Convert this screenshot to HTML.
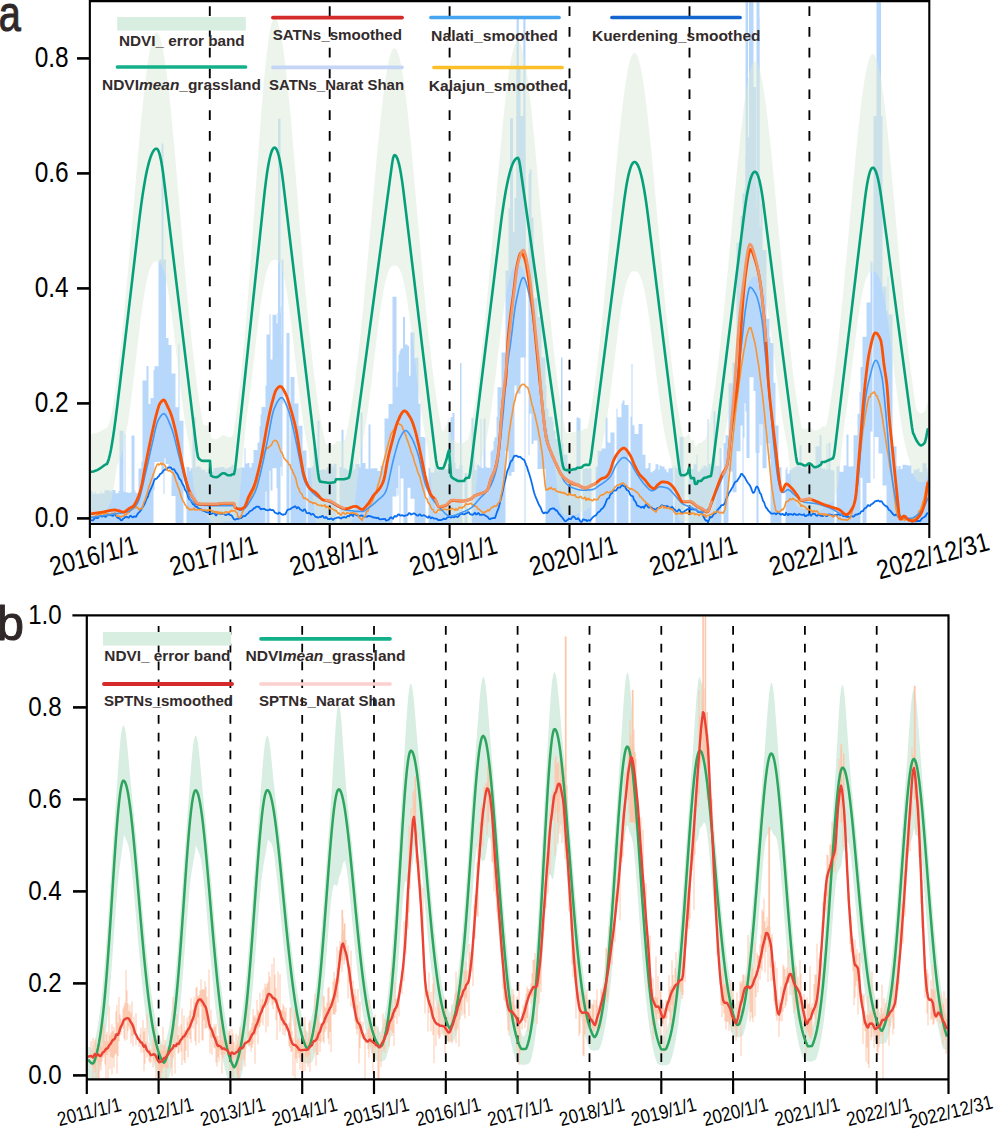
<!DOCTYPE html>
<html><head><meta charset="utf-8"><style>
html,body{margin:0;padding:0;background:#fff;}
body{width:1000px;height:1131px;overflow:hidden;font-family:"Liberation Sans", sans-serif;}
svg{display:block;}
</style></head><body>
<svg width="1000" height="1131" viewBox="0 0 1000 1131">
<defs><clipPath id="ca"><rect x="90.9" y="2.2" width="837.4" height="520.8"/></clipPath><clipPath id="cb"><rect x="87.9" y="616.5" width="859.9" height="461.9"/></clipPath></defs>
<g clip-path="url(#ca)"><path d="M90.5 490.9h2V524.1h-2zM92.5 493.7h2V524.1h-2zM94.5 491.8h1V524.1h-1zM95.5 493.8h2V524.1h-2zM97.5 493.8h3V524.1h-3zM100.5 491.2h1V524.1h-1zM101.5 493.2h3V524.1h-3zM104.5 490.3h4V524.1h-4zM108.5 490.6h2V524.1h-2zM110.5 491.8h1V524.1h-1zM111.5 490h4V524.1h-4zM115.5 493.2h3V524.1h-3zM118.5 491.1h1V524.1h-1zM119.5 430.7h4V524.1h-4zM123.5 491.8h1V524.1h-1zM124.5 433.9h1V524.1h-1zM125.5 492.3h2V524.1h-2zM127.5 492.8h3V524.1h-3zM130.5 492.3h1V524.1h-1zM131.5 435.5h3V524.1h-3zM134.5 490.5h1V524.1h-1zM135.5 493.1h3V524.1h-3zM138.5 468.6h3V524.1h-3zM141.5 461.6h1V524.1h-1zM142.5 380.6h4V524.1h-4zM146.5 366.1h2V524.1h-2zM148.5 404h2V524.1h-2zM150.5 398h3V524.1h-3zM153.5 369.9h1V490.3h-1zM154.5 366.3h4V462h-4zM158.5 261.2h3V461.7h-3zM161.5 324.7h2V473.2h-2zM163.5 335.2h1V494h-1zM164.5 354.2h1V458.2h-1zM165.5 338h3V463.9h-3zM168.5 344.9h3V469h-3zM171.5 373.4h4V496h-4zM175.5 407.3h3V524.1h-3zM178.5 343.8h1V524.1h-1zM179.5 420.8h4V524.1h-4zM186.5 466.9h3V524.1h-3zM189.5 471.3h1V524.1h-1zM190.5 468.2h2V524.1h-2zM192.5 417.3h3V524.1h-3zM195.5 467.6h1V524.1h-1zM196.5 466.3h3V524.1h-3zM199.5 467.4h2V524.1h-2zM201.5 469.7h4V524.1h-4zM205.5 472.3h2V524.1h-2zM207.5 469h2V524.1h-2zM209.5 471.6h4V524.1h-4zM213.5 467.9h3V524.1h-3zM216.5 467.5h4V524.1h-4zM220.5 466.9h4V524.1h-4zM224.5 468.4h4V524.1h-4zM228.5 467h3V524.1h-3zM231.5 464.7h2V524.1h-2zM233.5 469.7h3V524.1h-3zM236.5 468.5h2V524.1h-2zM238.5 468.1h2V524.1h-2zM240.5 467.5h4V524.1h-4zM244.5 448.3h1V524.1h-1zM245.5 463.4h2V524.1h-2zM247.5 462.9h2V524.1h-2zM249.5 467.6h2V524.1h-2zM251.5 463.1h2V524.1h-2zM253.5 450.1h4V524.1h-4zM257.5 442.4h2V524.1h-2zM259.5 426.1h1V524.1h-1zM260.5 414.2h1V524.1h-1zM261.5 407h4V524.1h-4zM265.5 385.6h1V491.5h-1zM266.5 334.6h3V524.1h-3zM269.5 314.2h1V470.7h-1zM270.5 359.5h2V490.4h-2zM272.5 314.7h4V468.3h-4zM276.5 323.6h1V488.3h-1zM277.5 313h3V524.1h-3zM280.5 306.7h1V466.8h-1zM281.5 343.3h1V475.9h-1zM286.5 333.1h3V524.1h-3zM290.5 377.1h4V524.1h-4zM294.5 403.4h4V524.1h-4zM298.5 425.7h4V524.1h-4zM302.5 450.6h4V524.1h-4zM307.5 467.8h4V524.1h-4zM311.5 467.8h1V524.1h-1zM312.5 465.9h1V524.1h-1zM313.5 447.6h3V524.1h-3zM316.5 467.3h1V524.1h-1zM317.5 420.7h2V524.1h-2zM319.5 470h3V524.1h-3zM322.5 469.6h3V524.1h-3zM325.5 470.3h1V524.1h-1zM326.5 467.4h3V524.1h-3zM329.5 464.2h3V524.1h-3zM332.5 467.2h1V524.1h-1zM333.5 463.7h3V524.1h-3zM339.5 467.1h2V524.1h-2zM341.5 429.7h2V524.1h-2zM343.5 468.2h3V524.1h-3zM346.5 470h3V524.1h-3zM349.5 463.7h4V524.1h-4zM353.5 469.3h2V524.1h-2zM355.5 464h4V524.1h-4zM359.5 467.5h1V524.1h-1zM360.5 412.5h2V524.1h-2zM362.5 463.1h3V524.1h-3zM365.5 468.7h3V524.1h-3zM368.5 424.4h2V524.1h-2zM370.5 468.5h3V524.1h-3zM373.5 468.2h4V524.1h-4zM377.5 471h3V524.1h-3zM380.5 465.4h4V524.1h-4zM384.5 418.4h4V524.1h-4zM388.5 403.9h4V524.1h-4zM392.5 296.8h4V496.4h-4zM396.5 386.9h1V487.9h-1zM397.5 372.3h1V495.6h-1zM398.5 354.6h1V465.7h-1zM399.5 351h1V524.1h-1zM400.5 348.6h3V478.5h-3zM403.5 344.6h4V524.1h-4zM407.5 375.7h3V487.7h-3zM410.5 332.6h4V498.8h-4zM414.5 357.8h4V524.1h-4zM418.5 403.7h2V524.1h-2zM420.5 437h4V524.1h-4zM424.5 437.9h1V524.1h-1zM428.5 468h2V524.1h-2zM430.5 472.4h4V524.1h-4zM434.5 466.6h1V524.1h-1zM435.5 468.1h1V524.1h-1zM436.5 469.2h1V524.1h-1zM437.5 471.2h1V524.1h-1zM438.5 467.2h3V524.1h-3zM441.5 467.7h3V524.1h-3zM444.5 469h4V524.1h-4zM448.5 429.4h2V524.1h-2zM450.5 417.3h2V524.1h-2zM452.5 412.9h2V524.1h-2zM454.5 462.7h1V524.1h-1zM455.5 468.7h4V524.1h-4zM459.5 464.9h3V524.1h-3zM464.5 473.1h3V524.1h-3zM471.5 418.1h2V524.1h-2zM473.5 431.3h1V524.1h-1zM474.5 470.2h2V524.1h-2zM476.5 464.7h3V524.1h-3zM479.5 466.8h1V524.1h-1zM480.5 418.9h1V524.1h-1zM481.5 468.1h2V524.1h-2zM483.5 418.6h2V524.1h-2zM485.5 466.7h1V524.1h-1zM486.5 467.7h4V524.1h-4zM490.5 451.9h1V524.1h-1zM491.5 450.2h2V524.1h-2zM493.5 441.3h1V524.1h-1zM494.5 437.3h2V524.1h-2zM496.5 416.7h1V524.1h-1zM497.5 387.3h4V524.1h-4zM501.5 352.4h4V524.1h-4zM505.5 270.6h3V451.1h-3zM508.5 208.4h3V475.7h-3zM511.5 232.3h3V472.1h-3zM514.5 198h2V385.4h-2zM516.5 67.1h4V393.7h-4zM524.5 176.8h1V524.1h-1zM528.5 173.7h1V455.2h-1zM529.5 169.5h2V413.8h-2zM531.5 217.8h2V443.9h-2zM533.5 298.3h4V440.6h-4zM537.5 317h4V468.9h-4zM541.5 357.6h4V468.7h-4zM545.5 385h1V524.1h-1zM546.5 408.8h2V524.1h-2zM548.5 416.7h4V524.1h-4zM552.5 421.2h1V524.1h-1zM553.5 430.5h2V524.1h-2zM555.5 438.9h3V524.1h-3zM558.5 435.1h1V524.1h-1zM559.5 443.4h4V524.1h-4zM563.5 454.7h4V524.1h-4zM567.5 466.7h3V524.1h-3zM570.5 469.7h1V524.1h-1zM571.5 466.5h1V524.1h-1zM572.5 467.6h1V524.1h-1zM573.5 466.9h3V524.1h-3zM576.5 417.6h2V524.1h-2zM578.5 418.3h2V524.1h-2zM582.5 469.1h3V524.1h-3zM585.5 468.1h2V524.1h-2zM587.5 469h1V524.1h-1zM588.5 468.3h3V524.1h-3zM595.5 466.4h2V524.1h-2zM597.5 450.8h4V524.1h-4zM601.5 448.4h4V524.1h-4zM605.5 417.4h2V524.1h-2zM607.5 441.8h1V524.1h-1zM608.5 442.7h2V524.1h-2zM610.5 432.6h4V524.1h-4zM616.5 408.8h1V524.1h-1zM617.5 417.3h4V524.1h-4zM621.5 403.6h1V524.1h-1zM622.5 400.5h2V524.1h-2zM624.5 405.1h4V524.1h-4zM630.5 416.8h1V524.1h-1zM631.5 364.3h1V524.1h-1zM632.5 425.2h2V524.1h-2zM634.5 433.9h4V524.1h-4zM638.5 423.9h4V524.1h-4zM642.5 454.8h3V524.1h-3zM645.5 468.4h2V524.1h-2zM647.5 468.1h1V524.1h-1zM648.5 463.1h2V524.1h-2zM650.5 472.3h2V524.1h-2zM652.5 471h2V524.1h-2zM654.5 469.2h1V524.1h-1zM655.5 464.2h3V524.1h-3zM658.5 469.8h1V524.1h-1zM659.5 465.6h2V524.1h-2zM661.5 466.6h3V524.1h-3zM664.5 469.2h2V524.1h-2zM666.5 472.3h2V524.1h-2zM668.5 468.2h4V524.1h-4zM672.5 467.1h1V524.1h-1zM674.5 465.7h1V524.1h-1zM675.5 468.1h4V524.1h-4zM679.5 437h4V524.1h-4zM683.5 469.9h1V524.1h-1zM688.5 470.3h1V524.1h-1zM689.5 469h4V524.1h-4zM693.5 464.3h3V524.1h-3zM696.5 454.6h1V524.1h-1zM697.5 471.4h3V524.1h-3zM700.5 469.1h1V524.1h-1zM701.5 466.4h1V524.1h-1zM702.5 468.5h1V524.1h-1zM703.5 465.7h3V524.1h-3zM706.5 467.5h1V524.1h-1zM707.5 418.9h1V524.1h-1zM708.5 463.9h2V524.1h-2zM710.5 466.8h3V524.1h-3zM713.5 411.3h2V524.1h-2zM715.5 465.9h4V524.1h-4zM719.5 447.9h2V524.1h-2zM723.5 443h2V524.1h-2zM725.5 435.3h3V524.1h-3zM728.5 383.2h4V471.5h-4zM732.5 362.7h4V492.3h-4zM736.5 242.7h4V451.2h-4zM740.5 216.1h2V425.4h-2zM742.5 192.8h1V524.1h-1zM743.5 194h1V437.7h-1zM744.5 188.3h1V403h-1zM745.5 156.9h1V411.5h-1zM746.5 136.9h3V458.1h-3zM749.5 -53.5h4V377.3h-4zM753.5 121h2V391.1h-2zM755.5 188.1h1V452.8h-1zM756.5 207.8h2V524.1h-2zM758.5 17.3h1V453h-1zM759.5 226.6h1V423.7h-1zM760.5 185.5h1V445.4h-1zM761.5 204.4h1V424.3h-1zM762.5 250h4V468.3h-4zM766.5 318.8h3V443.6h-3zM769.5 337.2h1V458.9h-1zM770.5 343.1h3V524.1h-3zM773.5 382.8h2V524.1h-2zM775.5 425.6h3V524.1h-3zM778.5 467.2h3V524.1h-3zM785.5 469.6h1V524.1h-1zM786.5 467h1V524.1h-1zM787.5 473.8h2V524.1h-2zM789.5 470h2V524.1h-2zM791.5 468.6h2V524.1h-2zM793.5 467.1h3V524.1h-3zM796.5 463.7h3V524.1h-3zM799.5 445.2h2V524.1h-2zM801.5 468.1h2V524.1h-2zM803.5 466.9h3V524.1h-3zM806.5 470.2h1V524.1h-1zM807.5 466.6h2V524.1h-2zM809.5 467.2h2V524.1h-2zM811.5 467.8h4V524.1h-4zM815.5 446.3h4V524.1h-4zM819.5 434.9h2V524.1h-2zM821.5 468.5h4V524.1h-4zM825.5 470.2h1V524.1h-1zM826.5 444h1V524.1h-1zM827.5 468.7h1V524.1h-1zM828.5 442.7h2V524.1h-2zM830.5 470h3V524.1h-3zM833.5 470.9h1V524.1h-1zM836.5 466.2h3V524.1h-3zM839.5 471.7h4V524.1h-4zM843.5 465.5h3V524.1h-3zM846.5 434.6h2V524.1h-2zM848.5 466.5h2V524.1h-2zM850.5 466.5h2V524.1h-2zM852.5 465.9h1V524.1h-1zM853.5 435.3h4V524.1h-4zM857.5 413.8h2V524.1h-2zM859.5 392.2h1V524.1h-1zM860.5 367h2V477.8h-2zM862.5 336.8h4V524.1h-4zM866.5 302.6h4V483.1h-4zM870.5 261.7h2V431.4h-2zM873.5 263.4h1V478.7h-1zM874.5 121.5h4V437h-4zM878.5 290h4V453.4h-4zM882.5 286.4h4V485.6h-4zM886.5 310.5h1V524.1h-1zM887.5 276.7h1V524.1h-1zM888.5 314.6h4V524.1h-4zM892.5 446.2h4V524.1h-4zM896.5 465.9h1V524.1h-1zM897.5 469.6h1V524.1h-1zM898.5 466h2V524.1h-2zM900.5 468.9h2V524.1h-2zM902.5 464.7h3V524.1h-3zM905.5 465h2V524.1h-2zM907.5 465.4h4V524.1h-4zM911.5 473.3h2V524.1h-2zM913.5 469.8h4V524.1h-4zM917.5 468.3h2V524.1h-2zM919.5 472.1h3V524.1h-3zM922.5 463.3h4V524.1h-4zM926.5 468h1V524.1h-1zM927.5 471.6h1V524.1h-1z" fill="#b8d8fb"/><path d="M161.5 143.5H163.5V403.4H161.5zM159.5 259.6H166.0V403.4H159.5zM278.0 118.8H280.5V374.6H278.0zM281.5 259.6H283.5V403.4H281.5zM510.0 118.2H513.0V345.9H510.0zM516.4 115.9H525.7V357.4H516.4zM516.6 18.1H518.8V230.9H516.6zM523.3 18.1H525.5V230.9H523.3zM745.5 230.9H760.0V374.6H745.5zM745.5 -10.6H748.0V288.4H745.5zM749.0 -10.6H751.5V288.4H749.0zM752.0 87.1H756.0V288.4H752.0zM756.5 -10.6H759.5V288.4H756.5zM873.5 115.9H882.5V357.4H873.5zM876.5 -10.6H881.0V230.9H876.5zM403.0 317.1H405.0V432.1H403.0zM407.0 345.9H409.0V449.4H407.0zM460.0 363.1H461.5V472.4H460.0zM561.0 357.4H562.5V472.4H561.0z" fill="#b8d8fb"/><polygon points="91,434 92,434 93,433.8 94,433.6 95,433.3 96,433 97,432.7 98,432.3 99,431.9 100,431.4 101,430.8 102,430.3 103,429.8 104,429.2 105,428.6 106,428.3 107,428.1 108,426.1 109,423.6 110,420.4 111,416.6 112,412.3 113,406.2 114,399.7 115,392.7 116,385.4 117,377.8 118,369.7 119,361.3 120,352.6 121,343.5 122,334 123,324.2 124,314.1 125,303.7 126,293 127,282.1 128,270.9 129,259.6 130,248 131,236.4 132,224.7 133,212.9 134,201.1 135,189.4 136,177.7 137,166.2 138,154.8 139,143.7 140,132.8 141,122.3 142,112.1 143,102.4 144,93.1 145,84.4 146,76.2 147,68.6 148,61.6 149,55.4 150,49.8 151,44.9 152,40.9 153,37.6 154,35.1 155,33.5 156,32.6 157,32.6 158,33.5 159,35.1 160,37.6 161,40.9 162,44.9 163,49.8 164,55.4 165,61.6 166,68.6 167,76.2 168,84.4 169,93.1 170,102.4 171,112.1 172,122.3 173,132.8 174,143.7 175,154.8 176,166.2 177,177.7 178,189.4 179,201.1 180,212.9 181,224.7 182,236.4 183,248 184,259.6 185,270.9 186,282.1 187,293 188,303.7 189,314.1 190,324.2 191,334 192,343.5 193,352.6 194,361.3 195,369.7 196,377.8 197,385.4 198,392.7 199,399.7 200,406.2 201,412.4 202,418.2 203,423.7 204,425.6 205,425.6 206,425.6 207,425.6 208,425.6 209,425.6 210,425.6 211,437.6 212,438.3 213,438.7 214,439 215,439.1 216,439.2 217,439.2 218,438.8 219,438.1 220,437.2 221,436.3 222,435.6 223,435.3 224,435.3 225,435.7 226,436.2 227,436.8 228,437.3 229,437.3 230,437.3 231,437.3 232,436.6 233,434.9 234,429.2 235,423.1 236,416.4 237,409.3 238,401.6 239,393.5 240,384.7 241,375.5 242,365.7 243,355.4 244,344.6 245,333.3 246,321.5 247,309.2 248,296.5 249,283.5 250,270 251,256.3 252,242.3 253,228.2 254,213.9 255,199.6 256,185.2 257,171 258,156.9 259,143.1 260,129.6 261,116.6 262,104 263,92 264,80.7 265,70.1 266,60.3 267,51.4 268,43.5 269,36.5 270,30.6 271,25.8 272,22.2 273,19.7 274,18.4 275,18.2 276,19 277,20.6 278,23.1 279,26.4 280,30.5 281,35.4 282,41.1 283,47.5 284,54.6 285,62.4 286,70.8 287,79.8 288,89.3 289,99.3 290,109.8 291,120.6 292,131.8 293,143.3 294,155 295,166.9 296,178.9 297,191 298,203.2 299,215.4 300,227.5 301,239.5 302,251.4 303,263.2 304,274.7 305,286 306,297.1 307,307.9 308,318.3 309,328.5 310,338.3 311,347.7 312,356.8 313,365.5 314,373.9 315,381.8 316,389.4 317,396.6 318,403.4 319,409.8 320,415.9 321,421.6 322,426.9 323,432 324,436.6 325,441 326,444.5 327,444.6 328,444.7 329,444.8 330,444.8 331,444.8 332,444.6 333,444.5 334,444.2 335,444 336,441.3 337,441.3 338,441.3 339,441.3 340,441.3 341,441.3 342,441.3 343,441.3 344,441.3 345,439.4 346,435.1 347,430.4 348,425.5 349,420.2 350,414.5 351,408.6 352,402.2 353,395.6 354,388.5 355,381.1 356,373.4 357,365.3 358,356.8 359,348 360,338.9 361,329.4 362,319.7 363,309.6 364,299.3 365,288.8 366,278 367,267.1 368,256 369,244.7 370,233.4 371,222.1 372,210.7 373,199.4 374,188.1 375,177 376,166 377,155.3 378,144.8 379,134.7 380,124.9 381,115.5 382,106.5 383,98.1 384,90.2 385,82.8 386,76.1 387,70.1 388,64.7 389,60 390,56.1 391,52.9 392,50.6 393,49 394,48.2 395,48.2 396,49 397,50.6 398,52.9 399,56.1 400,60 401,64.7 402,70.1 403,76.1 404,82.8 405,90.2 406,98.1 407,106.5 408,115.5 409,124.9 410,134.7 411,144.8 412,155.3 413,166 414,177 415,188.1 416,199.4 417,210.7 418,222.1 419,233.4 420,244.7 421,256 422,267.1 423,278 424,288.8 425,299.3 426,309.6 427,319.7 428,329.4 429,338.9 430,348 431,356.8 432,365.3 433,373.4 434,381.1 435,388.5 436,395.6 437,402.2 438,408.6 439,414.5 440,420.2 441,425.5 442,430.4 443,431.3 444,430 445,427.9 446,425.6 447,422.8 448,419.6 449,417.4 450,426.7 451,438.1 452,439.5 453,440.3 454,440.8 455,441.3 456,442 457,442.6 458,443.1 459,443.1 460,443.1 461,443.1 462,443.1 463,443.1 464,443.1 465,441.3 466,440.2 467,440 468,439.9 469,435.8 470,431.2 471,426.2 472,421 473,415.3 474,409.4 475,403.1 476,396.4 477,389.3 478,381.9 479,374.2 480,366 481,357.5 482,348.7 483,339.5 484,330 485,320.2 486,310.1 487,299.7 488,289 489,278.2 490,267.1 491,255.8 492,244.5 493,233 494,221.5 495,209.9 496,198.4 497,186.9 498,175.6 499,164.4 500,153.4 501,142.7 502,132.2 503,122.2 504,112.5 505,103.2 506,94.5 507,86.3 508,78.7 509,71.7 510,65.3 511,59.6 512,54.7 513,50.5 514,47 515,44.3 516,42.5 517,41.4 518,41.2 519,41.7 520,43.1 521,45.3 522,48.3 523,52.1 524,56.6 525,61.8 526,67.8 527,74.4 528,81.7 529,89.5 530,97.9 531,106.9 532,116.3 533,126.1 534,136.4 535,146.9 536,157.7 537,168.8 538,180.1 539,191.5 540,203 541,214.5 542,226.1 543,237.6 544,249 545,260.4 546,271.5 547,282.5 548,293.3 549,303.9 550,314.2 551,324.2 552,333.9 553,343.2 554,352.3 555,361 556,369.3 557,377.3 558,384.9 559,392.2 560,399.1 561,405.6 562,411.8 563,417.6 564,423.1 565,428.3 566,432.6 567,432.7 568,432.7 569,432.7 570,432.7 571,432.5 572,432.4 573,432.2 574,432.1 575,432 576,431.8 577,430.9 578,430.9 579,430.9 580,430.9 581,430.8 582,430.4 583,429.7 584,429 585,428.7 586,428.7 587,428.7 588,426 589,420.7 590,415.2 591,409.2 592,403 593,396.4 594,389.4 595,382.1 596,374.4 597,366.4 598,358.1 599,349.4 600,340.3 601,331 602,321.3 603,311.4 604,301.2 605,290.8 606,280.1 607,269.3 608,258.3 609,247.2 610,236 611,224.8 612,213.5 613,202.3 614,191.2 615,180.2 616,169.4 617,158.7 618,148.4 619,138.3 620,128.6 621,119.3 622,110.5 623,102.1 624,94.3 625,87.1 626,80.4 627,74.4 628,69.1 629,64.5 630,60.6 631,57.5 632,55.1 633,53.5 634,52.7 635,52.7 636,53.5 637,55.1 638,57.5 639,60.6 640,64.5 641,69.1 642,74.4 643,80.4 644,87.1 645,94.3 646,102.1 647,110.5 648,119.3 649,128.6 650,138.3 651,148.4 652,158.7 653,169.4 654,180.2 655,191.2 656,202.3 657,213.5 658,224.8 659,236 660,247.2 661,258.3 662,269.3 663,280.1 664,290.8 665,301.2 666,311.4 667,321.3 668,331 669,340.3 670,349.4 671,358.1 672,366.4 673,374.4 674,382.1 675,389.4 676,396.4 677,403 678,409.2 679,415.2 680,420.7 681,426 682,430.9 683,435.5 684,437.3 685,437.1 686,436.6 687,435.7 688,434.4 689,431.2 690,437 691,440.2 692,440.2 693,440.2 694,440.2 695,445.9 696,445.9 697,445.9 698,443.1 699,443.1 700,443.1 701,443.1 702,442.1 703,440.9 704,440.2 705,439.9 706,438.4 707,434 708,429.4 709,424.4 710,419.1 711,413.5 712,407.5 713,401.2 714,394.6 715,387.6 716,380.3 717,372.6 718,364.5 719,356.2 720,347.5 721,338.5 722,329.2 723,319.6 724,309.7 725,299.6 726,289.3 727,278.8 728,268.1 729,257.3 730,246.4 731,235.4 732,224.4 733,213.4 734,202.4 735,191.6 736,180.9 737,170.3 738,160.1 739,150.1 740,140.4 741,131.1 742,122.2 743,113.8 744,105.8 745,98.5 746,91.7 747,85.5 748,79.9 749,75.1 750,70.9 751,67.5 752,64.8 753,62.8 754,61.7 755,61.3 756,61.7 757,62.8 758,64.8 759,67.5 760,70.9 761,75.1 762,79.9 763,85.5 764,91.7 765,98.5 766,105.8 767,113.8 768,122.2 769,131.1 770,140.4 771,150.1 772,160.1 773,170.3 774,180.9 775,191.6 776,202.4 777,213.4 778,224.4 779,235.4 780,246.4 781,257.3 782,268.1 783,278.8 784,289.3 785,299.6 786,309.7 787,319.6 788,329.2 789,338.5 790,347.5 791,356.2 792,364.5 793,372.6 794,380.3 795,387.6 796,394.6 797,401.2 798,407.5 799,413.5 800,419.1 801,424.4 802,428.3 803,428.8 804,429.2 805,429.2 806,429.2 807,428.7 808,427.9 809,427.5 810,427.6 811,428.2 812,428.9 813,429.7 814,430.2 815,430.5 816,430.4 817,430.2 818,429.8 819,429.4 820,428.9 821,428.4 822,426.5 823,426.5 824,426.5 825,426.4 826,426 827,422.5 828,417 829,411.2 830,405.1 831,398.6 832,391.8 833,384.6 834,377 835,369.1 836,360.9 837,352.3 838,343.4 839,334.2 840,324.7 841,314.8 842,304.8 843,294.4 844,283.9 845,273.1 846,262.2 847,251.2 848,240 849,228.8 850,217.6 851,206.4 852,195.3 853,184.3 854,173.4 855,162.7 856,152.3 857,142.2 858,132.4 859,123 860,114.1 861,105.6 862,97.6 863,90.2 864,83.4 865,77.2 866,71.7 867,66.9 868,62.8 869,59.5 870,56.9 871,55.1 872,54.1 873,53.8 874,54.4 875,55.7 876,57.8 877,60.7 878,64.4 879,68.8 880,73.9 881,79.6 882,86.1 883,93.1 884,100.8 885,108.9 886,117.6 887,126.7 888,136.3 889,146.2 890,156.5 891,167 892,177.7 893,188.7 894,199.7 895,210.9 896,222.1 897,233.3 898,244.5 899,255.6 900,266.6 901,277.4 902,288.1 903,298.6 904,308.8 905,318.8 906,328.5 907,337.9 908,347 909,355.8 910,364.2 911,372.3 912,380.1 913,387.5 914,394.5 915,401.2 916,407.6 917,410.4 918,411.5 919,412.5 920,413.3 921,413.5 922,413.3 923,412.8 924,412.1 925,411.1 926,408.1 927,403.8 928,400 928,475.2 927,477.4 926,479.6 925,481.1 924,481.5 923,481.8 922,482 921,482.1 920,482 919,481.7 918,481.2 917,480.8 916,480 915,478.3 914,476.2 913,474.3 912,470.9 911,466.5 910,462.2 909,458.9 908,455.9 907,452.4 906,448.5 905,444.2 904,439.4 903,434.2 902,428.5 901,422.4 900,415.9 899,409 898,401.7 897,394.1 896,386.2 895,378.2 894,370 893,361.8 892,353.5 891,345.4 890,337.4 889,329.7 888,322.3 887,315.2 886,308.6 885,302.4 884,296.8 883,291.7 882,287.2 881,283.3 880,280 879,277.3 878,275.1 877,273.5 876,272.3 875,271.6 874,271.3 873,271.2 872,271.2 871,271.4 870,272 869,273 868,274.4 867,276.4 866,278.9 865,282 864,285.6 863,289.9 862,294.7 861,300.1 860,306.1 859,312.5 858,319.4 857,326.7 856,334.3 855,342.2 854,350.3 853,358.5 852,366.7 851,374.9 850,383 849,391 848,398.7 847,406.1 846,413.2 845,419.9 844,426.2 843,435.7 842,445.7 841,455.8 840,466 839,476.1 838,485.6 837,490.8 836,493.7 835,496.7 834,499.5 833,501 832,501.5 831,502.1 830,502.8 829,503.4 828,503.7 827,503.9 826,504.1 825,506.6 824,507.4 823,508 822,508.6 821,509.9 820,510.5 819,510.8 818,511 817,511.2 816,511.3 815,511.3 814,511.2 813,510.9 812,510.6 811,510.2 810,509.7 809,508.8 808,508.4 807,508.8 806,509 805,509 804,509 803,508.8 802,508.6 801,508.4 800,508.4 799,507.9 798,507.3 797,506.3 796,504.2 795,501.8 794,499.4 793,495.5 792,487.8 791,478.5 790,468.9 789,459.2 788,449.7 787,444.2 786,439.5 785,434.3 784,428.7 783,422.7 782,416.2 781,409.4 780,402.3 779,394.9 778,387.2 777,379.3 776,371.4 775,363.4 774,355.4 773,347.5 772,339.8 771,332.3 770,325.2 769,318.4 768,312 767,306.2 766,300.8 765,296 764,291.7 763,288.1 762,285 761,282.4 760,280.4 759,278.9 758,277.9 757,277.3 756,277 755,276.9 754,277 753,277.3 752,277.9 751,278.9 750,280.4 749,282.4 748,285 747,288.1 746,291.7 745,296 744,300.8 743,306.2 742,312 741,318.4 740,325.2 739,332.3 738,339.8 737,347.5 736,355.4 735,363.4 734,371.4 733,379.3 732,387.2 731,394.9 730,402.3 729,409.4 728,416.2 727,422.7 726,428.7 725,434.3 724,439.5 723,444.2 722,448.5 721,455 720,464.8 719,474.7 718,484.8 717,494.9 716,504.8 715,513 714,515.9 713,519 712,522 711,523.2 710,523.5 709,523.8 708,524.1 707,524.9 706,526 705,527 704,527 703,527 702,527 701,529.8 700,529.9 699,529.9 698,529.9 697,529.9 696,529.9 695,529.9 694,529.9 693,529.9 692,529.9 691,529.9 690,524.1 689,522.6 688,524.1 687,524.1 686,521.3 685,521.3 684,521.3 683,521.3 682,521.3 681,521.3 680,521.3 679,519 678,516.3 677,513.6 676,508.7 675,499.6 674,489.5 673,479.3 672,469.2 671,459.7 670,456.8 669,453.5 668,449.7 667,445.6 666,440.9 665,435.8 664,430.3 663,424.3 662,417.9 661,411.1 660,403.9 659,396.4 658,388.6 657,380.6 656,372.5 655,364.2 654,356 653,347.8 652,339.8 651,332 650,324.5 649,317.3 648,310.5 647,304.2 646,298.4 645,293.2 644,288.5 643,284.5 642,281 641,278.1 640,275.7 639,273.9 638,272.6 637,271.8 636,271.3 635,271.2 634,271.2 633,271.3 632,271.8 631,272.6 630,273.9 629,275.7 628,278.1 627,281 626,284.5 625,288.5 624,293.2 623,298.4 622,304.2 621,310.5 620,317.3 619,324.5 618,332 617,339.8 616,347.8 615,356 614,364.2 613,372.5 612,380.6 611,388.6 610,396.4 609,403.9 608,411.1 607,417.9 606,424.3 605,430.3 604,435.8 603,440.9 602,445.6 601,449.7 600,453.5 599,456.8 598,460 597,469.6 596,479.2 595,488.7 594,496.9 593,500.7 592,503.2 591,505.6 590,507.7 589,508.3 588,508.6 587,509.4 586,510.3 585,510.9 584,511.2 583,511.5 582,511.8 581,512 580,513.2 579,513.5 578,513.6 577,513.8 576,514.4 575,514.7 574,515 573,515 572,515.1 571,515.2 570,515.2 569,515.2 568,515.2 567,515.2 566,515.2 565,515.1 564,514.8 563,513.8 562,512 561,509.5 560,506.4 559,501.5 558,494.3 557,485.8 556,476.9 555,468.1 554,459.3 553,455.3 552,451.8 551,447.8 550,443.3 549,438.4 548,433.1 547,427.2 546,420.9 545,414.2 544,407.1 543,399.6 542,391.8 541,383.7 540,375.4 539,367 538,358.6 537,350.1 536,341.7 535,333.5 534,325.6 533,318 532,310.7 531,303.9 530,297.6 529,291.8 528,286.6 527,282 526,277.9 525,274.5 524,271.7 523,269.5 522,267.8 521,266.6 520,265.9 519,265.5 518,265.4 517,265.4 516,265.7 515,266.3 514,267.3 513,268.8 512,270.8 511,273.3 510,276.5 509,280.3 508,284.7 507,289.6 506,295.2 505,301.3 504,307.9 503,315 502,322.5 501,330.3 500,338.4 499,346.8 498,355.2 497,363.7 496,372.1 495,380.4 494,388.6 493,396.5 492,404.1 491,411.4 490,418.3 489,424.8 488,430.8 487,436.3 486,441.4 485,446.1 484,450.2 483,453.9 482,457.2 481,460.1 480,462.7 479,464.8 478,468.4 477,478.6 476,488.8 475,499.1 474,508.9 473,515.8 472,518.7 471,521.6 470,524.1 469,525.3 468,527 467,527 466,527 465,527 464,527 463,527 462,527 461,527 460,527 459,527 458,527 457,527 456,527 455,527 454,527 453,526.5 452,525.9 451,525.3 450,521.1 449,516.5 448,516.6 447,516.6 446,510.2 445,511.2 444,512.2 443,512.8 442,512.9 441,512.9 440,512.9 439,512.8 438,512.7 437,511.9 436,509.9 435,507.2 434,504.1 433,499.4 432,491.5 431,481.6 430,471.3 429,461.1 428,451 427,444.7 426,440 425,434.7 424,429 423,422.9 422,416.3 421,409.3 420,401.9 419,394.2 418,386.2 417,377.9 416,369.6 415,361.1 414,352.6 413,344.2 412,336 411,328 410,320.2 409,312.8 408,305.9 407,299.4 406,293.5 405,288.1 404,283.3 403,279.1 402,275.5 401,272.5 400,270.1 399,268.3 398,266.9 397,266.1 396,265.6 395,265.4 394,265.4 393,265.6 392,266.1 391,266.9 390,268.3 389,270.1 388,272.5 387,275.5 386,279.1 385,283.3 384,288.1 383,293.5 382,299.4 381,305.9 380,312.8 379,320.2 378,328 377,336 376,344.2 375,352.6 374,361.1 373,369.6 372,377.9 371,386.2 370,394.2 369,401.9 368,409.3 367,416.3 366,422.9 365,429 364,434.7 363,440 362,444.7 361,449 360,455.6 359,464.8 358,474 357,483.3 356,492.7 355,502 354,510.4 353,516.7 352,519.8 351,522.6 350,524.7 349,525 348,525.3 347,525.3 346,525.3 345,525.3 344,525.3 343,525.3 342,525.3 341,525.3 340,525.3 339,527.9 338,528.2 337,528.4 336,528.6 335,528.7 334,528.7 333,528.7 332,528.7 331,528.7 330,528.7 329,528.7 328,528.7 327,528.7 326,528.7 325,528.7 324,528.7 323,528.6 322,528.4 321,528.3 320,528.2 319,528 318,527.9 317,524.8 316,521.9 315,516.3 314,507.4 313,497 312,486.4 311,475.9 310,465.6 309,455.3 308,447.9 307,443.4 306,438.5 305,433.1 304,427.2 303,420.8 302,414 301,406.7 300,399.1 299,391.1 298,382.9 297,374.4 296,365.8 295,357.1 294,348.4 293,339.8 292,331.3 291,323.1 290,315.2 289,307.6 288,300.6 287,294 286,287.9 285,282.4 284,277.6 283,273.3 282,269.7 281,266.7 280,264.3 279,262.4 278,261.1 277,260.3 276,259.8 275,259.7 274,259.7 273,259.9 272,260.4 271,261.3 270,262.8 269,264.7 268,267.2 267,270.4 266,274.1 265,278.5 264,283.5 263,289.1 262,295.2 261,301.9 260,309.1 259,316.7 258,324.7 257,333 256,341.5 255,350.2 254,358.9 253,367.5 252,376.1 251,384.6 250,392.8 249,400.7 248,408.2 247,415.4 246,423.4 245,434.5 244,445.8 243,457.2 242,468.7 241,480.4 240,492.1 239,502.8 238,510 237,513.1 236,516.6 235,520.3 234,521.3 233,521.3 232,521.3 231,521.3 230,521.3 229,521.3 228,521.3 227,521.3 226,521.3 225,521.3 224,521.3 223,522 222,522.7 221,523.1 220,523.2 219,523.2 218,523.2 217,523.2 216,523.2 215,523.2 214,523.2 213,523.2 212,523.2 211,523.1 210,518.8 209,518.5 208,518.1 207,517.4 206,502.7 205,502.7 204,502.7 203,502.7 202,502.7 201,502.5 200,502.3 199,502 198,501.3 197,498.9 196,495.9 195,492.6 194,488.5 193,480.7 192,471.3 191,461.3 190,451.3 189,444.1 188,439.3 187,433.9 186,428.1 185,421.9 184,415.1 183,408 182,400.5 181,392.6 180,384.5 179,376.1 178,367.5 177,358.9 176,350.3 175,341.7 174,333.3 173,325.1 172,317.2 171,309.7 170,302.6 169,296 168,290 167,284.5 166,279.6 165,275.3 164,271.7 163,268.6 162,266.2 161,264.3 160,262.9 159,262.1 158,261.6 157,261.4 156,261.4 155,261.6 154,262.1 153,262.9 152,264.3 151,266.2 150,268.6 149,271.7 148,275.3 147,279.6 146,284.5 145,290 144,296 143,302.6 142,309.7 141,317.2 140,325.1 139,333.3 138,341.7 137,350.3 136,358.9 135,367.5 134,376.1 133,384.5 132,392.6 131,400.5 130,408 129,415.1 128,421.9 127,428.1 126,433.9 125,439.3 124,444.1 123,448.5 122,452.4 121,455.9 120,459 119,461.7 118,464 117,466 116,472.1 115,479.6 114,486.5 113,492.5 112,497.7 111,502.1 110,503.9 109,505.7 108,507.6 107,509.3 106,510 105,510.9 104,511.8 103,512.8 102,513.6 101,514.4 100,515 99,515.7 98,516.3 97,516.7 96,517.1 95,517.3 94,517.4 93,517.5 92,517.6 91,517.6" fill="#dae9da" fill-opacity="0.52"/><line x1="209.8" y1="6.2" x2="209.8" y2="524" stroke="#000" stroke-width="1.9" stroke-dasharray="9.7 11.1"/><line x1="329.7" y1="6.2" x2="329.7" y2="524" stroke="#000" stroke-width="1.9" stroke-dasharray="9.7 11.1"/><line x1="449.6" y1="6.2" x2="449.6" y2="524" stroke="#000" stroke-width="1.9" stroke-dasharray="9.7 11.1"/><line x1="569.5" y1="6.2" x2="569.5" y2="524" stroke="#000" stroke-width="1.9" stroke-dasharray="9.7 11.1"/><line x1="689.5" y1="6.2" x2="689.5" y2="524" stroke="#000" stroke-width="1.9" stroke-dasharray="9.7 11.1"/><line x1="809.4" y1="6.2" x2="809.4" y2="524" stroke="#000" stroke-width="1.9" stroke-dasharray="9.7 11.1"/><polyline points="91,471.8 92,471.8 93,471.6 94,471.3 95,470.9 96,470.5 97,470.1 98,469.6 99,469 100,468.4 101,467.7 102,467 103,466.3 104,465.5 105,464.8 106,464.3 107,464.1 108,461.6 109,458.3 110,454.2 111,449.4 112,443.8 113,437.5 114,430.7 115,423.4 116,415.8 117,408 118,399.9 119,391.7 120,383.4 121,375.1 122,366.7 123,358.2 124,349.8 125,341.3 126,332.8 127,324.3 128,315.8 129,307.3 130,298.8 131,290.3 132,281.8 133,273.2 134,264.7 135,256.2 136,247.7 137,239.2 138,230.7 139,222.2 140,214 141,206.3 142,199.1 143,192.4 144,186.2 145,180.4 146,175.1 147,170.3 148,166 149,162.2 150,158.8 151,155.9 152,153.5 153,151.6 154,150.2 155,149.2 156,148.7 157,148.8 158,149.9 159,152.2 160,155.6 161,160.1 162,165.7 163,172.4 164,180.3 165,188.5 166,196.8 167,205 168,213.3 169,221.5 170,229.8 171,238.1 172,246.3 173,254.6 174,262.8 175,271.1 176,279.3 177,287.6 178,295.8 179,304.1 180,312.4 181,320.6 182,328.9 183,337.1 184,345.4 185,353.6 186,361.9 187,370.1 188,378.4 189,386.7 190,394.9 191,403.2 192,411.4 193,419.7 194,427.9 195,436.1 196,444.1 197,451.5 198,456.9 199,458.8 200,459.6 201,460.3 202,460.8 203,460.9 204,460.9 205,460.9 206,460.9 207,460.9 208,460.9 209,460.9 210,460.9 211,475.6 212,476.2 213,476.7 214,476.9 215,477.1 216,477.2 217,477.1 218,476.7 219,476 220,475.1 221,474.3 222,473.6 223,473.2 224,473.3 225,473.6 226,474.2 227,474.8 228,475.3 229,475.3 230,475.3 231,475.3 232,474.5 233,474.1 234,474.1 235,469.7 236,461.6 237,452.4 238,443 239,433.6 240,424.2 241,414.7 242,405.3 243,395.8 244,386.4 245,377 246,367.5 247,358.1 248,348.7 249,339.2 250,329.8 251,320.4 252,310.9 253,301.5 254,292.1 255,282.6 256,273.2 257,263.8 258,254.3 259,244.9 260,235.5 261,226 262,216.6 263,207.2 264,197.7 265,188.7 266,180.6 267,173.3 268,167 269,161.5 270,157 271,153.3 272,150.5 273,148.7 274,147.7 275,147.6 276,148.5 277,150.3 278,153 279,156.7 280,161.4 281,167 282,173.6 283,181.1 284,189.4 285,197.7 286,206.1 287,214.4 288,222.7 289,231.1 290,239.4 291,247.8 292,256.1 293,264.4 294,272.8 295,281.1 296,289.5 297,297.8 298,306.2 299,314.5 300,322.8 301,331.2 302,339.5 303,347.9 304,356.2 305,364.5 306,372.9 307,381.2 308,389.6 309,397.9 310,406.3 311,414.6 312,422.9 313,431.3 314,439.6 315,448 316,456.3 317,464.6 318,472.5 319,478.8 320,481.6 321,481.7 322,481.9 323,482 324,482.2 325,482.3 326,482.4 327,482.6 328,482.7 329,482.7 330,482.7 331,482.7 332,482.6 333,482.4 334,482.2 335,481.9 336,479.3 337,479.3 338,479.3 339,479.3 340,479.3 341,479.3 342,479.3 343,479.3 344,479.3 345,479 346,478.7 347,478.4 348,478.1 349,477.5 350,473.7 351,467.5 352,460.4 353,453 354,445.7 355,438.3 356,430.9 357,423.5 358,416.1 359,408.7 360,401.2 361,393.8 362,386.4 363,379 364,371.6 365,364.2 366,356.8 367,349.4 368,342 369,334.6 370,327.2 371,319.8 372,312.4 373,305 374,297.6 375,290.2 376,282.8 377,275.4 378,268 379,260.6 380,253.2 381,245.8 382,238.4 383,231 384,223.6 385,216.2 386,208.8 387,201.4 388,194 389,186.6 390,179.2 391,171.8 392,164.4 393,158.4 394,155.4 395,155.1 396,156 397,157.8 398,160.5 399,164.1 400,168.6 401,174.1 402,180.4 403,187.6 404,195.7 405,204 406,212.2 407,220.5 408,228.8 409,237.1 410,245.4 411,253.7 412,262 413,270.2 414,278.5 415,286.8 416,295.1 417,303.4 418,311.7 419,320 420,328.2 421,336.5 422,344.8 423,353.1 424,361.4 425,369.7 426,378 427,386.2 428,394.5 429,402.8 430,411.1 431,419.4 432,427.7 433,436 434,444.2 435,452.4 436,460 437,465.5 438,467.8 439,468.3 440,468.4 441,468.4 442,468.4 443,468.3 444,466.6 445,463.8 446,460.9 447,457.3 448,453.1 449,450.3 450,462.3 451,476.1 452,477.4 453,478.2 454,478.8 455,479.3 456,479.9 457,480.5 458,481 459,481 460,481 461,481 462,481 463,481 464,481 465,479.3 466,478.1 467,478 468,477.8 469,477.7 470,473.3 471,466 472,458 473,449.9 474,441.8 475,433.6 476,425.5 477,417.4 478,409.3 479,401.2 480,393 481,384.9 482,376.8 483,368.7 484,360.6 485,352.4 486,344.3 487,336.2 488,328.1 489,319.9 490,311.8 491,303.7 492,295.6 493,287.5 494,279.3 495,271.2 496,263.1 497,255 498,246.8 499,238.7 500,230.6 501,222.7 502,215.2 503,208.2 504,201.6 505,195.5 506,189.8 507,184.7 508,179.9 509,175.7 510,171.8 511,168.5 512,165.6 513,163.2 514,161.2 515,159.7 516,158.6 517,158 518,157.9 519,160 520,165.2 521,172.2 522,179.3 523,186.3 524,193.4 525,200.5 526,207.5 527,214.6 528,221.7 529,228.7 530,235.8 531,242.9 532,249.9 533,257 534,264.1 535,271.1 536,278.2 537,285.2 538,292.3 539,299.4 540,306.4 541,313.5 542,320.6 543,327.6 544,334.7 545,341.8 546,348.8 547,355.9 548,363 549,370 550,377.1 551,384.2 552,391.2 553,398.3 554,405.3 555,412.4 556,419.5 557,426.5 558,433.6 559,440.7 560,447.7 561,454.6 562,461.2 563,466.3 564,469 565,469.8 566,470 567,470.1 568,470.1 569,470.1 570,470.1 571,469.9 572,469.7 573,469.5 574,469.3 575,469.2 576,468.9 577,467.8 578,467.8 579,467.8 580,467.8 581,467.6 582,467.1 583,466.1 584,465.3 585,464.9 586,464.9 587,464.9 588,465 589,465 590,463.4 591,457.4 592,450.1 593,442.4 594,434.7 595,426.9 596,419.1 597,411.4 598,403.6 599,395.9 600,388.1 601,380.4 602,372.6 603,364.8 604,357.1 605,349.3 606,341.6 607,333.8 608,326 609,318.3 610,310.5 611,302.8 612,295 613,287.3 614,279.5 615,271.7 616,264 617,256.2 618,248.5 619,240.7 620,233 621,225.2 622,217.4 623,209.7 624,201.9 625,194.7 626,188.1 627,182.3 628,177.2 629,172.9 630,169.3 631,166.3 632,164.2 633,162.7 634,162 635,162 636,162.6 637,163.8 638,165.5 639,167.9 640,170.9 641,174.5 642,178.6 643,183.4 644,188.7 645,194.7 646,201.2 647,208.4 648,216.1 649,224.2 650,232.3 651,240.4 652,248.4 653,256.5 654,264.6 655,272.7 656,280.8 657,288.8 658,296.9 659,305 660,313.1 661,321.2 662,329.2 663,337.3 664,345.4 665,353.5 666,361.6 667,369.6 668,377.7 669,385.8 670,393.9 671,402 672,410 673,418.1 674,426.2 675,434.3 676,442.4 677,450.4 678,458.5 679,466.2 680,472.9 681,475.2 682,475.3 683,475.3 684,475.3 685,475.1 686,474.5 687,473.6 688,472.4 689,468.1 690,474.9 691,478.1 692,478.1 693,478.1 694,478.1 695,483.9 696,483.9 697,483.8 698,481 699,481 700,481 701,481 702,480 703,478.9 704,478.1 705,477.8 706,477.5 707,477.2 708,476.8 709,476.5 710,476.2 711,475.9 712,470.2 713,462.6 714,454.7 715,446.7 716,438.7 717,430.8 718,422.8 719,414.8 720,406.8 721,398.9 722,390.9 723,382.9 724,374.9 725,366.9 726,359 727,351 728,343 729,335 730,327.1 731,319.1 732,311.1 733,303.1 734,295.2 735,287.2 736,279.2 737,271.2 738,263.3 739,255.3 740,247.3 741,239.3 742,231.4 743,223.4 744,215.4 745,207.8 746,200.9 747,194.8 748,189.4 749,184.7 750,180.7 751,177.5 752,174.9 753,173.1 754,172 755,171.7 756,172.1 757,173.5 758,175.7 759,178.8 760,182.9 761,187.8 762,193.6 763,200.3 764,207.9 765,215.7 766,223.5 767,231.3 768,239.1 769,246.9 770,254.7 771,262.5 772,270.3 773,278.1 774,285.9 775,293.7 776,301.5 777,309.3 778,317.1 779,324.9 780,332.7 781,340.5 782,348.3 783,356.1 784,363.9 785,371.7 786,379.5 787,387.3 788,395.1 789,402.9 790,410.7 791,418.5 792,426.3 793,434.1 794,441.9 795,449.6 796,456.8 797,462.2 798,463.8 799,463.8 800,463.8 801,464 802,464.4 803,465 804,465.5 805,465.5 806,465.5 807,464.9 808,463.9 809,463.3 810,463.5 811,464.2 812,465.2 813,466.2 814,466.9 815,467.2 816,467.1 817,466.8 818,466.4 819,465.8 820,465.2 821,464.5 822,462 823,462 824,462 825,461.9 826,461.4 827,460.9 828,460.5 829,460 830,459.6 831,459.2 832,458.7 833,458.3 834,455.4 835,448.1 836,439.9 837,431.6 838,423.3 839,415 840,406.7 841,398.3 842,390 843,381.7 844,373.4 845,365.1 846,356.7 847,348.4 848,340.1 849,331.8 850,323.5 851,315.1 852,306.8 853,298.5 854,290.2 855,281.8 856,273.5 857,265.2 858,256.9 859,248.6 860,240.2 861,231.9 862,223.6 863,215.3 864,206.9 865,198.7 866,191.2 867,184.8 868,179.4 869,175 870,171.6 871,169.3 872,168 873,167.7 874,168.2 875,169.7 876,171.9 877,175 878,178.9 879,183.6 880,189.2 881,195.6 882,202.8 883,210.3 884,217.8 885,225.3 886,232.8 887,240.2 888,247.7 889,255.2 890,262.7 891,270.2 892,277.7 893,285.1 894,292.6 895,300.1 896,307.6 897,315.1 898,322.5 899,330 900,337.5 901,345 902,352.5 903,359.9 904,367.4 905,374.9 906,382.4 907,389.9 908,397.3 909,404.8 910,412.3 911,419.8 912,427.2 913,432.9 914,434.8 915,437.2 916,439.5 917,441.3 918,442.8 919,444.1 920,445.1 921,445.4 922,445.1 923,444.5 924,443.6 925,442.2 926,438.4 927,433.1 928,428.3" fill="none" stroke="#05a07a" stroke-width="2.6" stroke-linejoin="round" /><polyline points="91,520 92,520.4 93,520.4 94,519.2 95,518 96,517.5 97,518.2 98,518.1 99,516.5 100,515.8 101,516.1 102,516.7 103,516.2 104,515.9 105,516.7 106,516.8 107,515.3 108,514.8 109,514.9 110,515.2 111,515.3 112,515.4 113,515.9 114,514.3 115,513.8 116,515.8 117,517.2 118,517.9 119,518.2 120,519 121,520.4 122,520.1 123,518.8 124,518.3 125,517.2 126,516.8 127,516.9 128,517.6 129,517.6 130,515.9 131,516 132,516.9 133,517.3 134,516.5 135,516.6 136,516.8 137,515 138,513.3 139,512.4 140,511.3 141,509.9 142,508.3 143,506.5 144,505.2 145,503.2 146,500.1 147,498.4 148,496.5 149,493.1 150,490.9 151,488.6 152,486.4 153,484.2 154,480.8 155,478.9 156,478.9 157,478.2 158,476.9 159,476 160,474.1 161,473.7 162,472.8 163,471.2 164,470.1 165,469.3 166,469.7 167,469 168,467.7 169,467.4 170,467.3 171,467.6 172,469.4 173,469.5 174,469.2 175,470.9 176,472.7 177,473.7 178,475.4 179,477.9 180,479.4 181,480.3 182,482.8 183,484.8 184,486.4 185,489.8 186,491.2 187,493.1 188,496.7 189,499 190,499.7 191,500.5 192,502.6 193,504.3 194,504.6 195,505.9 196,506.8 197,507 198,508 199,508.7 200,508.9 201,509.1 202,510 203,510.8 204,510.7 205,511.1 206,512 207,512.1 208,512.7 209,512.3 210,513.1 211,513.9 212,513.7 213,513.2 214,512.2 215,514.2 216,515.6 217,514.2 218,513.3 219,513.3 220,513.7 221,513.9 222,513.5 223,513.8 224,513.7 225,514.8 226,515 227,514.4 228,514.3 229,513.9 230,515 231,515.1 232,516 233,517.7 234,519.2 235,519.7 236,519.2 237,518.7 238,518.9 239,518.6 240,518.1 241,518.2 242,517.4 243,516.2 244,516.1 245,516 246,515.1 247,514 248,513.5 249,512.2 250,511.2 251,510.7 252,510.2 253,509.4 254,508.1 255,508 256,506.9 257,506.5 258,506.8 259,506.7 260,508.3 261,509.3 262,508.9 263,508.8 264,509 265,509.2 266,510.1 267,510.1 268,510.3 269,510 270,509.2 271,510 272,510.1 273,510 274,511.2 275,512.7 276,513 277,513.6 278,513.9 279,512.5 280,513 281,513.9 282,514.4 283,514.8 284,514.4 285,514.4 286,513 287,510.7 288,509.6 289,509.3 290,509.3 291,508.6 292,507.8 293,507.3 294,506.9 295,506.2 296,507.1 297,508.3 298,507.1 299,507.7 300,509.2 301,509.8 302,510.7 303,511 304,509.5 305,509.5 306,511.7 307,513.2 308,513.3 309,512.8 310,513.4 311,514.7 312,514.2 313,513.8 314,514.8 315,516.1 316,517 317,517.1 318,517.7 319,517.2 320,516.7 321,517.1 322,516 323,515.9 324,517.7 325,518 326,517 327,517.9 328,519.1 329,518.8 330,519.2 331,518.3 332,518.7 333,520 334,518.8 335,518.3 336,518 337,517.6 338,517.7 339,517.2 340,518.1 341,518.5 342,517.7 343,517.5 344,516.9 345,517.3 346,517.6 347,516.5 348,515.8 349,516.3 350,515.2 351,513.5 352,515.2 353,516.1 354,513.9 355,513.6 356,514.8 357,515.3 358,515.7 359,515.8 360,515.9 361,515.5 362,515.5 363,516.3 364,516.8 365,516.7 366,516.7 367,516.9 368,516 369,515.8 370,516.3 371,516.4 372,516.9 373,517.3 374,517.7 375,517.5 376,518.1 377,518 378,517.6 379,518.9 380,519.3 381,519.4 382,519.2 383,519.2 384,518.8 385,518.8 386,520.5 387,520.3 388,520 389,519.5 390,517.7 391,517.2 392,518.2 393,518.7 394,516.8 395,516 396,516.7 397,516.1 398,514.6 399,514.3 400,515.3 401,515.6 402,515.2 403,515.5 404,516.1 405,515.6 406,515.3 407,515.2 408,514.5 409,513.1 410,513.4 411,514.6 412,514.2 413,513.8 414,513.2 415,513.7 416,514.8 417,515.5 418,515.7 419,514.7 420,514.4 421,515.4 422,515.8 423,515.5 424,515.2 425,515.8 426,516.3 427,517.2 428,517.8 429,516.3 430,517.1 431,518.4 432,517.4 433,517.8 434,518.6 435,518.7 436,518.6 437,518.8 438,520 439,520.2 440,519.9 441,520.2 442,519.7 443,519.1 444,518.7 445,519.1 446,518.8 447,517.7 448,517.2 449,516.8 450,517.1 451,517.6 452,516.9 453,517.2 454,517.3 455,516.5 456,516.5 457,516.9 458,516.8 459,515.6 460,514.4 461,513.6 462,513.9 463,514.2 464,514.4 465,513.9 466,513.4 467,513.2 468,512.1 469,512.4 470,514.1 471,514.5 472,514.6 473,514.8 474,513.4 475,512.8 476,514.4 477,514.3 478,512.9 479,513.6 480,514.8 481,514.9 482,514.6 483,514.5 484,514.7 485,515.2 486,516 487,516.6 488,517.3 489,518.8 490,519.3 491,518.3 492,518.4 493,518.1 494,518 495,518 496,515.1 497,511.9 498,509.7 499,506.7 500,502.4 501,497.9 502,494.5 503,490.1 504,484.9 505,481.1 506,476.9 507,472.1 508,469.1 509,467.3 510,463.5 511,461.1 512,460.7 513,458.5 514,456.2 515,455.9 516,455.7 517,455.8 518,456.9 519,457 520,456.6 521,457.6 522,458.5 523,459.3 524,459.6 525,461.8 526,464.8 527,466.8 528,470.4 529,473.3 530,476.5 531,480 532,483.9 533,488.3 534,492.3 535,495.3 536,497.9 537,500.2 538,502.6 539,505 540,506.4 541,508.5 542,511.2 543,512.7 544,513.4 545,512.5 546,512.7 547,513.1 548,512.2 549,510.9 550,509.3 551,508.9 552,508.6 553,508.3 554,508.5 555,509.5 556,510.5 557,510.4 558,512.3 559,514 560,514.8 561,516.3 562,517.1 563,518.7 564,519.9 565,521.3 566,521.1 567,520.1 568,519.6 569,518.4 570,519.2 571,519.1 572,517.5 573,516.5 574,516.7 575,517.8 576,519.2 577,519.2 578,518.1 579,519.3 580,520.8 581,522 582,521.6 583,519.4 584,519.4 585,520.1 586,520 587,521 588,520.4 589,520.2 590,520.8 591,519.5 592,518.2 593,517.2 594,516.3 595,515.7 596,515.3 597,513.7 598,512.3 599,511.9 600,511.1 601,509.6 602,508.7 603,508 604,506.6 605,504.5 606,501.9 607,499.3 608,498.5 609,498.2 610,495.3 611,493.7 612,493.2 613,491.1 614,490.1 615,490.7 616,490.4 617,488.9 618,487.4 619,487.7 620,487.7 621,486.2 622,485.1 623,485.7 624,486.1 625,486.3 626,488.6 627,490.2 628,490.3 629,491.6 630,494.3 631,495.7 632,495.9 633,496.6 634,499.9 635,501 636,502.5 637,505.5 638,505.9 639,506.3 640,506.8 641,507.6 642,507.1 643,506.6 644,508 645,506.1 646,504.6 647,505.6 648,507 649,507.7 650,506.9 651,507.1 652,507.9 653,509.2 654,509 655,509.3 656,509.8 657,508.4 658,507.9 659,507.8 660,507.2 661,506 662,505.1 663,506 664,505.9 665,506.2 666,506.9 667,506 668,506.5 669,507.3 670,507.6 671,507.9 672,506.8 673,507.9 674,509.2 675,509.8 676,511 677,511.6 678,510.7 679,509.4 680,510.4 681,512.4 682,512.5 683,512.2 684,511.8 685,510.8 686,510.3 687,509.3 688,509 689,508.9 690,509.3 691,509.4 692,509.4 693,509.4 694,509.5 695,509.7 696,509.4 697,510.7 698,511.9 699,512.2 700,512 701,511.4 702,512.9 703,515.8 704,517.4 705,519.7 706,520.7 707,520.5 708,522.4 709,520 710,516.8 711,517.5 712,517 713,515.2 714,514 715,513.4 716,512.8 717,510.9 718,509.5 719,508.2 720,507.4 721,505.8 722,505.1 723,505 724,504.2 725,503.2 726,499.5 727,497.2 728,495.3 729,492.7 730,491.5 731,489.8 732,487.9 733,486.4 734,484.2 735,482.2 736,481.6 737,481.2 738,479.6 739,478.1 740,476.6 741,474.2 742,473.8 743,475.1 744,476.3 745,477.8 746,479.7 747,481.5 748,483 749,484.3 750,485.6 751,487.9 752,490.6 753,492.8 754,492.6 755,490.3 756,487.4 757,486.4 758,487.6 759,490.2 760,493.1 761,494.2 762,497.5 763,500.8 764,502 765,505 766,507.6 767,508.5 768,510.2 769,511.4 770,512.2 771,513.3 772,513.6 773,513.6 774,513.4 775,513.3 776,514.3 777,513.6 778,512.4 779,513.2 780,514.1 781,514.6 782,514.2 783,514 784,515.2 785,515.1 786,512.7 787,514 788,515.1 789,513.9 790,514.5 791,513.9 792,514.5 793,515.1 794,513.7 795,513.9 796,514.9 797,514.8 798,514.8 799,514 800,514.3 801,514.6 802,514.8 803,514.9 804,514.3 805,516 806,516 807,515.2 808,515.4 809,514 810,514.4 811,515.8 812,514.4 813,513.8 814,513.9 815,514 816,515.5 817,515.9 818,515 819,514.6 820,515.4 821,515.9 822,515.9 823,516.2 824,515 825,514.6 826,516 827,516.2 828,515 829,514.3 830,514.6 831,515.2 832,515 833,515.5 834,516.2 835,514.9 836,514.6 837,515 838,514.3 839,514.3 840,515.2 841,514.6 842,514.5 843,516 844,516.1 845,515.8 846,516.7 847,516.9 848,516.5 849,517.5 850,517.3 851,516.2 852,516.2 853,516.6 854,516.3 855,515.1 856,514.5 857,514.7 858,514.1 859,513.7 860,513.7 861,511.7 862,511.1 863,511.2 864,509.2 865,508.1 866,507.9 867,506.6 868,505.1 869,505.7 870,506 871,504.6 872,504 873,503.2 874,502.5 875,501.3 876,501 877,501 878,500.4 879,501.1 880,501.7 881,501.1 882,501.7 883,503.7 884,504.7 885,505.6 886,506.3 887,506.5 888,508.3 889,510.1 890,510.3 891,511.6 892,513 893,514 894,515.1 895,515.4 896,514.4 897,514.8 898,516.7 899,517.2 900,517.4 901,517.1 902,517.3 903,516.9 904,517.2 905,517.8 906,518 907,518.7 908,519.9 909,520.6 910,520.1 911,520.4 912,521.7 913,521.3 914,520.5 915,521.3 916,521.3 917,521.2 918,520.8 919,521 920,521.2 921,519.7 922,518.4 923,517.8 924,517.3 925,516.6 926,515.4 927,513.4 928,513.1" fill="none" stroke="#0a6ef2" stroke-width="1.8" stroke-linejoin="round" /><polyline points="91,517.6 92,516.9 93,516.8 94,516.8 95,516.1 96,516.1 97,515 98,513.9 99,514.9 100,514.7 101,513.8 102,513.7 103,513.7 104,514.3 105,513.6 106,513 107,514.3 108,513.6 109,514.6 110,514.2 111,514.5 112,513.4 113,514.1 114,513 115,513.1 116,513.8 117,516.3 118,515.9 119,516.2 120,516.2 121,517.2 122,516.2 123,516.3 124,515.8 125,514.2 126,515 127,513.8 128,512.4 129,512.5 130,511.2 131,510 132,509.1 133,509.1 134,507.6 135,506.2 136,508 137,506.6 138,508.2 139,509.9 140,508.6 141,508.8 142,508.5 143,505.2 144,502.2 145,500.1 146,496.8 147,494.1 148,490.2 149,486.2 150,484.2 151,480.6 152,478.2 153,474.7 154,472.7 155,469.5 156,467 157,464.7 158,463.8 159,465 160,464.2 161,462.9 162,464.6 163,463.7 164,464.5 165,465.4 166,467.6 167,469.9 168,470.7 169,471 170,470.1 171,471.8 172,472.3 173,472.7 174,474.9 175,477.6 176,481.3 177,483.6 178,486.8 179,488.9 180,492.5 181,496.2 182,498.4 183,501.2 184,502.2 185,504.7 186,505.7 187,508 188,507.5 189,509.3 190,509.9 191,509.1 192,509.7 193,509.2 194,507.9 195,510.1 196,510 197,509.5 198,509.4 199,509.9 200,510 201,509.4 202,509.5 203,510.7 204,510 205,510 206,510.8 207,509.9 208,510.8 209,509.6 210,510.2 211,510.4 212,511.1 213,510.9 214,512.5 215,512.2 216,511.4 217,513.4 218,511.6 219,513.6 220,512.1 221,513.4 222,512.4 223,512.9 224,514 225,512 226,511.7 227,512.4 228,512.3 229,511.9 230,512.1 231,510.3 232,511.2 233,510.6 234,511 235,510.8 236,512.1 237,512.9 238,516.7 239,517.6 240,517.7 241,516.2 242,513.4 243,511.1 244,508.9 245,507.4 246,505.7 247,504.7 248,502.6 249,499.1 250,498.7 251,497 252,493.9 253,491 254,490.5 255,487 256,484.3 257,481.2 258,474.5 259,469.8 260,464.8 261,461.4 262,457.4 263,455.2 264,452.4 265,451.1 266,449.9 267,447.4 268,448.1 269,447 270,446.4 271,445.4 272,443.8 273,441.4 274,440.9 275,440.3 276,440.7 277,441.4 278,443.8 279,446.3 280,449.2 281,451.9 282,452.8 283,455.2 284,458.2 285,459.3 286,460.4 287,461.4 288,462.4 289,464.6 290,464.8 291,468.7 292,469.4 293,472.1 294,474.3 295,476.1 296,479.2 297,484.1 298,487.6 299,488.8 300,492.3 301,493.3 302,494.1 303,497.1 304,498.5 305,497.8 306,498.7 307,499.6 308,500 309,501.2 310,502.2 311,501.7 312,502.7 313,503.6 314,502.5 315,503.3 316,503.3 317,504.7 318,504.8 319,505.3 320,505.6 321,505.1 322,506.1 323,505.5 324,505.8 325,504.9 326,507.6 327,506.3 328,507.3 329,507.6 330,508.9 331,508.7 332,508.3 333,509.4 334,509.9 335,510.7 336,510.2 337,511.6 338,513.6 339,512.9 340,514.2 341,515.3 342,513.6 343,512.4 344,513.2 345,514.1 346,513.9 347,512.5 348,513.2 349,513.2 350,513.3 351,513.3 352,512.7 353,512.9 354,513.1 355,514 356,513 357,514.5 358,514.5 359,517.5 360,518.1 361,519.1 362,520.5 363,518 364,516.9 365,516.4 366,513.3 367,511.2 368,511 369,507.1 370,505.4 371,503.3 372,502.1 373,499.5 374,497.2 375,493.8 376,491.8 377,489.1 378,484.6 379,482.2 380,478 381,474.7 382,468.2 383,464.5 384,460.7 385,456.8 386,453 387,448.8 388,445 389,441.2 390,437.7 391,433.9 392,432.5 393,431 394,429.5 395,427.8 396,424.8 397,424.3 398,423.8 399,423.8 400,424.6 401,425 402,426.1 403,429.1 404,431.4 405,433.8 406,435.9 407,439.7 408,441.7 409,445.3 410,447.3 411,451.7 412,453.9 413,456.2 414,460.5 415,463.6 416,466.1 417,469.2 418,472.9 419,474.9 420,477 421,481.8 422,485.3 423,489.3 424,491.7 425,495.8 426,498.3 427,498.8 428,502.6 429,503.4 430,505.1 431,507.9 432,509.3 433,509.6 434,511.9 435,512.5 436,512.9 437,511.5 438,509.9 439,509.7 440,510.5 441,510.1 442,509.8 443,509.3 444,509.6 445,509.3 446,509.3 447,509.7 448,509.5 449,509.3 450,509.5 451,509.1 452,508.2 453,509 454,509.3 455,510.3 456,508.7 457,510.1 458,509.4 459,507.6 460,507.3 461,507.6 462,508.3 463,507.1 464,506.8 465,505.3 466,503.6 467,504.3 468,504.4 469,504.2 470,503.2 471,503.3 472,504.5 473,504.5 474,506.3 475,505.7 476,506.4 477,507.1 478,509 479,509.1 480,510.2 481,511.1 482,511.6 483,512.7 484,513 485,511.5 486,511.9 487,511.1 488,509.8 489,510.9 490,509.5 491,508.1 492,507.4 493,507.4 494,505.9 495,506 496,506.4 497,505.5 498,503.3 499,502.3 500,501.5 501,495.6 502,491.6 503,485.8 504,479.3 505,470 506,461.1 507,450 508,443.2 509,433.6 510,427.4 511,420.1 512,415.1 513,408.6 514,402.9 515,400.3 516,395 517,392.4 518,391 519,388.8 520,387 521,385.3 522,384.6 523,384.4 524,384.3 525,385.4 526,386.7 527,387.2 528,388.1 529,392.1 530,395 531,400.1 532,404.8 533,407.5 534,412.2 535,414.6 536,420.1 537,423.7 538,429 539,434.5 540,439.2 541,445.9 542,452 543,461 544,473.6 545,484.1 546,490 547,489.3 548,489.7 549,488.2 550,488.9 551,487.3 552,488.8 553,489.7 554,489 555,488.7 556,491.1 557,491.3 558,491.6 559,492.3 560,491.6 561,492.7 562,492.9 563,492.3 564,493.5 565,493 566,494.2 567,494.7 568,495.3 569,493.1 570,494.8 571,494.7 572,495.1 573,495.2 574,495.6 575,494.5 576,496.8 577,497.4 578,497.2 579,497.7 580,496.5 581,496.6 582,498.1 583,498.6 584,498.1 585,497.2 586,500.3 587,498.3 588,499.7 589,498.4 590,500.1 591,499.8 592,500.8 593,500.6 594,499 595,499.4 596,500 597,499.6 598,499.3 599,497.2 600,496 601,495.2 602,494.7 603,495 604,493.9 605,493.6 606,492.4 607,491.7 608,492.7 609,492.8 610,491.9 611,491.8 612,491.2 613,489.8 614,489.3 615,487 616,486.3 617,485.2 618,484.9 619,484.7 620,484.4 621,483.5 622,483.5 623,483 624,483.6 625,485.2 626,485.2 627,487.1 628,487.4 629,487.9 630,489.6 631,488.6 632,488.9 633,489.6 634,490.2 635,490.7 636,491.8 637,492.1 638,493.5 639,494.4 640,496.8 641,497.1 642,498.3 643,499.5 644,500.7 645,501 646,503.5 647,503 648,504.1 649,505.1 650,506.2 651,508.2 652,509.3 653,509.8 654,510.7 655,511.1 656,512.1 657,510 658,508.7 659,507.8 660,507.4 661,507.9 662,505.7 663,506.4 664,508.2 665,506.4 666,508 667,508.3 668,508.3 669,507.4 670,509 671,509.1 672,508.9 673,509.9 674,511.9 675,512.9 676,514.2 677,514.2 678,513.4 679,513.5 680,513.6 681,513 682,514.1 683,513.6 684,513 685,513 686,512.7 687,513.1 688,513.5 689,513 690,514 691,514.4 692,512.9 693,513.4 694,513.3 695,514.7 696,513.9 697,514.2 698,514.5 699,515.6 700,514.4 701,513.7 702,514.2 703,515.1 704,514.9 705,514.6 706,517.3 707,515.7 708,515.5 709,515.5 710,514.6 711,514.4 712,514.1 713,513.3 714,512.1 715,512.5 716,512.1 717,511.6 718,511 719,512.7 720,512.8 721,512.9 722,512.3 723,513.3 724,511.4 725,509.4 726,503.2 727,496.8 728,488.6 729,478.3 730,468.7 731,457.5 732,446.6 733,437.2 734,428 735,416.9 736,408.4 737,399.9 738,392.3 739,383.5 740,376.8 741,368.5 742,362.8 743,356.3 744,350.1 745,345.6 746,339.5 747,335 748,331.8 749,328.5 750,327.7 751,327.9 752,331.7 753,335.5 754,339.2 755,343.6 756,348.8 757,355.6 758,361.7 759,367.7 760,376.1 761,384.1 762,391.2 763,399.3 764,409 765,418.8 766,428.8 767,437.7 768,449.1 769,459.1 770,469.9 771,479.8 772,488.7 773,494.5 774,501.6 775,506.6 776,510.9 777,511.2 778,512 779,512.2 780,511.4 781,510.6 782,509.2 783,509.9 784,507.9 785,505.6 786,501.7 787,501.4 788,501.4 789,500.1 790,498.6 791,499.7 792,499.5 793,498.4 794,499.2 795,499.6 796,501.2 797,500.3 798,501.4 799,503 800,503.7 801,506.2 802,505 803,506.2 804,506.4 805,506.8 806,508.1 807,509.6 808,508.7 809,509.9 810,510 811,510.6 812,510.8 813,512.5 814,510.5 815,511.5 816,511.2 817,510.9 818,512.5 819,514.1 820,513.7 821,514.2 822,513.9 823,513.7 824,515.4 825,513.9 826,515.4 827,514.3 828,514.8 829,515.1 830,515.1 831,515.7 832,515.9 833,516.9 834,516.1 835,515.2 836,515.6 837,516.5 838,517.5 839,519 840,518 841,519.4 842,519.6 843,519.8 844,519.5 845,519.9 846,519.6 847,520.3 848,519.8 849,518 850,518.6 851,516.2 852,512.3 853,508.6 854,505.7 855,500 856,493.1 857,486.6 858,477.5 859,465.7 860,456.6 861,447 862,438.9 863,429.3 864,424 865,416.5 866,410.8 867,405 868,400.6 869,396.8 870,397 871,393.9 872,393.5 873,392.9 874,391.8 875,393.3 876,395.4 877,396 878,399 879,401.1 880,404.7 881,410.2 882,415.2 883,422.1 884,429 885,434.9 886,441.5 887,448.2 888,453.4 889,460.4 890,467.6 891,472.1 892,479 893,485.2 894,493.2 895,501.1 896,508.9 897,513.3 898,515.9 899,516.9 900,517.7 901,519.6 902,519.2 903,519.6 904,519.4 905,520.5 906,518.4 907,519.5 908,520.4 909,520.7 910,519.7 911,519.6 912,519.8 913,518.9 914,518.8 915,517.3 916,517.3 917,516 918,514 919,511.1 920,511.3 921,508.2 922,505.6 923,501.3 924,499.1 925,493.9 926,488.3 927,484 928,480.4" fill="none" stroke="#f89434" stroke-width="1.6" stroke-linejoin="round" /><polyline points="91,517.5 92,517.4 93,517.2 94,517.1 95,516.9 96,516.8 97,516.6 98,516.5 99,516.3 100,516.2 101,516 102,515.9 103,515.7 104,515.6 105,515.4 106,515.3 107,515.1 108,514.9 109,514.8 110,514.6 111,514.5 112,514.3 113,514.1 114,514 115,513.8 116,513.6 117,513.5 118,513.4 119,513.2 120,513.1 121,512.9 122,512.8 123,512.6 124,512.5 125,512.3 126,512 127,511.8 128,511.5 129,511.1 130,510.7 131,510.1 132,509.3 133,508.5 134,507.6 135,506.5 136,505.3 137,504 138,502.2 139,499.7 140,496.4 141,492.7 142,488.6 143,484.2 144,479.8 145,475.4 146,471.1 147,467 148,462.6 149,458.1 150,453.6 151,449 152,444.6 153,440.3 154,435.7 155,431.1 156,426.8 157,423.2 158,420.6 159,418.8 160,417.2 161,415.7 162,414.6 163,413.9 164,413.8 165,414.3 166,415.6 167,417.3 168,419.5 169,421.9 170,424.4 171,426.9 172,429.6 173,432.7 174,436.2 175,440.1 176,444.1 177,448.2 178,452.2 179,456.1 180,460 181,464 182,468.1 183,472.2 184,476.2 185,480.2 186,484.1 187,488.1 188,492.5 189,496.4 190,498.8 191,500.2 192,501.4 193,502.4 194,503.3 195,503.9 196,504.4 197,504.6 198,504.7 199,504.9 200,505 201,505.1 202,505.2 203,505.3 204,505.3 205,505.4 206,505.5 207,505.5 208,505.6 209,505.6 210,505.7 211,505.7 212,505.7 213,505.7 214,505.7 215,505.8 216,505.8 217,505.8 218,505.8 219,505.8 220,505.8 221,505.8 222,505.8 223,505.8 224,505.8 225,505.8 226,505.8 227,505.8 228,505.8 229,505.8 230,505.8 231,505.8 232,505.8 233,505.8 234,505.8 235,506.1 236,506.9 237,508 238,509.2 239,510 240,510.3 241,510.2 242,509.9 243,509.4 244,508.7 245,508 246,507.1 247,505.9 248,504.4 249,502.8 250,501.1 251,499.5 252,497.9 253,496.1 254,494.2 255,492.1 256,489.6 257,486.8 258,483.3 259,479.4 260,475.3 261,471 262,466.6 263,462.2 264,457.5 265,452.7 266,447.7 267,442.8 268,437.9 269,432.8 270,427.2 271,421.7 272,416.5 273,412.2 274,409.1 275,406.9 276,404.7 277,402.7 278,400.9 279,399.5 280,398.4 281,397.8 282,397.7 283,398.4 284,399.8 285,401.8 286,404.1 287,406.6 288,409.1 289,412 290,415.4 291,419.3 292,423.5 293,427.8 294,432.1 295,436.6 296,441.3 297,446.2 298,451.2 299,456.1 300,460.9 301,465.9 302,471.1 303,475.8 304,479.3 305,481.7 306,483.8 307,485.5 308,487.1 309,488.4 310,489.6 311,490.8 312,491.9 313,492.9 314,493.9 315,494.8 316,495.6 317,496.4 318,497.1 319,497.7 320,498.3 321,498.8 322,499.3 323,499.7 324,500.1 325,500.4 326,500.8 327,501.1 328,501.5 329,501.9 330,502.3 331,502.8 332,503.3 333,503.8 334,504.4 335,505 336,505.6 337,506.2 338,506.8 339,507.4 340,507.9 341,508.4 342,508.9 343,509.3 344,509.6 345,509.8 346,509.9 347,510.1 348,510.3 349,510.4 350,510.6 351,510.7 352,510.8 353,510.9 354,511.1 355,511.2 356,511.2 357,511.3 358,511.4 359,511.4 360,511.5 361,511.5 362,511.5 363,511.4 364,511 365,510.5 366,509.9 367,509.2 368,508.4 369,507.6 370,506.9 371,506.2 372,505.4 373,504.6 374,503.7 375,502.8 376,501.9 377,500.9 378,500 379,499.1 380,498.3 381,497.5 382,496.6 383,495.6 384,494.4 385,493 386,490.9 387,487.9 388,484.2 389,479.8 390,475.1 391,470.3 392,465.6 393,461.2 394,457.2 395,453.6 396,449.9 397,446.3 398,443 399,440.1 400,437.9 401,436 402,434.2 403,432.5 404,431.3 405,430.6 406,430.5 407,431.1 408,432.1 409,433.5 410,435.1 411,436.8 412,438.5 413,440.6 414,442.9 415,445.5 416,448.2 417,451.1 418,454.2 419,457.9 420,462 421,466.3 422,470.7 423,475 424,479.1 425,482.7 426,485.8 427,488.4 428,490.7 429,492.9 430,494.9 431,496.6 432,498.3 433,499.8 434,501.2 435,502.5 436,503.7 437,504.9 438,506 439,507.1 440,508 441,509.1 442,510.1 443,511.2 444,512.3 445,513.3 446,514.2 447,515 448,515.6 449,516 450,516.1 451,516.1 452,515.9 453,515.8 454,515.5 455,515.2 456,514.9 457,514.5 458,514.1 459,513.7 460,513.2 461,512.8 462,512.4 463,512 464,511.6 465,511.2 466,510.7 467,510.2 468,509.7 469,509.2 470,508.5 471,507.9 472,507.1 473,506.1 474,505.1 475,504 476,502.9 477,501.7 478,500.6 479,499.4 480,498.3 481,497.2 482,496.2 483,495.2 484,494.3 485,493.3 486,492.2 487,491 488,489.8 489,488.4 490,486.8 491,485 492,482.8 493,480.4 494,477.6 495,474.4 496,470.8 497,466.6 498,461.2 499,453.8 500,445 501,435.2 502,425 503,414.9 504,403.8 505,391.3 506,379.2 507,368.9 508,360.9 509,354 510,347.3 511,340 512,331.9 513,323.5 514,315.3 515,308 516,302 517,297.3 518,292.6 519,288.1 520,284.2 521,280.9 522,278.6 523,277.5 524,277.8 525,279.4 526,282.1 527,285.7 528,289.9 529,294.4 530,299.2 531,304.1 532,310.4 533,317.7 534,325.8 535,334.4 536,343 537,352.3 538,362.7 539,373.5 540,384.3 541,394.5 542,403.4 543,411.5 544,419.2 545,426.4 546,432.7 547,437.9 548,442.2 549,446 550,449.4 551,452.5 552,455.3 553,457.9 554,460.3 555,462.5 556,464.6 557,466.6 558,468.5 559,470.4 560,472.4 561,474.5 562,476.7 563,478.9 564,480.8 565,482.3 566,483.3 567,484.3 568,485.1 569,485.8 570,486.4 571,487 572,487.5 573,487.9 574,488.3 575,488.6 576,489 577,489.3 578,489.6 579,489.8 580,490 581,490.1 582,490.2 583,490.2 584,490.2 585,490.2 586,490.1 587,490.1 588,490 589,489.9 590,489.9 591,489.8 592,489.6 593,489.4 594,489.1 595,488.5 596,487.9 597,487.2 598,486.5 599,485.7 600,485 601,484.4 602,483.7 603,483.1 604,482.4 605,481.6 606,480.9 607,480 608,479.1 609,478.1 610,477 611,475.6 612,473.7 613,471.6 614,469.4 615,467.2 616,465.3 617,463.8 618,462.5 619,461.2 620,460 621,458.9 622,458.1 623,457.6 624,457.5 625,457.7 626,458.3 627,459 628,460 629,461 630,462 631,463.3 632,465 633,466.8 634,468.8 635,470.7 636,472.4 637,474 638,475.5 639,477.1 640,478.6 641,480 642,481.4 643,482.8 644,484 645,485 646,486.1 647,487.2 648,488.3 649,489.3 650,490.1 651,490.6 652,490.8 653,490.6 654,490.2 655,489.5 656,488.8 657,488 658,487.4 659,486.9 660,486.8 661,486.8 662,486.9 663,487 664,487.2 665,487.4 666,487.7 667,487.9 668,488.3 669,489 670,489.9 671,490.9 672,492.1 673,493.2 674,494.3 675,495.4 676,496.5 677,497.7 678,498.9 679,500.1 680,501.3 681,502.4 682,503.3 683,504 684,504.6 685,505 686,505.4 687,505.8 688,506.2 689,506.5 690,506.9 691,507.3 692,507.8 693,508.3 694,508.9 695,509.4 696,509.9 697,510.4 698,510.9 699,511.3 700,511.6 701,511.9 702,512 703,512.1 704,511.9 705,511.4 706,510.8 707,510 708,509 709,508 710,506.9 711,505.4 712,503.2 713,500.7 714,497.9 715,495.1 716,492.5 717,490.1 718,487.7 719,485.3 720,482.9 721,480.5 722,478.1 723,476 724,474.1 725,472.1 726,469.8 727,466.6 728,461.5 729,454 730,445 731,435.5 732,426.4 733,417.5 734,408.1 735,398.7 736,389.3 737,380.4 738,372.1 739,364.1 740,356.2 741,348.3 742,340.1 743,331.2 744,321.7 745,312.9 746,305.6 747,299.4 748,293.4 749,289 750,287.2 751,287.5 752,288.3 753,289.5 754,291.1 755,292.8 756,294.7 757,297.1 758,300.2 759,304.1 760,308.8 761,314.1 762,320 763,328.3 764,339.2 765,350.2 766,360.7 767,371.3 768,382.1 769,392.8 770,403.4 771,414.1 772,425.1 773,435.9 774,446.1 775,455.1 776,463.8 777,472.1 778,479.1 779,483.9 780,487.1 781,489.9 782,491.8 783,492.5 784,492.2 785,491.5 786,490.7 787,489.9 788,489.6 789,489.9 790,490.5 791,491.4 792,492.4 793,493.5 794,494.5 795,495.4 796,496.2 797,497 798,497.9 799,498.7 800,499.5 801,500.3 802,501 803,501.6 804,502 805,502.3 806,502.5 807,502.6 808,502.7 809,502.8 810,502.9 811,503 812,503.1 813,503.2 814,503.3 815,503.4 816,503.6 817,503.8 818,504.1 819,504.3 820,504.6 821,504.9 822,505.2 823,505.5 824,505.9 825,506.2 826,506.6 827,506.9 828,507.3 829,507.7 830,508 831,508.5 832,508.9 833,509.5 834,510 835,510.7 836,511.3 837,511.9 838,512.5 839,513.1 840,513.7 841,514.2 842,514.6 843,515 844,515.3 845,515.5 846,515.5 847,515.3 848,514.7 849,513.8 850,512.7 851,511.3 852,509.8 853,507.6 854,504.4 855,500.3 856,495.3 857,489.6 858,481.5 859,470.1 860,457 861,443.8 862,432.1 863,421.5 864,411.2 865,402.1 866,395.1 867,389.4 868,384.5 869,380.4 870,376.5 871,372.5 872,368.6 873,365.2 874,362.4 875,360.7 876,360.3 877,361.1 878,363 879,365.7 880,369 881,372.8 882,377.2 883,384.3 884,393.8 885,404.4 886,414.9 887,426.2 888,438.6 889,450.7 890,460.9 891,469.2 892,476.9 893,483.8 894,490 895,495.4 896,500.7 897,505.9 898,510.5 899,513.9 900,515.5 901,516.1 902,516.6 903,517 904,517.4 905,517.7 906,518 907,518.2 908,518.3 909,518.4 910,518.4 911,518.3 912,518.1 913,517.7 914,517.2 915,516.6 916,516 917,515.2 918,514.4 919,513.5 920,512.6 921,511.6 922,510.3 923,508.7 924,506.9 925,504.9 926,502.7 927,500.4 928,497.9" fill="none" stroke="#4298f5" stroke-width="1.6" stroke-linejoin="round" /><polyline points="91,513.8 92,513.7 93,513.5 94,513.4 95,513.2 96,513.1 97,512.9 98,512.8 99,512.6 100,512.5 101,512.3 102,512.2 103,512 104,511.8 105,511.6 106,511.4 107,511.2 108,511 109,510.7 110,510.5 111,510.4 112,510.2 113,510.1 114,510 115,510 116,510.1 117,510.4 118,510.6 119,510.9 120,511.2 121,511.5 122,511.8 123,512 124,512.1 125,511.7 126,511 127,510.1 128,509.3 129,508.6 130,508.1 131,507.6 132,507.1 133,506.4 134,505.4 135,503.9 136,502 137,499.9 138,497.7 139,495 140,491.9 141,488.3 142,484 143,478.7 144,473 145,467.5 146,462.4 147,457.4 148,452.5 149,447.6 150,442.8 151,438 152,433.3 153,428.7 154,424.2 155,419.8 156,415.8 157,412.2 158,408.6 159,405.5 160,403.4 161,402 162,400.9 163,400.1 164,400 165,401 166,403 167,405.2 168,407.3 169,409.3 170,411.6 171,414.2 172,417.2 173,420.7 174,424.6 175,428.7 176,433 177,437.7 178,442.6 179,447.5 180,452.5 181,457.6 182,462.6 183,467.3 184,471.9 185,476.3 186,480.3 187,483.9 188,487.2 189,490.1 190,492.5 191,494.5 192,496.2 193,497.7 194,499.2 195,500.9 196,502.4 197,503.5 198,503.9 199,504.1 200,504.2 201,504.3 202,504.4 203,504.4 204,504.4 205,504.4 206,504.4 207,504.4 208,504.4 209,504.4 210,504.4 211,504.4 212,504.4 213,504.4 214,504.4 215,504.4 216,504.3 217,504.3 218,504.2 219,504 220,503.9 221,503.8 222,503.7 223,503.7 224,503.7 225,503.7 226,503.7 227,503.7 228,503.7 229,503.7 230,503.7 231,503.7 232,503.7 233,503.7 234,503.7 235,507.4 236,508.1 237,508.5 238,508.8 239,508.9 240,509 241,509 242,508.7 243,508.1 244,507.4 245,506.4 246,504.2 247,501.3 248,498.4 249,496.1 250,494.1 251,492.3 252,490.4 253,488.4 254,486 255,483.1 256,479.8 257,476.2 258,472.4 259,468.3 260,463.9 261,459 262,453.9 263,448.5 264,443 265,437.2 266,431.4 267,425.9 268,420.9 269,416 270,411.4 271,407 272,403 273,399.3 274,395.6 275,392.4 276,390.1 277,388.7 278,387.6 279,386.8 280,386.3 281,386.5 282,387.4 283,388.8 284,390.6 285,392.5 286,394.4 287,396.9 288,399.9 289,403.2 290,406.6 291,410.1 292,413.5 293,417.1 294,420.8 295,424.9 296,429.3 297,434.4 298,440.6 299,447.1 300,453.4 301,459.3 302,465.3 303,470.8 304,475.2 305,478.3 306,481.2 307,483.6 308,485.7 309,487.3 310,488.5 311,489.4 312,490.2 313,490.9 314,491.5 315,492.2 316,492.9 317,493.9 318,495 319,496.2 320,497.4 321,498.5 322,499.3 323,499.8 324,500.1 325,500.3 326,500.5 327,500.6 328,500.8 329,501 330,501.4 331,501.8 332,502.3 333,502.9 334,503.6 335,504.2 336,504.8 337,505.4 338,505.9 339,506.4 340,506.9 341,507.4 342,507.9 343,508.3 344,508.6 345,508.8 346,508.8 347,508.6 348,508.4 349,508.1 350,507.7 351,507.4 352,507 353,506.7 354,506.5 355,506.3 356,506.4 357,506.7 358,507.3 359,508 360,508.7 361,509.2 362,509.5 363,509.3 364,508.6 365,507.6 366,506.4 367,505.2 368,504 369,502.6 370,501 371,499.4 372,497.8 373,496.2 374,494.9 375,493.7 376,492.7 377,491.6 378,490.5 379,489.3 380,487.9 381,486.3 382,484.4 383,482.2 384,479.3 385,474.8 386,469 387,463.1 388,458.2 389,453.8 390,449.8 391,445.9 392,442.1 393,438.3 394,434.4 395,430.4 396,426.6 397,423.3 398,420.8 399,418.6 400,416.4 401,414.4 402,412.8 403,411.6 404,410.9 405,411 406,411.6 407,412.6 408,413.9 409,415.5 410,417.1 411,418.9 412,421.1 413,423.8 414,426.8 415,430 416,433.7 417,437.8 418,442.1 419,446.4 420,451.1 421,455.9 422,460.6 423,465.4 424,470.3 425,475 426,479.2 427,482.9 428,486.6 429,489.9 430,492.8 431,494.9 432,496.3 433,497.2 434,498 435,499.1 436,500.9 437,503.6 438,505.9 439,506.9 440,506.9 441,506.8 442,506.6 443,506.4 444,506.1 445,505.9 446,505.5 447,504.7 448,503.6 449,502.5 450,501.5 451,500.8 452,500.6 453,500.6 454,500.6 455,500.7 456,500.8 457,500.8 458,500.9 459,501 460,501.1 461,501.1 462,501.1 463,501.1 464,501.1 465,500.9 466,500.7 467,500.4 468,500.1 469,499.8 470,499.4 471,499 472,498.3 473,497.4 474,496.5 475,495.7 476,495.2 477,494.8 478,494.5 479,494.2 480,493.9 481,493.7 482,493.3 483,492.9 484,492.5 485,492 486,491.3 487,490.4 488,488.7 489,485.6 490,481.9 491,478.7 492,476.4 493,474.4 494,472.2 495,469.4 496,465.7 497,461.1 498,455.3 499,448 500,435.8 501,422.1 502,410.7 503,400.2 504,391.6 505,385.8 506,377.4 507,356.4 508,339.2 509,328.6 510,319.9 511,311.5 512,303.9 513,296.6 514,288.7 515,279.8 516,271.5 517,265.4 518,260.9 519,256.8 520,253.9 521,252.7 522,253.3 523,254.9 524,257.1 525,259.6 526,263.5 527,269.2 528,275.9 529,282.6 530,289.4 531,296.6 532,304.4 533,312.9 534,322.6 535,332.9 536,343 537,352.9 538,362.9 539,372.9 540,382.8 541,393 542,402.9 543,412.3 544,421.8 545,430.4 546,436.9 547,441.2 548,444.6 549,447.4 550,449.9 551,452.3 552,454.8 553,457.2 554,459.4 555,461.6 556,463.7 557,465.9 558,468.1 559,470.3 560,472.4 561,474.2 562,475.5 563,476.7 564,477.7 565,478.6 566,479.4 567,480.2 568,481 569,481.7 570,482.3 571,482.9 572,483.4 573,483.9 574,484.2 575,484.4 576,484.7 577,484.9 578,485.2 579,485.7 580,486.2 581,486.7 582,487.2 583,487.7 584,488 585,488.1 586,488 587,487.7 588,487.3 589,486.9 590,486.3 591,485.8 592,485.3 593,484.8 594,484.4 595,483.9 596,483.2 597,482.3 598,481.4 599,480.4 600,479.6 601,478.9 602,478.4 603,478.1 604,477.8 605,477.5 606,477 607,476.2 608,474.9 609,473.2 610,471.2 611,468.6 612,465.2 613,461.9 614,459.5 615,457.5 616,455.7 617,454.1 618,452.7 619,451.6 620,450.6 621,449.6 622,448.7 623,448.2 624,448.1 625,448.5 626,449.3 627,450.5 628,451.9 629,453.4 630,455 631,456.8 632,459.1 633,461.6 634,464.1 635,466.2 636,468.2 637,470.1 638,471.9 639,473.6 640,475 641,476.1 642,477.1 643,478 644,479 645,480 646,481.2 647,482.6 648,484 649,485.2 650,486.3 651,487.1 652,488 653,488.6 654,488.7 655,488 656,486.8 657,485.5 658,484.6 659,483.8 660,483 661,482.3 662,481.9 663,481.9 664,482 665,482.1 666,482.2 667,482.4 668,482.7 669,483.2 670,483.9 671,484.8 672,485.8 673,486.8 674,488.1 675,489.6 676,491.3 677,492.9 678,494.6 679,496.6 680,498.8 681,500.6 682,501.7 683,501.9 684,501.9 685,501.9 686,501.8 687,501.8 688,501.8 689,501.7 690,501.7 691,501.9 692,502.4 693,503.1 694,503.9 695,504.8 696,505.7 697,506.4 698,507.1 699,507.6 700,508.1 701,508.6 702,509.1 703,509.6 704,510.3 705,511 706,511.7 707,512.1 708,511.6 709,509.8 710,507 711,503.9 712,501.2 713,498.6 714,495.9 715,493.1 716,490.3 717,487.7 718,485 719,482.3 720,479.7 721,477.2 722,474.9 723,472.9 724,471.4 725,469.8 726,467.9 727,465.2 728,460.2 729,451.1 730,440.6 731,431.3 732,423.7 733,416.5 734,409.5 735,402.4 736,395.8 737,389.1 738,380.8 739,367.9 740,349.9 741,330.3 742,312.6 743,299.6 744,288.5 745,278.8 746,271.1 747,264.4 748,258 749,252.8 750,249.7 751,249.5 752,251 753,253.5 754,256.6 755,259.6 756,262.8 757,266.5 758,270.6 759,275.4 760,281 761,288 762,296.7 763,306.4 764,316.8 765,328.4 766,341.7 767,357.5 768,376.8 769,389.6 770,399.9 771,408.8 772,417.6 773,426.5 774,434.8 775,443.1 776,451.4 777,460.5 778,469.8 779,478.2 780,484.5 781,489.9 782,491.4 783,490 784,487.6 785,485.2 786,483.9 787,484.1 788,484.6 789,485.4 790,486.4 791,487.4 792,488.4 793,489.6 794,490.9 795,492.2 796,493.6 797,494.9 798,496.5 799,498.2 800,499.6 801,500.5 802,500.6 803,500.4 804,500.2 805,500 806,499.7 807,499.5 808,499.3 809,499.2 810,499.2 811,499.4 812,499.7 813,500.1 814,500.5 815,500.9 816,501.3 817,501.6 818,502.1 819,502.5 820,502.9 821,503.4 822,503.8 823,504.2 824,504.6 825,504.9 826,505.3 827,505.6 828,505.9 829,506.2 830,506.5 831,506.9 832,507.2 833,507.5 834,507.8 835,508.1 836,508.4 837,508.8 838,509.1 839,509.6 840,510.2 841,511 842,511.9 843,512.8 844,513.6 845,514.2 846,514.6 847,514.5 848,514 849,513.1 850,511.8 851,510.4 852,508.9 853,507 854,504.4 855,500.9 856,494.8 857,482.8 858,469.7 859,457.7 860,445.4 861,432.8 862,419.5 863,406.9 864,395.5 865,385.2 866,376.1 867,367.6 868,360 869,354 870,349.2 871,344.6 872,340.3 873,336.8 874,334.2 875,332.8 876,332.8 877,333.5 878,334.7 879,336.4 880,338.5 881,341.1 882,347.4 883,356.1 884,364.8 885,371.6 886,377.8 887,385.5 888,398.9 889,414.5 890,425.7 891,435.4 892,444.7 893,454.6 894,464.8 895,474.9 896,484.5 897,493.9 898,504.4 899,513.9 900,519.2 901,519.2 902,518.1 903,516.7 904,516 905,516.3 906,517.4 907,518.7 908,519.5 909,520 910,520.4 911,520.7 912,520.9 913,521 914,520.8 915,520.4 916,519.7 917,518.8 918,517.7 919,516.5 920,515.3 921,513.6 922,511.4 923,508.7 924,505.6 925,501.8 926,495.5 927,488.1 928,482.3" fill="none" stroke="#fb5206" stroke-width="2.8" stroke-linejoin="round" /><polyline points="190,491.9 191,493.9 192,495.6 193,497.2 194,498.7 195,500.3 196,501.8 197,502.9 198,503.3 199,503.5 200,503.6 201,503.7 202,503.8 203,503.8 204,503.8 205,503.8 206,503.8 207,503.8 208,503.8 209,503.8 210,503.8 211,503.8 212,503.8 213,503.8 214,503.8 215,503.8 216,503.8 217,503.7 218,503.6 219,503.5 220,503.3 221,503.2 222,503.2 223,503.1 224,503.1 225,503.1 226,503.1 227,503.1 228,503.1 229,503.1 230,503.1 231,503.1 232,503.1 233,503.1 234,503.2 235,506.8 236,507.5" fill="none" stroke="#f09868" stroke-width="2.6" stroke-linejoin="round" /><polyline points="325,499.7 326,499.9 327,500 328,500.2 329,500.5 330,500.8 331,501.2 332,501.8 333,502.4 334,503 335,503.6 336,504.3 337,504.8 338,505.3 339,505.8 340,506.3 341,506.9 342,507.4 343,507.8 344,508.1 345,508.2" fill="none" stroke="#f09868" stroke-width="2.6" stroke-linejoin="round" /><polyline points="435,498.5 436,500.4 437,503 438,505.3 439,506.3 440,506.3 441,506.2 442,506 443,505.8 444,505.6 445,505.3 446,504.9 447,504.1 448,503 449,501.9 450,500.9 451,500.2 452,500 453,500 454,500.1 455,500.1 456,500.2 457,500.3 458,500.3 459,500.4 460,500.5 461,500.5 462,500.6 463,500.6 464,500.5 465,500.4 466,500.1 467,499.9 468,499.6 469,499.2 470,498.8 471,498.4 472,497.7 473,496.8 474,495.9 475,495.2" fill="none" stroke="#f09868" stroke-width="2.6" stroke-linejoin="round" /><polyline points="540,382.3 541,392.5 542,402.3 543,411.7 544,421.2 545,429.8 546,436.4 547,440.6 548,444 549,446.8 550,449.3 551,451.7 552,454.3 553,456.6 554,458.9 555,461 556,463.2 557,465.3 558,467.6 559,469.8 560,471.8 561,473.6 562,474.9 563,476.1 564,477.1 565,478 566,478.9 567,479.6 568,480.4 569,481.1 570,481.8 571,482.4 572,482.9 573,483.3 574,483.6 575,483.9 576,484.1 577,484.3 578,484.6 579,485.1 580,485.6 581,486.2 582,486.7 583,487.1 584,487.4 585,487.5 586,487.4 587,487.2 588,486.8 589,486.3 590,485.7 591,485.2 592,484.7 593,484.3 594,483.8 595,483.3 596,482.6" fill="none" stroke="#f09868" stroke-width="2.6" stroke-linejoin="round" /><polyline points="683,501.3 684,501.3 685,501.3 686,501.2 687,501.2 688,501.2 689,501.2 690,501.1 691,501.3 692,501.8 693,502.5 694,503.3 695,504.2 696,505.1 697,505.9 698,506.5 699,507 700,507.5 701,508 702,508.5 703,509 704,509.7 705,510.5 706,511.1 707,511.5 708,511.1 709,509.2 710,506.4 711,503.4 712,500.6" fill="none" stroke="#f09868" stroke-width="2.6" stroke-linejoin="round" /><polyline points="800,499 801,499.9 802,500 803,499.9 804,499.7 805,499.4 806,499.1 807,498.9 808,498.7 809,498.6 810,498.7 811,498.9 812,499.2" fill="none" stroke="#f09868" stroke-width="2.6" stroke-linejoin="round" /><polyline points="462.8,501.1 463.8,501.1 464.8,501 465.8,500.8 466.8,500.5 467.8,500.2 468.8,499.8 469.8,499.5 470.8,499.1 471.8,498.5 472.8,497.7 473.8,496.9 474.8,496.1 475.8,495.5 476.8,495 477.8,494.7 478.8,494.4 479.8,494.1 480.8,493.8 481.8,493.4 482.8,493 483.8,492.6 484.8,492.1 485.8,491.5 486.8,490.6 487.8,489.2 488.8,486.3 489.8,482.6 490.8,479.3 491.8,476.8 492.8,474.8 493.8,472.7 494.8,470 495.8,466.5 496.8,462.1 497.8,456.6 498.8,449.8 499.8,439 500.8,425 501.8,411.5 502.8,400.5 503.8,390.4 504.8,380.7 505.8,370.9 506.8,360.8 507.8,350.5 508.8,340.3 509.8,330.5 510.8,321.2 511.8,312.2 512.8,303.4 513.8,294.9 514.8,286.7 515.8,278.1 516.8,270 517.8,264.6 518.8,260.5 519.8,256.7 520.8,253.6 521.8,251.3 522.8,250 523.8,250.1 524.8,252.1 525.8,255.7 526.8,260.3 527.8,265.6 528.8,271.2 529.8,277.5 530.8,285.6 531.8,294.6 532.8,303.8 533.8,313.6 534.8,323.9 535.8,334.1 536.8,343.9 537.8,353.4 538.8,363.3 539.8,374.1 540.8,387.1 541.8,400.1 542.8,410.7 543.8,420.5 544.8,429.1 545.8,435.9 546.8,440.4 547.8,443.9 548.8,446.8 549.8,449.4 550.8,451.8 551.8,454.3 552.8,456.7 553.8,459 554.8,461.2 555.8,463.3 556.8,465.4 557.8,467.7 558.8,469.9 559.8,472 560.8,473.8 561.8,475.3 562.8,476.5 563.8,477.6 564.8,478.6 565.8,479.4 566.8,480 567.8,480.5 568.8,480.8 569.8,481.2 570.8,481.6 571.8,482.1 572.8,482.6 573.8,483.2 574.8,483.7 575.8,484.2 576.8,484.7 577.8,485.2 578.8,485.7 579.8,486.2 580.8,486.8 581.8,487.3 582.8,487.7 583.8,488 584.8,488.1 585.8,488 586.8,487.8 587.8,487.4 588.8,487 589.8,486.4 590.8,485.9 591.8,485.4 592.8,484.9 593.8,484.5 594.8,484" fill="none" stroke="#f09868" stroke-width="2.6" stroke-linejoin="round" /><polyline points="722,474.9 723,474.4 724,473.1 725,471.1 726,468.4 727,465.3 728,459.9 729,450.1 730,438.1 731,426.4 732,415.7 733,404.6 734,393 735,380.4 736,365.5 737,349.2 738,335 739,323.3 740,312.6 741,302.9 742,294.1 743,286.2 744,277.9 745,269.6 746,261.7 747,254.7 748,249.2 749,245.5 750,244.1 751,244.8 752,246.7 753,249.5 754,252.8 755,256.5 756,260.2 757,264.3 758,269.2 759,274.8 760,281.1 761,288.5 762,297 763,306.5 764,316.8 765,328.7 766,342" fill="none" stroke="#f09868" stroke-width="2.6" stroke-linejoin="round" /></g>
<rect x="89.85" y="1.1" width="839.45" height="422.9" fill="none"/>
<path d="M89.85 0V538 M88.85 524H930.3 M929.3 0V538 M88.85 1.1H930.3" stroke="#000" stroke-width="2.1" fill="none"/>
<line x1="209.8" y1="524" x2="209.8" y2="538" stroke="#000" stroke-width="2.1"/>
<line x1="329.7" y1="524" x2="329.7" y2="538" stroke="#000" stroke-width="2.1"/>
<line x1="449.6" y1="524" x2="449.6" y2="538" stroke="#000" stroke-width="2.1"/>
<line x1="569.5" y1="524" x2="569.5" y2="538" stroke="#000" stroke-width="2.1"/>
<line x1="689.5" y1="524" x2="689.5" y2="538" stroke="#000" stroke-width="2.1"/>
<line x1="809.4" y1="524" x2="809.4" y2="538" stroke="#000" stroke-width="2.1"/>
<line x1="77" y1="518.4" x2="89.85" y2="518.4" stroke="#000" stroke-width="2.6"/>
<text transform="translate(68.6 526.9) scale(0.846 1)" font-family="'Liberation Sans'" font-size="28.9" text-anchor="end" fill="#000">0.0</text>
<line x1="77" y1="403.4" x2="89.85" y2="403.4" stroke="#000" stroke-width="2.6"/>
<text transform="translate(68.6 411.9) scale(0.846 1)" font-family="'Liberation Sans'" font-size="28.9" text-anchor="end" fill="#000">0.2</text>
<line x1="77" y1="288.4" x2="89.85" y2="288.4" stroke="#000" stroke-width="2.6"/>
<text transform="translate(68.6 296.9) scale(0.846 1)" font-family="'Liberation Sans'" font-size="28.9" text-anchor="end" fill="#000">0.4</text>
<line x1="77" y1="173.4" x2="89.85" y2="173.4" stroke="#000" stroke-width="2.6"/>
<text transform="translate(68.6 181.9) scale(0.846 1)" font-family="'Liberation Sans'" font-size="28.9" text-anchor="end" fill="#000">0.6</text>
<line x1="77" y1="58.4" x2="89.85" y2="58.4" stroke="#000" stroke-width="2.6"/>
<text transform="translate(68.6 66.9) scale(0.846 1)" font-family="'Liberation Sans'" font-size="28.9" text-anchor="end" fill="#000">0.8</text>
<text transform="translate(95.8 564.5) rotate(-15) scale(0.86 1)" font-family="'Liberation Sans'" font-size="26.8" text-anchor="middle" fill="#000">2016/1/1</text>
<text transform="translate(215.8 564.5) rotate(-15) scale(0.86 1)" font-family="'Liberation Sans'" font-size="26.8" text-anchor="middle" fill="#000">2017/1/1</text>
<text transform="translate(335.7 564.5) rotate(-15) scale(0.86 1)" font-family="'Liberation Sans'" font-size="26.8" text-anchor="middle" fill="#000">2018/1/1</text>
<text transform="translate(455.6 564.5) rotate(-15) scale(0.86 1)" font-family="'Liberation Sans'" font-size="26.8" text-anchor="middle" fill="#000">2019/1/1</text>
<text transform="translate(575.5 564.5) rotate(-15) scale(0.86 1)" font-family="'Liberation Sans'" font-size="26.8" text-anchor="middle" fill="#000">2020/1/1</text>
<text transform="translate(695.5 564.5) rotate(-15) scale(0.86 1)" font-family="'Liberation Sans'" font-size="26.8" text-anchor="middle" fill="#000">2021/1/1</text>
<text transform="translate(815.4 564.5) rotate(-15) scale(0.86 1)" font-family="'Liberation Sans'" font-size="26.8" text-anchor="middle" fill="#000">2022/1/1</text>
<text transform="translate(935.3 564.5) rotate(-15) scale(0.86 1)" font-family="'Liberation Sans'" font-size="26.8" text-anchor="middle" fill="#000">2022/12/31</text>
<rect x="117.2" y="17" width="128.6" height="13.6" fill="#d8eee0"/>
<text x="119.0" y="46.4" textLength="125.7" lengthAdjust="spacingAndGlyphs" font-family="'Liberation Sans'" font-weight="bold" font-size="15" fill="#332b2b">NDVI_ error band</text>
<line x1="117.5" y1="67" x2="245.5" y2="67" stroke="#13b08a" stroke-width="3.7" stroke-linecap="round"/>
<text x="102.0" y="89.5" textLength="159.0" lengthAdjust="spacingAndGlyphs" font-family="'Liberation Sans'" font-weight="bold" font-size="15" fill="#332b2b">NDVI<tspan font-style="italic">mean</tspan>_grassland</text>
<line x1="273" y1="17.6" x2="402" y2="17.6" stroke="#d42a2a" stroke-width="3.9" stroke-linecap="round"/>
<text x="272.7" y="40.3" textLength="129.3" lengthAdjust="spacingAndGlyphs" font-family="'Liberation Sans'" font-weight="bold" font-size="15" fill="#332b2b">SATNs_smoothed</text>
<line x1="273" y1="67.3" x2="402" y2="67.3" stroke="#c5d5f5" stroke-width="3.7" stroke-linecap="round"/>
<text x="269.0" y="89.5" textLength="135.0" lengthAdjust="spacingAndGlyphs" font-family="'Liberation Sans'" font-weight="bold" font-size="15" fill="#332b2b">SATNs_Narat Shan</text>
<line x1="431" y1="17.5" x2="559" y2="17.5" stroke="#45a5f0" stroke-width="3.7" stroke-linecap="round"/>
<text x="431.0" y="40.6" textLength="127.0" lengthAdjust="spacingAndGlyphs" font-family="'Liberation Sans'" font-weight="bold" font-size="15" fill="#332b2b">Nalati_smoothed</text>
<line x1="434" y1="67.5" x2="562" y2="67.5" stroke="#fbbf2a" stroke-width="3.7" stroke-linecap="round"/>
<text x="428.8" y="90.5" textLength="139.2" lengthAdjust="spacingAndGlyphs" font-family="'Liberation Sans'" font-weight="bold" font-size="15" fill="#332b2b">Kalajun_smoothed</text>
<line x1="612" y1="17.5" x2="740" y2="17.5" stroke="#1565d0" stroke-width="3.7" stroke-linecap="round"/>
<text x="592.0" y="40.6" textLength="168.5" lengthAdjust="spacingAndGlyphs" font-family="'Liberation Sans'" font-weight="bold" font-size="15" fill="#332b2b">Kuerdening_smoothed</text>
<text transform="translate(-1.2 31.2) scale(0.8 1)" font-family="'Liberation Sans'" font-size="49.5" fill="#302828" stroke="#302828" stroke-width="1.1">a</text>
<g clip-path="url(#cb)"><polygon points="88,1047.1 89,1047.1 90,1047.1 91,1048.3 92,1049.5 93,1047.1 94,1043.8 95,1039.9 96,1035.4 97,1030.2 98,1024.6 99,1018.3 100,1011 101,1002.8 102,993.7 103,983.5 104,972.4 105,960.3 106,947.4 107,933.8 108,919.4 109,904.6 110,889.5 111,874.2 112,858.9 113,843.7 114,828.7 115,813.8 116,798.9 117,784.2 118,769.8 119,756.1 120,744 121,734.4 122,728.6 123,725.4 124,725.4 125,728.6 126,734.3 127,742.9 128,753.2 129,764.2 130,775.2 131,785.8 132,796 133,806 134,816 135,826.2 136,836.6 137,847.4 138,858.4 139,869.7 140,881.1 141,892.5 142,903.9 143,915.1 144,926 145,936.7 146,947 147,956.8 148,966.2 149,975.1 150,983.4 151,991.2 152,998.4 153,1005.1 154,1011.3 155,1016.9 156,1022 157,1026.6 158,1030.7 159,1034.4 160,1037.8 161,1040.8 162,1043.5 163,1045.8 164,1046.7 165,1043.9 166,1040.6 167,1036.8 168,1032.3 169,1027.2 170,1021.4 171,1014.9 172,1007.5 173,999.2 174,990.1 175,980.1 176,969.3 177,957.6 178,945.3 179,932.3 180,918.8 181,904.9 182,890.8 183,876.6 184,862.5 185,848.6 186,834.8 187,821.2 188,807.6 189,794.1 190,780.7 191,767.7 192,755.9 193,746.3 194,739.9 195,736.2 196,735.6 197,738.1 198,743.3 199,751.5 200,761.5 201,772.5 202,783.6 203,794.5 204,805 205,815.3 206,825.5 207,836 208,846.6 209,857.6 210,868.8 211,880.2 212,891.8 213,903.3 214,914.8 215,926 216,937 217,947.7 218,957.9 219,967.7 220,977 221,985.7 222,993.9 223,1001.4 224,1008.5 225,1014.9 226,1020.8 227,1026.1 228,1030.9 229,1035.4 230,1039.4 231,1042.9 232,1046 233,1048.7 234,1051.1 235,1049.1 236,1045.9 237,1042.2 238,1037.9 239,1032.9 240,1027.4 241,1021.3 242,1014.4 243,1006.7 244,998.3 245,989.1 246,979.1 247,968.3 248,956.9 249,944.8 250,932.1 251,919.1 252,905.7 253,892.2 254,878.6 255,865.1 256,851.8 257,838.7 258,825.8 259,812.9 260,800 261,787 262,774.2 263,761.9 264,751 265,742.7 266,737.7 267,735.5 268,736.5 269,740.4 270,746.7 271,755.3 272,765 273,775 274,784.7 275,793.9 276,802.7 277,811.2 278,819.8 279,828.4 280,837.4 281,846.7 282,856.2 283,866 284,876 285,886 286,896.1 287,906.1 288,916 289,925.7 290,935.1 291,944.2 292,952.9 293,961.3 294,969.2 295,976.7 296,983.7 297,990.3 298,996.4 299,1002.1 300,1007.3 301,1012.1 302,1016.4 303,1020.3 304,1023.9 305,1027 306,1029.9 307,1032.4 308,1032.7 309,1029.2 310,1025.1 311,1020.5 312,1015.2 313,1009.2 314,1002.5 315,995 316,986.7 317,977.7 318,967.9 319,957.3 320,946 321,934.2 322,921.7 323,908.9 324,895.8 325,882.5 326,869.2 327,855.8 328,842.5 329,828.9 330,815.1 331,800.5 332,785.1 333,768.8 334,752 335,735.7 336,721.6 337,711.3 338,705.4 339,704.3 340,708.4 341,716.9 342,729 343,743.2 344,758 345,772 346,784.8 347,796.3 348,806.7 349,816.5 350,826 351,835.5 352,845.1 353,854.9 354,865 355,875.2 356,885.4 357,895.7 358,905.8 359,915.8 360,925.6 361,935.1 362,944.2 363,952.9 364,961.2 365,969 366,976.4 367,983.2 368,989.6 369,995.5 370,1000.9 371,1005.8 372,1010.3 373,1014.3 374,1017.9 375,1021.1 376,1024 377,1026.5 378,1028.7 379,1030.6 380,1032.3 381,1030.7 382,1027.4 383,1023.7 384,1019.2 385,1014 386,1008 387,1001 388,993.1 389,984.1 390,974 391,962.9 392,950.8 393,937.6 394,923.5 395,908.6 396,893 397,876.9 398,860.4 399,843.8 400,827.2 401,810.6 402,793.9 403,777.1 404,760.2 405,743.3 406,726.7 407,711.4 408,698.6 409,689.7 410,684.7 411,683.5 412,686.3 413,692.6 414,701.7 415,713.2 416,725.6 417,738 418,749.8 419,761 420,771.7 421,782.1 422,792.5 423,803.2 424,814.1 425,825.2 426,836.6 427,848.1 428,859.7 429,871.3 430,882.6 431,893.8 432,904.6 433,915 434,925 435,934.5 436,943.5 437,951.9 438,959.8 439,967.1 440,973.8 441,979.9 442,985.5 443,990.6 444,995.2 445,999.3 446,1002.9 447,1006.2 448,1009.1 449,1011.6 450,1013.2 451,1010.4 452,1007.1 453,1003.2 454,998.8 455,993.7 456,988 457,981.4 458,974.1 459,966 460,957 461,947.2 462,936.5 463,925.1 464,912.9 465,900 466,886.6 467,872.7 468,858.5 469,844.1 470,829.6 471,815.3 472,801.2 473,787.3 474,773.7 475,760.2 476,746.7 477,733.1 478,719.6 479,706.6 480,695 481,685.9 482,679.9 483,676.9 484,677.2 485,680.9 486,687.9 487,698 488,709.9 489,722.6 490,735.3 491,747.8 492,759.9 493,772 494,784 495,796.3 496,808.9 497,821.8 498,834.9 499,848.2 500,861.6 501,874.8 502,887.9 503,900.7 504,913 505,925 506,936.4 507,947.2 508,957.3 509,966.8 510,975.7 511,983.9 512,991.3 513,998.2 514,1004.4 515,1009.9 516,1014.9 517,1019.3 518,1023.2 519,1026.6 520,1029.6 521,1032.2 522,1034.4 523,1036.4 524,1036.6 525,1034.5 526,1031.2 527,1027.4 528,1022.9 529,1017.4 530,1011.1 531,1003.7 532,995.2 533,985.5 534,974.6 535,962.4 536,949.1 537,934.5 538,918.9 539,902.3 540,884.9 541,866.9 542,848.5 543,830 544,811.5 545,793.1 546,774.9 547,757 548,739.4 549,722.4 550,706.5 551,692.7 552,682.1 553,675.7 554,672.5 555,672.5 556,675.7 557,681.7 558,690.4 559,701 560,712.5 561,724.2 562,735.6 563,746.7 564,757.7 565,768.9 566,780.2 567,792 568,804 569,816.4 570,829.1 571,841.8 572,854.6 573,867.3 574,879.7 575,891.9 576,903.8 577,915.1 578,926 579,936.3 580,946 581,955.1 582,963.6 583,971.5 584,978.7 585,985.3 586,991.3 587,996.8 588,1001.7 589,1006 590,1010 591,1013.4 592,1016.5 593,1019.2 594,1021.6 595,1021.4 596,1018.6 597,1015.4 598,1011.5 599,1007.1 600,1001.9 601,996 602,989.3 603,981.8 604,973.4 605,964.1 606,953.9 607,942.8 608,930.9 609,918.3 610,904.9 611,891 612,876.6 613,861.9 614,847.1 615,832.3 616,817.5 617,802.9 618,788.3 619,773.5 620,758.5 621,743 622,727.1 623,711.4 624,696.9 625,685 626,677.1 627,672.7 628,672.7 629,677.1 630,685.2 631,697.4 632,712.1 633,727.7 634,743.4 635,758.6 636,773.2 637,787.4 638,801.5 639,815.6 640,829.9 641,844.3 642,858.8 643,873.2 644,887.5 645,901.5 646,915 647,928 648,940.3 649,951.9 650,962.8 651,972.8 652,982.1 653,990.5 654,998.1 655,1004.9 656,1011 657,1016.3 658,1021 659,1025.1 660,1028.7 661,1031.7 662,1034.3 663,1036.6 664,1036.6 665,1034.4 666,1031.8 667,1028.8 668,1025.3 669,1021.3 670,1016.7 671,1011.4 672,1005.4 673,998.8 674,991.3 675,983.1 676,974 677,964.2 678,953.6 679,942.3 680,930.2 681,917.5 682,904.3 683,890.7 684,876.7 685,862.6 686,848.4 687,834.3 688,820.3 689,806.4 690,792.6 691,778.6 692,764.3 693,749.3 694,733.8 695,718.2 696,703.5 697,690.9 698,682.1 699,677.3 700,676.9 701,680.8 702,688.4 703,699 704,711.7 705,725.1 706,738.1 707,750.3 708,761.6 709,772.3 710,782.7 711,793.1 712,803.7 713,814.5 714,825.6 715,836.9 716,848.3 717,859.8 718,871.2 719,882.5 720,893.6 721,904.3 722,914.7 723,924.6 724,934 725,943 726,951.4 727,959.2 728,966.5 729,973.2 730,979.4 731,985.1 732,990.2 733,994.9 734,999.1 735,1002.8 736,1006.2 737,1009.2 738,1010.7 739,1007.6 740,1004 741,1000 742,995.4 743,990.1 744,984.2 745,977.7 746,970.4 747,962.4 748,953.7 749,944.2 750,934.1 751,923.3 752,911.9 753,900 754,887.6 755,874.9 756,862 757,849 758,836 759,823.2 760,810.6 761,798.1 762,785.7 763,773.2 764,760.2 765,746.8 766,732.8 767,718.8 768,705.7 769,694.8 770,687.3 771,683.1 772,683.1 773,687.3 774,695.1 775,706.6 776,720.1 777,734.3 778,748.4 779,761.9 780,774.8 781,787.2 782,799.5 783,811.7 784,824.2 785,836.9 786,849.7 787,862.6 788,875.6 789,888.4 790,900.9 791,913.1 792,924.9 793,936.2 794,946.9 795,957 796,966.4 797,975.1 798,983.2 799,990.6 800,997.3 801,1003.3 802,1008.8 803,1013.6 804,1017.9 805,1021.7 806,1024.9 807,1027.8 808,1030.2 809,1032.3 810,1033.8 811,1031.5 812,1028.8 813,1025.7 814,1022 815,1017.6 816,1012.6 817,1006.8 818,1000.1 819,992.6 820,984.2 821,974.9 822,964.7 823,953.5 824,941.5 825,928.8 826,915.3 827,901.3 828,886.8 829,872.1 830,857.1 831,842.2 832,827.1 833,811.8 834,796.2 835,780 836,763 837,745.4 838,727.8 839,711.5 840,698.1 841,689.3 842,684.8 843,685.3 844,690.7 845,700 846,712.6 847,726.9 848,741.6 849,755.4 850,768.2 851,779.8 852,790.6 853,800.9 854,811.2 855,821.5 856,832.1 857,842.8 858,853.7 859,864.7 860,875.7 861,886.6 862,897.3 863,907.7 864,917.8 865,927.5 866,936.8 867,945.5 868,953.8 869,961.5 870,968.7 871,975.3 872,981.4 873,986.9 874,991.9 875,996.5 876,1000.6 877,1004.2 878,1007.5 879,1010.4 880,1012.9 881,1015.1 882,1015.1 883,1012.3 884,1009 885,1005.2 886,1000.8 887,995.6 888,989.8 889,983.1 890,975.7 891,967.4 892,958.3 893,948.4 894,937.6 895,926 896,913.8 897,900.9 898,887.6 899,873.9 900,860 901,846 902,832 903,818.1 904,804.3 905,790.4 906,776.3 907,761.8 908,746.9 909,731.9 910,717.7 911,705.3 912,696.3 913,690.7 914,689 915,691.5 916,697.8 917,707.6 918,720.2 919,734.1 920,748.1 921,761.8 922,774.8 923,787.3 924,799.5 925,811.7 926,824 927,836.5 928,849.2 929,862 930,874.8 931,887.4 932,899.8 933,911.9 934,923.5 935,934.6 936,945.1 937,955 938,964.3 939,972.9 940,980.7 941,988 942,994.5 943,1000.4 944,1005.7 945,1010.5 946,1014.7 947,1018.4 947,1050.3 946,1050 945,1049.5 944,1049.1 943,1048.6 942,1045.1 941,1041.1 940,1036.7 939,1031.7 938,1026.2 937,1020.1 936,1013.4 935,1006.1 934,998.1 933,989.5 932,980.2 931,970.3 930,959.8 929,948.8 928,937.2 927,925.1 926,912.7 925,900.1 924,887.6 923,875.5 922,864.3 921,854.6 920,846.7 919,841.2 918,837.8 917,835.9 916,834.4 915,831.8 914,827.4 913,833.8 912,838.1 911,841.3 910,844.7 909,849.4 908,856.1 907,865.1 906,875.9 905,888.1 904,901 903,914.2 902,927.2 901,939.8 900,951.9 899,963.2 898,973.8 897,983.6 896,992.5 895,1000.7 894,1008.1 893,1014.7 892,1020.6 891,1025.8 890,1030.3 889,1034.2 888,1037.6 887,1040.4 886,1042.7 885,1043.1 884,1043.4 883,1043.7 882,1043.9 881,1043.9 880,1043.7 879,1043.4 878,1043.2 877,1042.3 876,1040.3 875,1037.9 874,1035.2 873,1032.2 872,1028.8 871,1025 870,1020.8 869,1016.1 868,1010.9 867,1005.2 866,999.1 865,992.4 864,985.1 863,977.4 862,969.1 861,960.3 860,951.1 859,941.3 858,931.2 857,920.7 856,910 855,899 854,888 853,877.2 852,866.9 851,857.6 850,850 849,844.7 848,842.2 847,842.5 846,845.2 845,848.8 844,851.3 843,852.3 842,860.9 841,866 840,868.4 839,869.7 838,871.7 837,875.7 836,882.5 835,891.9 834,903.4 833,916.1 832,929.6 831,943 830,956.2 829,968.7 828,980.5 827,991.5 826,1001.7 825,1011 824,1019.4 823,1026.9 822,1033.7 821,1039.6 820,1044.8 819,1049.4 818,1053.3 817,1056.6 816,1059.4 815,1060.1 814,1060.6 813,1061.1 812,1061.4 811,1061.4 810,1061.5 809,1061.5 808,1061.5 807,1061.2 806,1060.9 805,1060.6 804,1060.2 803,1057.9 802,1055.3 801,1052.3 800,1048.8 799,1044.8 798,1040.3 797,1035.2 796,1029.6 795,1023.3 794,1016.5 793,1008.9 792,1000.8 791,991.9 790,982.5 789,972.4 788,961.7 787,950.4 786,938.6 785,926.4 784,913.8 783,901 782,888.3 781,875.9 780,864.3 779,854.1 778,845.9 777,840.2 776,836.9 775,835.7 774,835.2 773,834.1 772,830.9 771,829.2 770,832.4 769,833.6 768,834.1 767,835.6 766,839 765,845 764,853.3 763,863.6 762,875.3 761,887.6 760,900.2 759,912.8 758,925.1 757,936.9 756,948.2 755,958.9 754,968.9 753,978.2 752,986.9 751,994.8 750,1002.1 749,1008.7 748,1014.6 747,1019.9 746,1024.6 745,1028.8 744,1032.4 743,1035.3 742,1036.3 741,1036.6 740,1037 739,1037.3 738,1037.3 737,1037.3 736,1037.1 735,1036.8 734,1036.5 733,1036.1 732,1033.9 731,1030.8 730,1027.3 729,1023.4 728,1019 727,1014.2 726,1009 725,1003.2 724,996.9 723,990.1 722,982.8 721,974.9 720,966.5 719,957.6 718,948.2 717,938.2 716,927.9 715,917.1 714,906.1 713,894.7 712,883.2 711,871.7 710,860.5 709,849.8 708,840.1 707,832.1 706,826.3 705,823.2 704,822.6 703,824 702,826 701,827 700,827.8 699,834.8 698,838.8 697,840.7 696,842.1 695,844.5 694,849.1 693,856.3 692,865.9 691,877.5 690,890.3 689,903.9 688,917.5 687,931.1 686,944.2 685,956.8 684,968.8 683,980.1 682,990.7 681,1000.5 680,1009.6 679,1017.9 678,1025.5 677,1032.4 676,1038.5 675,1044 674,1048.9 673,1053.2 672,1056.9 671,1060.1 670,1062.8 669,1064.1 668,1064.5 667,1064.9 666,1065.2 665,1065.3 664,1065.3 663,1065.3 662,1065.3 661,1065.2 660,1064.9 659,1064.5 658,1064 657,1062.8 656,1060 655,1056.8 654,1053 653,1048.6 652,1043.7 651,1038.1 650,1031.8 649,1024.8 648,1017.1 647,1008.6 646,999.4 645,989.3 644,978.5 643,967 642,954.7 641,941.9 640,928.4 639,914.6 638,900.6 637,886.8 636,873.7 635,861.8 634,851.7 633,844.1 632,838.9 631,835.7 630,833.5 629,830.7 628,826.1 627,825.6 626,830.6 625,833.8 624,836.6 623,840.3 622,846 621,854.1 620,864.6 619,876.9 618,890.3 617,904.2 616,918.1 615,931.8 614,944.9 613,957.4 612,969 611,979.9 610,989.9 609,999.1 608,1007.4 607,1015 606,1021.7 605,1027.7 604,1032.9 603,1037.5 602,1041.5 601,1044.9 600,1047.8 599,1049.6 598,1050 597,1050.3 596,1050.6 595,1050.8 594,1050.8 593,1050.6 592,1050.3 591,1050 590,1049.6 589,1047.8 588,1045.3 587,1042.4 586,1039.2 585,1035.5 584,1031.4 583,1026.8 582,1021.7 581,1016.1 580,1010 579,1003.3 578,996 577,988.1 576,979.6 575,970.5 574,960.8 573,950.5 572,939.7 571,928.4 570,916.6 569,904.4 568,891.9 567,879.3 566,866.7 565,854.5 564,843.2 563,833.6 562,826.8 561,823.8 560,825.2 559,831.1 558,840.3 557,850.3 556,857.8 555,864.2 554,875 553,879.3 552,878.8 551,876.1 550,874.4 549,875.9 548,881.5 547,891.1 546,903.8 545,918.4 544,933.8 543,949.2 542,964.1 541,978.1 540,991 539,1002.8 538,1013.4 537,1023 536,1031.5 535,1038.9 534,1045.4 533,1050.9 532,1055.7 531,1059.7 530,1062.5 529,1063.2 528,1063.8 527,1064.3 526,1064.7 525,1064.7 524,1064.7 523,1064.7 522,1064.7 521,1064.6 520,1064.4 519,1064 518,1063.7 517,1062.8 516,1060.4 515,1057.6 514,1054.4 513,1050.7 512,1046.5 511,1041.9 510,1036.6 509,1030.8 508,1024.4 507,1017.4 506,1009.8 505,1001.5 504,992.5 503,983 502,972.8 501,962 500,950.6 499,938.7 498,926.3 497,913.5 496,900.4 495,887.3 494,874.4 493,862.3 492,851.5 491,843.1 490,838.1 489,837.1 488,840.3 487,846.7 486,854.1 485,859.7 484,860.6 483,860.3 482,861.7 481,858.2 480,852.4 479,847.2 478,844.9 477,846.7 476,852.5 475,861.7 474,873.2 473,886.1 472,899.5 471,913 470,926.2 469,938.8 468,950.7 467,961.9 466,972.4 465,982 464,990.8 463,998.9 462,1006.1 461,1012.6 460,1018.4 459,1023.6 458,1028.1 457,1032 456,1035.4 455,1038.3 454,1040.6 453,1041 452,1041.3 451,1041.6 450,1041.8 449,1041.6 448,1041.4 447,1041.1 446,1040.9 445,1038.8 444,1036.4 443,1033.8 442,1030.7 441,1027.3 440,1023.5 439,1019.3 438,1014.6 437,1009.4 436,1003.7 435,997.5 434,990.7 433,983.4 432,975.5 431,967.1 430,958.1 429,948.7 428,938.7 427,928.3 426,917.5 425,906.3 424,894.9 423,883.4 422,872 421,861.1 420,851.2 419,843.2 418,837.9 417,836.2 416,838.7 415,845 414,853.7 413,862.3 412,867.8 411,876.1 410,883.8 409,885.8 408,884.2 407,881.5 406,880.4 405,882.6 404,888.6 403,898.2 402,910.3 401,923.9 400,938.1 399,952.2 398,965.8 397,978.6 396,990.5 395,1001.4 394,1011.3 393,1020.2 392,1028.2 391,1035.2 390,1041.4 389,1046.7 388,1051.4 387,1055.3 386,1058.6 385,1059.9 384,1060.6 383,1061.1 382,1061.5 381,1061.6 380,1061.6 379,1061.5 378,1061.3 377,1061.1 376,1060.8 375,1060 374,1058.2 373,1056.1 372,1053.7 371,1051 370,1047.9 369,1044.5 368,1040.6 367,1036.3 366,1031.6 365,1026.4 364,1020.8 363,1014.7 362,1008.1 361,1001 360,993.5 359,985.5 358,977 357,968.2 356,958.9 355,949.3 354,939.4 353,929.2 352,918.8 351,908.4 350,898.1 349,888.2 348,878.9 347,871 346,865 345,861.6 344,861.1 343,863.5 342,867.9 341,872.5 340,875.3 339,877.2 338,883.3 337,885.7 336,885.5 335,884.6 334,884.9 333,887.6 332,893.2 331,901.6 330,912 329,923.7 328,936.1 327,948.6 326,960.9 325,972.7 324,984 323,994.6 322,1004.5 321,1013.6 320,1022 319,1029.7 318,1036.6 317,1042.8 316,1048.4 315,1053.3 314,1057.6 313,1060.1 312,1061.7 311,1062.6 310,1063.1 309,1063.4 308,1063.5 307,1063.6 306,1063.4 305,1063.1 304,1062.7 303,1062.3 302,1060.7 301,1057.9 300,1054.8 299,1051.4 298,1047.5 297,1043.3 296,1038.7 295,1033.6 294,1028.1 293,1022.1 292,1015.7 291,1008.9 290,1001.6 289,993.9 288,985.7 287,977.1 286,968.2 285,958.9 284,949.3 283,939.4 282,929.3 281,919.1 280,908.7 279,898.4 278,888.3 277,878.5 276,869.2 275,861 274,854 273,848.7 272,845.1 271,843 270,841.9 269,840.8 268,838.9 267,845.2 266,851.6 265,857 264,862.3 263,868.3 262,875.6 261,884.6 260,895.2 259,907.1 258,919.9 257,933.1 256,946.5 255,959.6 254,972.3 253,984.5 252,996 251,1006.9 250,1017.1 249,1026.6 248,1035.3 247,1043.3 246,1050.5 245,1057 244,1062.9 243,1068.1 242,1072.6 241,1076.6 240,1080 239,1082.6 238,1083.4 237,1083.4 236,1083.4 235,1083.4 234,1083.4 233,1083.4 232,1083.4 231,1083.4 230,1083.4 229,1081.7 228,1079.5 227,1076.6 226,1073.2 225,1069.4 224,1065.1 223,1060.4 222,1055.2 221,1049.4 220,1043.1 219,1036.3 218,1028.9 217,1021 216,1012.5 215,1003.5 214,994 213,983.9 212,973.5 211,962.6 210,951.4 209,939.9 208,928.2 207,916.4 206,904.8 205,893.6 204,883.1 203,873.7 202,865.9 201,859.9 200,855.7 199,852.9 198,850.7 197,848.2 196,845 195,852.3 194,858.4 193,863.9 192,869.7 191,876.5 190,885 189,895.2 188,906.9 187,919.7 186,933.2 185,946.8 184,960.1 183,973.1 182,985.5 181,997.1 180,1008 179,1018.1 178,1027.4 177,1035.9 176,1043.5 175,1050.4 174,1056.4 173,1061.8 172,1066.5 171,1070.6 170,1074 169,1077 168,1078.7 167,1078.7 166,1078.7 165,1078.7 164,1078.7 163,1078.7 162,1078.7 161,1078.7 160,1078.7 159,1078.1 158,1076 157,1073.5 156,1070.6 155,1067.4 154,1063.8 153,1059.7 152,1055.2 151,1050.2 150,1044.7 149,1038.8 148,1032.3 147,1025.2 146,1017.7 145,1009.6 144,1001 143,991.9 142,982.3 141,972.3 140,961.8 139,951 138,939.8 137,928.4 136,916.8 135,905.2 134,893.7 133,882.5 132,872.1 131,862.7 130,854.7 129,848.6 128,844.2 127,841.4 126,839.4 125,837.2 124,834.6 123,843.1 122,850.6 121,857.5 120,864.6 119,872.6 118,882.1 117,893.3 116,906 115,919.7 114,934 113,948.4 112,962.4 111,975.9 110,988.8 109,1000.7 108,1011.8 107,1022 106,1031.3 105,1039.7 104,1047.2 103,1053.9 102,1060 101,1065.4 100,1070.1 99,1074.2 98,1077.7 97,1079.5 96,1079.5 95,1079.5 94,1079.5 93,1079.5 92,1079.5 91,1079.5 90,1079.5 89,1079.5 88,1079.5" fill="#d8eee2" /><path d="M90.5 1040.9h1V1065.5h-1zM92.5 1038h1V1094.8h-1zM93.5 1052.3h1V1067.7h-1zM94.5 1040.5h1V1072.2h-1zM95.5 1038.8h1V1085.9h-1zM96.5 1050.1h1V1061.2h-1zM97.5 1044.7h1V1079h-1zM98.5 1046.6h1V1081.5h-1zM99.5 1045h1V1064.6h-1zM100.5 1032.9h1V1070.7h-1zM101.5 1046.9h1V1061.3h-1zM102.5 1026h1V1058h-1zM103.5 1022.9h1V1055.5h-1zM104.5 1041.1h1V1064.6h-1zM105.5 1034.4h1V1082.4h-1zM106.5 1031.7h1V1055h-1zM107.5 1041.3h1V1078.2h-1zM108.5 1005.4h1V1051.4h-1zM109.5 1035.2h1V1069h-1zM110.5 1032.4h1V1057.1h-1zM111.5 1024.5h1V1074.6h-1zM112.5 1031h1V1058h-1zM113.5 1027h1V1067.6h-1zM114.5 1032.9h1V1055.2h-1zM115.5 1011.2h1V1053.5h-1zM116.5 1005h1V1073.4h-1zM117.5 1022.5h1V1055.9h-1zM118.5 997h1V1041.6h-1zM119.5 1014.5h1V1031.8h-1zM120.5 1018.5h1V1035h-1zM122.5 1008.5h1V1028.7h-1zM123.5 1005.7h1V1038.5h-1zM124.5 1002.7h1V1040.8h-1zM125.5 970h1V1021.1h-1zM126.5 990.5h1V1039.7h-1zM127.5 1003.5h1V1030.9h-1zM128.5 1011h1V1026.5h-1zM129.5 1005.3h1V1029h-1zM130.5 1012.7h1V1043.8h-1zM131.5 1001.4h1V1035.9h-1zM132.5 1022.7h1V1046.8h-1zM133.5 1016.5h1V1034.4h-1zM135.5 1013.1h1V1045h-1zM138.5 1037.2h1V1046.9h-1zM139.5 1034.1h1V1043.5h-1zM140.5 1027.8h1V1052.7h-1zM142.5 1020h1V1052.7h-1zM143.5 1031.4h1V1071.3h-1zM144.5 1027.9h1V1063.8h-1zM145.5 1041.8h1V1049.7h-1zM146.5 1013.4h1V1057.7h-1zM148.5 1042.5h1V1061.2h-1zM149.5 1048.5h1V1063.3h-1zM150.5 1049.9h1V1062.1h-1zM152.5 1038.7h1V1067.4h-1zM153.5 1038.2h1V1059.2h-1zM154.5 1025.6h1V1062.6h-1zM155.5 1037.1h1V1098.1h-1zM157.5 1054.4h1V1079.4h-1zM158.5 1046.3h1V1087.1h-1zM159.5 1049.8h1V1087.7h-1zM160.5 1044.4h1V1088.9h-1zM161.5 1050.5h1V1072.7h-1zM162.5 1027h1V1068.2h-1zM163.5 1045.2h1V1067.3h-1zM164.5 1039.9h1V1067.1h-1zM165.5 1049.9h1V1088.2h-1zM166.5 1047.5h1V1068h-1zM167.5 1047.1h1V1068.6h-1zM169.5 1037h1V1055.7h-1zM170.5 1034.8h1V1067.7h-1zM171.5 1044.4h1V1076h-1zM172.5 997h1V1057.4h-1zM174.5 1022.9h1V1073.5h-1zM175.5 1041.8h1V1048.5h-1zM176.5 1014.1h1V1046.8h-1zM177.5 1035.1h1V1053.8h-1zM178.5 1026.6h1V1053h-1zM180.5 1024.5h1V1051.5h-1zM181.5 1008.6h1V1065h-1zM182.5 1033.3h1V1040.3h-1zM183.5 1015.4h1V1060.6h-1zM184.5 1030.3h1V1063.1h-1zM185.5 1031h1V1050.8h-1zM186.5 1017.5h1V1038.1h-1zM187.5 1022.1h1V1057.6h-1zM188.5 1015.6h1V1034.7h-1zM189.5 1010.4h1V1039h-1zM190.5 998.1h1V1042.7h-1zM192.5 1009.2h1V1028.5h-1zM193.5 996.7h1V1020.7h-1zM194.5 1002.3h1V1041.1h-1zM195.5 988.1h1V1045.6h-1zM196.5 986.6h1V1024.6h-1zM197.5 996.3h1V1017.2h-1zM198.5 995.2h1V1043h-1zM199.5 990.6h1V1004.3h-1zM200.5 979.2h1V1006.9h-1zM201.5 989.8h1V1040.3h-1zM202.5 988.9h1V1040.5h-1zM203.5 989.8h1V1020.5h-1zM204.5 980.9h1V1028.9h-1zM205.5 987.3h1V1027.7h-1zM206.5 996.8h1V1028h-1zM208.5 969.5h1V1030.5h-1zM209.5 1024.1h1V1053.2h-1zM210.5 1009.6h1V1037.8h-1zM211.5 1027.6h1V1054.8h-1zM212.5 1031.2h1V1037.8h-1zM213.5 1024.3h1V1047.4h-1zM214.5 1026.9h1V1048.4h-1zM215.5 1024h1V1062.6h-1zM216.5 1036h1V1066.5h-1zM217.5 1036.1h1V1057.5h-1zM218.5 1040.3h1V1061.7h-1zM219.5 1000.2h1V1050.5h-1zM220.5 1027.2h1V1055h-1zM221.5 1040.1h1V1073.5h-1zM222.5 1031h1V1058.3h-1zM223.5 1038.4h1V1054.1h-1zM224.5 1038.4h1V1055.2h-1zM227.5 1040.8h1V1054.6h-1zM228.5 1031h1V1060.8h-1zM229.5 1028.6h1V1070.8h-1zM230.5 1041.6h1V1059.2h-1zM231.5 1029.1h1V1070h-1zM232.5 1033.7h1V1077.1h-1zM233.5 1042h1V1057.4h-1zM235.5 1033.8h1V1059.8h-1zM236.5 1045.3h1V1073.9h-1zM237.5 1035.8h1V1089.2h-1zM238.5 1043.5h1V1085.2h-1zM239.5 1026.9h1V1053.2h-1zM240.5 1035.1h1V1069.9h-1zM241.5 1030.5h1V1059.8h-1zM243.5 1040.4h1V1059.4h-1zM244.5 1038.8h1V1066.8h-1zM247.5 989h1V1044.9h-1zM248.5 1031.4h1V1046.9h-1zM249.5 1029.9h1V1045.6h-1zM250.5 1027.5h1V1051.4h-1zM251.5 1022.9h1V1048.1h-1zM252.5 1009h1V1044.4h-1zM253.5 1016.5h1V1035.4h-1zM254.5 1015.1h1V1063.7h-1zM255.5 1018.3h1V1034.4h-1zM256.5 999.9h1V1029h-1zM257.5 1009.7h1V1044.2h-1zM258.5 1012h1V1027.6h-1zM259.5 992.7h1V1026.8h-1zM260.5 1005.3h1V1022.8h-1zM261.5 999.3h1V1012.8h-1zM262.5 989.4h1V1025.3h-1zM264.5 983.4h1V1007.9h-1zM265.5 987.6h1V1032.5h-1zM266.5 983.8h1V1005.3h-1zM267.5 981.8h1V1026.8h-1zM268.5 971.4h1V1002.9h-1zM269.5 976.6h1V1000.2h-1zM271.5 963.9h1V1005.1h-1zM272.5 995.2h1V1009h-1zM273.5 957.4h1V1002.9h-1zM274.5 974.4h1V1002.1h-1zM275.5 988.1h1V1020h-1zM276.5 998.4h1V1039.9h-1zM277.5 971.4h1V1012.8h-1zM279.5 974.3h1V1031.4h-1zM280.5 1009.8h1V1021h-1zM281.5 1010.3h1V1025.4h-1zM282.5 1003.8h1V1034.7h-1zM283.5 1006.3h1V1025.7h-1zM284.5 1011.5h1V1035.7h-1zM285.5 1007.8h1V1030.7h-1zM288.5 1023h1V1046h-1zM289.5 1007.5h1V1047.7h-1zM290.5 1007.8h1V1052.1h-1zM291.5 1031.2h1V1051.2h-1zM292.5 1038h1V1075.9h-1zM294.5 1008.9h1V1086.4h-1zM295.5 1011.3h1V1058.7h-1zM296.5 1040.2h1V1062.9h-1zM297.5 1038.3h1V1053.4h-1zM298.5 1038.8h1V1057.7h-1zM299.5 1044.3h1V1069.5h-1zM300.5 1042.4h1V1061.1h-1zM301.5 1030.5h1V1084.3h-1zM302.5 1039.5h1V1071.9h-1zM304.5 1016.9h1V1071h-1zM305.5 1030.4h1V1056.5h-1zM306.5 1042h1V1057.2h-1zM307.5 1037.4h1V1066.8h-1zM308.5 1022.6h1V1055.2h-1zM309.5 1020h1V1071.9h-1zM313.5 1035.6h1V1052.3h-1zM314.5 993.6h1V1043.5h-1zM315.5 1029.9h1V1065.9h-1zM316.5 1014h1V1054.9h-1zM317.5 1015.2h1V1054.9h-1zM318.5 1021.9h1V1041h-1zM319.5 1027.3h1V1052.1h-1zM320.5 1022.5h1V1042.2h-1zM322.5 995.2h1V1041.2h-1zM323.5 996.6h1V1043.2h-1zM324.5 1006.8h1V1031.8h-1zM325.5 1008.1h1V1029.4h-1zM326.5 1002.6h1V1022.4h-1zM327.5 987.9h1V1038.4h-1zM328.5 986.8h1V1044.6h-1zM329.5 1002.7h1V1032h-1zM330.5 998.8h1V1052.2h-1zM332.5 981.6h1V1014.4h-1zM333.5 972.1h1V1014.3h-1zM334.5 978.6h1V1014.7h-1zM335.5 980.4h1V1012.1h-1zM336.5 946.5h1V997.3h-1zM337.5 968.1h1V1002.8h-1zM338.5 950.1h1V983.6h-1zM339.5 941.1h1V967.9h-1zM341.5 933.5h1V972.3h-1zM342.5 917.8h1V953.5h-1zM343.5 929.7h1V964.4h-1zM344.5 939.5h1V955.6h-1zM345.5 939.9h1V958.7h-1zM347.5 945.4h1V998.7h-1zM348.5 964.1h1V981.7h-1zM349.5 966.9h1V984.3h-1zM350.5 950.5h1V1006.4h-1zM351.5 989.7h1V998.1h-1zM352.5 980.8h1V1008.8h-1zM353.5 994.5h1V1007.9h-1zM354.5 989.1h1V1021.4h-1zM355.5 996h1V1028.9h-1zM356.5 1005.1h1V1034.6h-1zM357.5 989h1V1029.2h-1zM358.5 1017.5h1V1063.5h-1zM359.5 1001.7h1V1048.3h-1zM360.5 1021.3h1V1037.4h-1zM362.5 1021.9h1V1039h-1zM364.5 1033.9h1V1083.9h-1zM365.5 1032.6h1V1043.1h-1zM367.5 1029.1h1V1049.3h-1zM368.5 1000.2h1V1057.8h-1zM369.5 1026.4h1V1044h-1zM370.5 1034.9h1V1046.3h-1zM371.5 1029.8h1V1053.1h-1zM372.5 1030h1V1074.2h-1zM373.5 1027.7h1V1047.4h-1zM374.5 1014.6h1V1058h-1zM377.5 1026.4h1V1088.9h-1zM378.5 1044.1h1V1109.9h-1zM380.5 1034.5h1V1067h-1zM382.5 1013.4h1V1051.8h-1zM383.5 1035.2h1V1048.9h-1zM384.5 1018.9h1V1053h-1zM385.5 1020.6h1V1039.9h-1zM388.5 1012.8h1V1046.9h-1zM389.5 1015.3h1V1031.1h-1zM390.5 1012.8h1V1029.9h-1zM391.5 967.3h1V1036h-1zM392.5 1008.8h1V1033h-1zM393.5 1008.9h1V1046.1h-1zM394.5 982h1V1017.7h-1zM395.5 999.1h1V1012h-1zM396.5 998.9h1V1024.2h-1zM397.5 994.4h1V1008.6h-1zM398.5 993.6h1V1016.6h-1zM399.5 983.5h1V992.5h-1zM401.5 971.9h1V993.4h-1zM403.5 921.8h1V981.2h-1zM405.5 920.3h1V953.9h-1zM406.5 899.4h1V926.7h-1zM407.5 871.8h1V929.2h-1zM408.5 825.5h1V912.8h-1zM409.5 843.6h1V889.1h-1zM410.5 808.3h1V854.6h-1zM411.5 822.7h1V840.9h-1zM412.5 792.7h1V822.4h-1zM413.5 789.6h1V831.9h-1zM414.5 802.7h1V829.3h-1zM415.5 831h1V863.2h-1zM416.5 831.5h1V858h-1zM417.5 855.1h1V880.5h-1zM419.5 860.1h1V902.3h-1zM420.5 884.4h1V915h-1zM421.5 914h1V931.8h-1zM422.5 887.4h1V955.6h-1zM424.5 970.9h1V1013.5h-1zM425.5 983.4h1V996.2h-1zM427.5 991.5h1V1031.4h-1zM428.5 972.6h1V1012.9h-1zM429.5 1000.1h1V1008.4h-1zM430.5 992.1h1V1031.3h-1zM432.5 983.5h1V1035.1h-1zM433.5 976.7h1V1063.2h-1zM435.5 1006.6h1V1046.1h-1zM437.5 1003.2h1V1034.8h-1zM438.5 1000h1V1039.1h-1zM439.5 1007.4h1V1037.2h-1zM441.5 1011.3h1V1034.6h-1zM443.5 1015.2h1V1033.5h-1zM444.5 997.5h1V1053.3h-1zM445.5 1000.7h1V1036.9h-1zM446.5 1020.4h1V1037.3h-1zM447.5 1015.4h1V1041.2h-1zM448.5 1027.5h1V1042.8h-1zM450.5 1017.1h1V1041.6h-1zM451.5 1004.5h1V1043.5h-1zM452.5 1013.6h1V1028.2h-1zM454.5 993.3h1V1031h-1zM455.5 971.5h1V1043.2h-1zM456.5 991.2h1V1029.4h-1zM457.5 999.3h1V1010.7h-1zM458.5 984.4h1V1046.7h-1zM459.5 989.1h1V1019.5h-1zM460.5 959.3h1V1010.4h-1zM461.5 982.4h1V1015.8h-1zM463.5 969.2h1V1014h-1zM464.5 971h1V1018.4h-1zM465.5 961.7h1V998.2h-1zM466.5 970.3h1V1002.2h-1zM468.5 944.1h1V1016.1h-1zM469.5 951.9h1V976.9h-1zM471.5 951.5h1V971.2h-1zM472.5 931.1h1V986.3h-1zM473.5 904.8h1V938.5h-1zM474.5 894.9h1V938.6h-1zM476.5 862.6h1V915.8h-1zM477.5 844.9h1V917.1h-1zM478.5 848.9h1V864.4h-1zM479.5 822.2h1V857.9h-1zM480.5 807.5h1V844h-1zM481.5 803.9h1V827.7h-1zM482.5 808.6h1V846.6h-1zM483.5 786.4h1V826.1h-1zM484.5 787.6h1V801.1h-1zM485.5 783h1V795.4h-1zM486.5 782.6h1V835h-1zM487.5 766.7h1V794.3h-1zM488.5 769h1V807.2h-1zM491.5 805.2h1V862h-1zM492.5 822.9h1V863.5h-1zM493.5 839.1h1V891.2h-1zM494.5 845.6h1V877.6h-1zM495.5 834.4h1V896.4h-1zM496.5 882.3h1V912.2h-1zM497.5 871h1V919.7h-1zM498.5 901.6h1V922.6h-1zM500.5 926.5h1V951.8h-1zM501.5 947.1h1V958.4h-1zM502.5 944.4h1V989.2h-1zM503.5 934.2h1V999.8h-1zM504.5 981.8h1V1001.5h-1zM506.5 995.5h1V1007.3h-1zM507.5 1004.3h1V1030.2h-1zM508.5 980.9h1V1035.8h-1zM509.5 997.8h1V1014.6h-1zM510.5 996h1V1019h-1zM511.5 1002.4h1V1022.2h-1zM512.5 989h1V1024.5h-1zM513.5 994.4h1V1018.1h-1zM514.5 1004.8h1V1027.2h-1zM516.5 996.5h1V1050.8h-1zM517.5 1001.6h1V1029.1h-1zM518.5 982.1h1V1065h-1zM519.5 1017.3h1V1055h-1zM521.5 1011.8h1V1029.4h-1zM522.5 1005h1V1018.8h-1zM523.5 1006.9h1V1021h-1zM524.5 999.7h1V1028h-1zM525.5 993.7h1V1022.7h-1zM526.5 986.7h1V1017.9h-1zM527.5 989.1h1V1032.3h-1zM528.5 989.3h1V998.2h-1zM530.5 983.2h1V1003.8h-1zM531.5 973.3h1V996.8h-1zM532.5 960.2h1V996.1h-1zM533.5 959.4h1V1022.6h-1zM534.5 952.9h1V990.7h-1zM535.5 968.5h1V996.8h-1zM536.5 974.1h1V1023.9h-1zM537.5 954.8h1V989.4h-1zM538.5 966.6h1V1003.8h-1zM539.5 949.9h1V983.8h-1zM540.5 918.2h1V992.2h-1zM541.5 916.9h1V950.1h-1zM542.5 912.8h1V938h-1zM543.5 898.1h1V931.1h-1zM544.5 883.8h1V908.3h-1zM545.5 852.3h1V908.1h-1zM546.5 860h1V880.7h-1zM547.5 835.9h1V893.4h-1zM548.5 832.3h1V865.4h-1zM549.5 812.3h1V873.9h-1zM550.5 805.2h1V830.2h-1zM551.5 794.8h1V819.8h-1zM552.5 790.2h1V821.1h-1zM554.5 758.8h1V855.4h-1zM555.5 755.8h1V813.3h-1zM556.5 765h1V801.7h-1zM557.5 773.6h1V843.4h-1zM558.5 781.2h1V811.5h-1zM559.5 754.7h1V833.8h-1zM560.5 761.1h1V791.2h-1zM561.5 779.2h1V842.9h-1zM562.5 790.6h1V816.4h-1zM563.5 804.8h1V832.3h-1zM564.5 768.6h1V858.7h-1zM565.5 834.4h1V851.1h-1zM566.5 785.2h1V858.3h-1zM567.5 856.2h1V874.4h-1zM568.5 874.5h1V911.3h-1zM570.5 888.3h1V931.3h-1zM571.5 905.9h1V964.4h-1zM572.5 918.5h1V977.2h-1zM573.5 947.5h1V961.5h-1zM574.5 940.7h1V983h-1zM575.5 966.5h1V1018.9h-1zM576.5 960.6h1V998.7h-1zM578.5 991.6h1V1036h-1zM579.5 1001.1h1V1033.3h-1zM580.5 985.9h1V1016.3h-1zM582.5 1000.3h1V1055.4h-1zM583.5 991.8h1V1056.5h-1zM584.5 1009.9h1V1034.5h-1zM585.5 995.1h1V1023.1h-1zM586.5 989.6h1V1028.8h-1zM588.5 1000.7h1V1023.6h-1zM589.5 1003.2h1V1033.1h-1zM591.5 1003.5h1V1027.6h-1zM592.5 1004.7h1V1030.7h-1zM593.5 999.6h1V1032.2h-1zM595.5 1000h1V1028.4h-1zM596.5 989.3h1V1028.1h-1zM597.5 1006h1V1028.6h-1zM599.5 1001h1V1022.9h-1zM600.5 988.4h1V1028.3h-1zM601.5 991.3h1V1017.6h-1zM602.5 992.7h1V1001h-1zM603.5 985.9h1V1001.3h-1zM605.5 947.8h1V990.9h-1zM606.5 948.4h1V1002.3h-1zM607.5 959.7h1V996.9h-1zM608.5 926.8h1V968.4h-1zM609.5 948.8h1V961.3h-1zM610.5 916.1h1V954.4h-1zM611.5 933.1h1V964.6h-1zM614.5 891.1h1V942h-1zM615.5 897.2h1V910.7h-1zM616.5 887.6h1V901.4h-1zM617.5 872.8h1V901.7h-1zM618.5 841.9h1V882.8h-1zM619.5 853h1V920.6h-1zM620.5 849.1h1V858h-1zM621.5 833.4h1V862.4h-1zM622.5 814.5h1V856.7h-1zM623.5 805.7h1V841.4h-1zM624.5 773.3h1V825.5h-1zM626.5 767.3h1V790h-1zM627.5 750.6h1V799.7h-1zM628.5 747.8h1V813h-1zM629.5 719.8h1V785.8h-1zM630.5 734.9h1V783.4h-1zM631.5 745.9h1V764.4h-1zM632.5 744h1V777.9h-1zM633.5 729.5h1V781.9h-1zM634.5 751.7h1V829.7h-1zM635.5 758.9h1V824.1h-1zM636.5 787.5h1V802.6h-1zM637.5 799h1V840.9h-1zM638.5 816.8h1V832.1h-1zM639.5 832.6h1V878.7h-1zM640.5 817.2h1V897.1h-1zM641.5 853.9h1V905.9h-1zM642.5 829.6h1V895.3h-1zM643.5 880.2h1V922.7h-1zM644.5 892.5h1V907.6h-1zM645.5 883.3h1V929.3h-1zM647.5 935.4h1V988.7h-1zM648.5 946.8h1V961.5h-1zM649.5 935.6h1V981.6h-1zM651.5 988.9h1V1025h-1zM652.5 978.1h1V1039.8h-1zM653.5 998.3h1V1011h-1zM654.5 996.5h1V1014.8h-1zM655.5 956.4h1V1026.5h-1zM656.5 997.7h1V1019.3h-1zM657.5 976.1h1V1013.9h-1zM658.5 1004.1h1V1020.6h-1zM659.5 989.4h1V1018.3h-1zM660.5 992h1V1052.7h-1zM661.5 1008.1h1V1023.5h-1zM662.5 1002.7h1V1023.5h-1zM663.5 1008.7h1V1052.5h-1zM664.5 1011.4h1V1018h-1zM665.5 999.7h1V1033.5h-1zM666.5 1001.1h1V1018.6h-1zM667.5 999.1h1V1010.6h-1zM668.5 975h1V1012.1h-1zM669.5 988.7h1V1019.7h-1zM670.5 986h1V1027.9h-1zM671.5 960.5h1V1004.8h-1zM672.5 974.9h1V1011.2h-1zM673.5 985h1V1017.3h-1zM674.5 968.3h1V990.6h-1zM675.5 952h1V1007h-1zM676.5 981.8h1V993.4h-1zM677.5 979.6h1V994.6h-1zM678.5 976.9h1V987.5h-1zM679.5 970.1h1V988.9h-1zM680.5 977.3h1V992.2h-1zM681.5 956.5h1V999h-1zM682.5 971.4h1V995h-1zM683.5 914h1V967.8h-1zM684.5 941.7h1V982.1h-1zM685.5 899.3h1V946.3h-1zM686.5 917.7h1V924h-1zM687.5 886.6h1V920.8h-1zM688.5 886.6h1V929h-1zM689.5 869.5h1V918.7h-1zM690.5 853.4h1V875.9h-1zM691.5 849.5h1V870.3h-1zM692.5 830.6h1V860.3h-1zM693.5 809h1V909.9h-1zM694.5 804.7h1V854.5h-1zM696.5 775.4h1V792.6h-1zM697.5 757.2h1V807.1h-1zM698.5 690.4h1V794.3h-1zM699.5 716.6h1V768.4h-1zM700.5 723.9h1V763.5h-1zM701.5 682.6h1V739.8h-1zM702.5 702h1V721.9h-1zM703.5 688.4h1V762.7h-1zM704.5 712.3h1V759.2h-1zM705.5 725.1h1V760.3h-1zM706.5 719.7h1V774.6h-1zM707.5 734.3h1V764.8h-1zM708.5 746.7h1V809.2h-1zM709.5 780.2h1V795.9h-1zM710.5 802.9h1V815.2h-1zM711.5 799h1V843.1h-1zM712.5 832.6h1V874h-1zM713.5 842.5h1V878.3h-1zM714.5 859h1V904.5h-1zM715.5 896.1h1V923.3h-1zM716.5 925.7h1V955.2h-1zM717.5 939.3h1V953.3h-1zM719.5 970.9h1V984.8h-1zM720.5 975.6h1V1005.3h-1zM721.5 986.3h1V1016.9h-1zM722.5 967.6h1V1006.1h-1zM723.5 983.7h1V1013.2h-1zM724.5 984.6h1V1021.3h-1zM725.5 979.3h1V1029.5h-1zM726.5 979h1V1022.1h-1zM727.5 1000.8h1V1021.4h-1zM728.5 1000.3h1V1031h-1zM729.5 1001.8h1V1023.9h-1zM730.5 979.8h1V1019.7h-1zM731.5 999.8h1V1032.1h-1zM732.5 984.8h1V1020.9h-1zM733.5 1004.4h1V1025.5h-1zM734.5 1016.2h1V1028h-1zM735.5 1015.3h1V1040.7h-1zM736.5 992.4h1V1036.6h-1zM738.5 1001.1h1V1023h-1zM739.5 981.5h1V1012.7h-1zM740.5 983.5h1V1056.3h-1zM741.5 980.7h1V1004.5h-1zM742.5 974.5h1V1002.6h-1zM743.5 974.7h1V1012.5h-1zM744.5 984.4h1V993.9h-1zM745.5 976.3h1V998.8h-1zM747.5 934.9h1V988.7h-1zM748.5 974.8h1V990.6h-1zM749.5 985.7h1V1021.4h-1zM750.5 973.8h1V1011.9h-1zM751.5 963.9h1V1018h-1zM752.5 968.1h1V1021.9h-1zM753.5 976.7h1V985.4h-1zM754.5 942.4h1V1016.5h-1zM755.5 971h1V997h-1zM756.5 952.7h1V975.9h-1zM757.5 955.2h1V992.4h-1zM758.5 955.5h1V968.9h-1zM759.5 944.5h1V979.7h-1zM760.5 934.7h1V968.2h-1zM761.5 909.4h1V970.8h-1zM762.5 911.4h1V958.4h-1zM763.5 898.5h1V947.5h-1zM764.5 921.3h1V972.5h-1zM765.5 928.1h1V952.1h-1zM766.5 917h1V939.7h-1zM767.5 926.1h1V982.1h-1zM768.5 920.4h1V947h-1zM769.5 926.7h1V967.5h-1zM770.5 937.1h1V981.3h-1zM771.5 934h1V962.2h-1zM772.5 963h1V980.2h-1zM773.5 964.4h1V1001.5h-1zM774.5 961.2h1V1004.8h-1zM775.5 989.9h1V1016.3h-1zM776.5 967.7h1V1020.7h-1zM778.5 999.3h1V1037.1h-1zM779.5 1002.7h1V1021.1h-1zM780.5 986.4h1V1012.4h-1zM781.5 998.8h1V1021.4h-1zM782.5 964.5h1V1011.4h-1zM783.5 966.5h1V994.4h-1zM784.5 969h1V1008.3h-1zM785.5 976.4h1V1005.4h-1zM786.5 967.6h1V1001.6h-1zM787.5 949.7h1V983h-1zM788.5 971.9h1V982.4h-1zM789.5 967.5h1V995.1h-1zM791.5 948.4h1V987.2h-1zM792.5 974.5h1V995h-1zM793.5 973.6h1V1012.9h-1zM794.5 971.4h1V1009.9h-1zM795.5 966.2h1V1003h-1zM797.5 976.7h1V1019.8h-1zM798.5 987.7h1V1006.3h-1zM799.5 959.7h1V1010.4h-1zM800.5 973.7h1V1004.2h-1zM801.5 996.1h1V1024.9h-1zM803.5 993.8h1V1028.4h-1zM804.5 999.4h1V1025.9h-1zM805.5 1019.6h1V1054.2h-1zM806.5 997.5h1V1030.2h-1zM807.5 1004h1V1032.4h-1zM808.5 1003.4h1V1035.8h-1zM809.5 965.9h1V1038.1h-1zM810.5 1007.6h1V1039.3h-1zM811.5 1003.2h1V1035.4h-1zM813.5 984h1V1015h-1zM814.5 974.4h1V1018.7h-1zM815.5 974.7h1V1026.5h-1zM816.5 943.8h1V1013.3h-1zM817.5 988.3h1V1007.7h-1zM818.5 958.8h1V990.4h-1zM819.5 952.6h1V979.6h-1zM820.5 948.4h1V967h-1zM821.5 921.7h1V950.2h-1zM822.5 901.7h1V929.7h-1zM823.5 892.8h1V918.1h-1zM824.5 891.4h1V903.3h-1zM825.5 874.2h1V911.3h-1zM826.5 854.5h1V896.3h-1zM827.5 855.2h1V915.7h-1zM828.5 864.3h1V878h-1zM829.5 844.4h1V877.2h-1zM830.5 844.6h1V868.3h-1zM831.5 821.6h1V861.9h-1zM832.5 844h1V872.4h-1zM833.5 847h1V866.8h-1zM834.5 831.4h1V871.8h-1zM835.5 803.8h1V860.5h-1zM836.5 791.4h1V855.7h-1zM837.5 802.2h1V828h-1zM838.5 759h1V804.2h-1zM839.5 767.1h1V800.4h-1zM840.5 750.1h1V793.5h-1zM841.5 778.7h1V806.8h-1zM842.5 790.6h1V847h-1zM843.5 801.2h1V826.8h-1zM844.5 814h1V834.3h-1zM846.5 852.1h1V876.4h-1zM847.5 879.6h1V901.5h-1zM849.5 907.2h1V944h-1zM850.5 915.7h1V952.4h-1zM851.5 938.3h1V954.8h-1zM852.5 938.8h1V971.3h-1zM853.5 957.8h1V1005.2h-1zM854.5 939.7h1V997.8h-1zM855.5 954.4h1V986.1h-1zM856.5 949h1V981.1h-1zM857.5 965.5h1V1014.7h-1zM858.5 952.7h1V979.7h-1zM859.5 952.7h1V993h-1zM860.5 992.3h1V1001h-1zM861.5 993.8h1V1007.4h-1zM862.5 995.7h1V1043.9h-1zM863.5 993.8h1V1025.1h-1zM864.5 1011.1h1V1031.3h-1zM865.5 1020.2h1V1061.7h-1zM866.5 1014.4h1V1047.4h-1zM867.5 996.2h1V1064.3h-1zM868.5 1015h1V1067.9h-1zM869.5 1011.3h1V1027.7h-1zM870.5 1013.2h1V1040.5h-1zM871.5 971.6h1V1037.1h-1zM872.5 1007.3h1V1028.7h-1zM873.5 1023.5h1V1047.8h-1zM874.5 1004.6h1V1033.1h-1zM875.5 1019.6h1V1040.7h-1zM876.5 1005.3h1V1052.1h-1zM877.5 998.1h1V1055h-1zM878.5 1021h1V1046.7h-1zM879.5 1016.2h1V1036.7h-1zM880.5 1007.8h1V1026.9h-1zM881.5 984.8h1V1035.2h-1zM882.5 1013.8h1V1090h-1zM883.5 998h1V1030.3h-1zM884.5 1014.8h1V1025.4h-1zM885.5 1003.1h1V1026.2h-1zM886.5 1009.5h1V1021.7h-1zM887.5 1012.3h1V1021.1h-1zM888.5 1007.3h1V1045.7h-1zM889.5 997.2h1V1026.1h-1zM890.5 998.2h1V1014.3h-1zM891.5 1007.6h1V1017.5h-1zM892.5 967.1h1V1034.7h-1zM893.5 981.7h1V1028.7h-1zM895.5 984.2h1V1007.7h-1zM897.5 956h1V990.7h-1zM898.5 962.2h1V984.2h-1zM899.5 928.5h1V960.1h-1zM900.5 903.4h1V948.8h-1zM902.5 902.7h1V943.4h-1zM903.5 870.5h1V906.9h-1zM904.5 876.7h1V916.5h-1zM905.5 848h1V885.7h-1zM906.5 839.4h1V871.7h-1zM907.5 826.8h1V857h-1zM909.5 806.2h1V850.9h-1zM910.5 769.7h1V818.9h-1zM911.5 747h1V815.6h-1zM912.5 753.9h1V773.9h-1zM914.5 749.7h1V788.4h-1zM915.5 770.2h1V835h-1zM916.5 771.6h1V801.1h-1zM917.5 800.3h1V825.7h-1zM918.5 795.7h1V857.1h-1zM919.5 839.2h1V866.4h-1zM920.5 862.4h1V903.7h-1zM921.5 880.3h1V927.4h-1zM922.5 922.9h1V929.7h-1zM924.5 956.7h1V998.1h-1zM925.5 978.9h1V992.1h-1zM926.5 969.1h1V1013.6h-1zM927.5 973.6h1V1025.5h-1zM930.5 979.9h1V1020.3h-1zM931.5 988.9h1V1018.4h-1zM932.5 964.9h1V1025.2h-1zM933.5 990.9h1V1023.8h-1zM934.5 988.8h1V1019.4h-1zM936.5 1000.1h1V1021.7h-1zM937.5 1006.2h1V1018.5h-1zM938.5 994.1h1V1015.7h-1zM939.5 1011.8h1V1023.6h-1zM940.5 994.4h1V1023.3h-1zM941.5 1002.8h1V1035.7h-1zM942.5 1004.8h1V1044.4h-1zM943.5 991.3h1V1031.8h-1zM944.5 1013.8h1V1040.1h-1zM945.5 997.9h1V1053.8h-1zM946.5 1018.8h1V1034.1h-1z" fill="#fccab0"/><path d="M564.8 636.6h1.8V822.4h-1.8zM631.8 689.9h1.8V799.4h-1.8zM629.5 753.4h6.0V822.4h-6.0zM702.3 606.2h1.6V753.4h-1.6zM704.6 606.2h1.6V753.4h-1.6zM706.5 712.0h1.4V799.4h-1.4zM768.3 827.0h1.8V937.4h-1.8zM913.8 685.8h1.8V799.4h-1.8zM341.5 909.8h1.6V960.4h-1.6zM344.0 923.6h1.4V960.4h-1.4zM840.5 744.2h1.6V822.4h-1.6zM843.0 753.4h1.4V822.4h-1.4zM414.5 776.4h1.6V845.4h-1.6zM487.5 762.6h1.6V822.4h-1.6zM557.0 762.6h1.6V822.4h-1.6z" fill="#fcc6aa"/><line x1="158.6" y1="626" x2="158.6" y2="1080" stroke="#000" stroke-width="1.8" stroke-dasharray="8.7 9.1"/><line x1="230.4" y1="626" x2="230.4" y2="1080" stroke="#000" stroke-width="1.8" stroke-dasharray="8.7 9.1"/><line x1="302.2" y1="626" x2="302.2" y2="1080" stroke="#000" stroke-width="1.8" stroke-dasharray="8.7 9.1"/><line x1="374.0" y1="626" x2="374.0" y2="1080" stroke="#000" stroke-width="1.8" stroke-dasharray="8.7 9.1"/><line x1="445.8" y1="626" x2="445.8" y2="1080" stroke="#000" stroke-width="1.8" stroke-dasharray="8.7 9.1"/><line x1="517.6" y1="626" x2="517.6" y2="1080" stroke="#000" stroke-width="1.8" stroke-dasharray="8.7 9.1"/><line x1="589.5" y1="626" x2="589.5" y2="1080" stroke="#000" stroke-width="1.8" stroke-dasharray="8.7 9.1"/><line x1="661.3" y1="626" x2="661.3" y2="1080" stroke="#000" stroke-width="1.8" stroke-dasharray="8.7 9.1"/><line x1="733.1" y1="626" x2="733.1" y2="1080" stroke="#000" stroke-width="1.8" stroke-dasharray="8.7 9.1"/><line x1="804.9" y1="626" x2="804.9" y2="1080" stroke="#000" stroke-width="1.8" stroke-dasharray="8.7 9.1"/><line x1="876.7" y1="626" x2="876.7" y2="1080" stroke="#000" stroke-width="1.8" stroke-dasharray="8.7 9.1"/><polyline points="88,1059.6 89,1060.7 90,1061.9 91,1062.9 92,1063.4 93,1063.4 94,1062.2 95,1059.5 96,1056.2 97,1052.3 98,1047.8 99,1042.7 100,1036.9 101,1030.3 102,1022.7 103,1014.3 104,1004.8 105,994.3 106,982.8 107,970.3 108,957 109,942.9 110,928.2 111,913 112,897.5 113,882 114,866.7 115,851.8 116,837.7 117,824.6 118,812.8 119,802.6 120,794.1 121,787.5 122,783.1 123,780.8 124,780.7 125,782 126,784.6 127,788.3 128,793.3 129,799.4 130,806.5 131,814.5 132,823.5 133,833.1 134,843.4 135,854.2 136,865.4 137,876.9 138,888.5 139,900.2 140,911.9 141,923.4 142,934.7 143,945.7 144,956.3 145,966.5 146,976.2 147,985.3 148,994 149,1002.1 150,1009.6 151,1016.5 152,1022.8 153,1028.7 154,1033.9 155,1038.7 156,1043 157,1046.8 158,1050.3 159,1053.3 160,1055.9 161,1058.2 162,1060.3 163,1062 164,1062.6 165,1061.4 166,1059.1 167,1056.3 168,1053 169,1049.2 170,1044.7 171,1039.5 172,1033.5 173,1026.7 174,1019 175,1010.5 176,1001.1 177,990.7 178,979.5 179,967.5 180,954.7 181,941.3 182,927.4 183,913.2 184,898.8 185,884.4 186,870.2 187,856.5 188,843.6 189,831.5 190,820.7 191,811.2 192,803.3 193,797.2 194,792.9 195,790.6 196,790.3 197,791.5 198,793.9 199,797.7 200,802.7 201,808.8 202,816 203,824.2 204,833.3 205,843.2 206,853.6 207,864.6 208,876 209,887.7 210,899.5 211,911.4 212,923.2 213,934.8 214,946.1 215,957.1 216,967.7 217,977.8 218,987.4 219,996.4 220,1004.9 221,1012.7 222,1020 223,1026.7 224,1032.8 225,1038.3 226,1043.3 227,1047.8 228,1051.8 229,1055.3 230,1058.4 231,1061.2 232,1063.5 233,1065.6 234,1067.3 235,1066.5 236,1064.2 237,1061.5 238,1058.3 239,1054.6 240,1050.3 241,1045.4 242,1039.7 243,1033.4 244,1026.2 245,1018.3 246,1009.6 247,1000 248,989.6 249,978.5 250,966.7 251,954.2 252,941.2 253,927.7 254,914 255,900.1 256,886.3 257,872.7 258,859.5 259,846.9 260,835.2 261,824.5 262,814.9 263,806.8 264,800.1 265,795.1 266,791.8 267,790.3 268,790.3 269,791.5 270,793.7 271,797 272,801.2 273,806.4 274,812.5 275,819.3 276,827 277,835.2 278,844.1 279,853.4 280,863.1 281,873.1 282,883.3 283,893.6 284,903.9 285,914.2 286,924.3 287,934.3 288,944 289,953.3 290,962.4 291,971 292,979.2 293,987 294,994.2 295,1001.1 296,1007.4 297,1013.2 298,1018.6 299,1023.6 300,1028.1 301,1032.1 302,1035.8 303,1039.1 304,1042 305,1044.7 306,1047 307,1048.1 308,1047.8 309,1046.8 310,1044.9 311,1041.3 312,1037.2 313,1032.4 314,1026.9 315,1020.7 316,1013.8 317,1006 318,997.5 319,988.1 320,978 321,967.1 322,955.4 323,943.2 324,930.4 325,917.2 326,903.8 327,890.3 328,876.8 329,863.6 330,851 331,839 332,827.8 333,817.8 334,809.1 335,801.8 336,796.1 337,792 338,789.8 339,789.3 340,790.1 341,792.1 342,795.1 343,799.2 344,804.3 345,810.4 346,817.3 347,825 348,833.4 349,842.4 350,851.9 351,861.8 352,872 353,882.4 354,892.9 355,903.5 356,913.9 357,924.2 358,934.2 359,944 360,953.3 361,962.3 362,970.9 363,979 364,986.6 365,993.7 366,1000.3 367,1006.4 368,1012 369,1017 370,1021.7 371,1025.8 372,1029.6 373,1032.9 374,1035.9 375,1038.5 376,1040.7 377,1042.7 378,1044.4 379,1045.9 380,1046.4 381,1046.2 382,1045.5 383,1042.8 384,1039.5 385,1035.7 386,1031.1 387,1025.7 388,1019.5 389,1012.3 390,1004 391,994.8 392,984.4 393,972.9 394,960.4 395,946.8 396,932.3 397,917 398,901 399,884.6 400,867.9 401,851.3 402,835 403,819.4 404,804.7 405,791.2 406,779.3 407,769.2 408,761.1 409,755.2 410,751.7 411,750.6 412,751.2 413,753.1 414,756.4 415,760.8 416,766.5 417,773.3 418,781.1 419,789.8 420,799.4 421,809.6 422,820.4 423,831.6 424,843.2 425,854.9 426,866.7 427,878.5 428,890.1 429,901.5 430,912.6 431,923.3 432,933.6 433,943.4 434,952.6 435,961.3 436,969.4 437,976.9 438,983.8 439,990.2 440,996 441,1001.2 442,1005.9 443,1010.2 444,1014 445,1017.3 446,1020.3 447,1022.9 448,1025.2 449,1027.2 450,1029 451,1027 452,1024.6 453,1021.7 454,1018.3 455,1014.3 456,1009.7 457,1004.5 458,998.6 459,991.8 460,984.3 461,975.9 462,966.6 463,956.5 464,945.6 465,933.8 466,921.3 467,908.1 468,894.3 469,880.1 470,865.6 471,850.9 472,836.3 473,821.9 474,808 475,794.7 476,782.4 477,771.1 478,761.1 479,752.6 480,745.7 481,740.5 482,737.2 483,735.9 484,736.5 485,738.5 486,742.1 487,747.2 488,753.6 489,761.3 490,770.2 491,780.2 492,791.2 493,802.9 494,815.3 495,828.2 496,841.5 497,855 498,868.6 499,882.2 500,895.6 501,908.7 502,921.4 503,933.7 504,945.4 505,956.5 506,967 507,976.9 508,986 509,994.4 510,1002.2 511,1009.2 512,1015.6 513,1021.4 514,1026.5 515,1031.1 516,1035.1 517,1038.7 518,1041.8 519,1044.4 520,1046.7 521,1048.6 522,1049.1 523,1049.1 524,1049 525,1048.9 526,1048.8 527,1046.7 528,1043.5 529,1039.6 530,1034.9 531,1029.3 532,1022.7 533,1015.1 534,1006.3 535,996.3 536,985 537,972.5 538,958.7 539,943.7 540,927.6 541,910.6 542,892.8 543,874.5 544,855.9 545,837.3 546,819.2 547,801.8 548,785.5 549,770.7 550,757.7 551,746.9 552,738.4 553,732.6 554,729.5 555,729.1 556,730.3 557,732.9 558,737 559,742.4 560,749.1 561,757 562,766 563,775.9 564,786.7 565,798.1 566,810.2 567,822.7 568,835.5 569,848.5 570,861.5 571,874.4 572,887.2 573,899.7 574,911.8 575,923.5 576,934.6 577,945.3 578,955.3 579,964.7 580,973.4 581,981.5 582,989 583,995.8 584,1002 585,1007.6 586,1012.7 587,1017.3 588,1021.3 589,1024.9 590,1028.1 591,1030.8 592,1033.3 593,1035.4 594,1036.9 595,1036.9 596,1035.6 597,1033.2 598,1030.3 599,1026.9 600,1023 601,1018.4 602,1013 603,1007 604,1000 605,992.3 606,983.6 607,974 608,963.5 609,952.1 610,939.9 611,926.8 612,913.1 613,898.8 614,884.1 615,869.1 616,854.1 617,839.2 618,824.7 619,810.8 620,797.7 621,785.6 622,774.9 623,765.6 624,758 625,752.3 626,748.4 627,746.6 628,746.9 629,749 630,753 631,758.7 632,766.1 633,775 634,785.3 635,796.8 636,809.4 637,822.8 638,836.8 639,851.3 640,865.9 641,880.7 642,895.3 643,909.6 644,923.5 645,936.8 646,949.5 647,961.5 648,972.7 649,983.1 650,992.6 651,1001.3 652,1009.2 653,1016.2 654,1022.5 655,1028.1 656,1032.9 657,1037.2 658,1040.8 659,1044 660,1046.6 661,1048.9 662,1049.6 663,1049.6 664,1049.6 665,1049.6 666,1048.9 667,1046.7 668,1044.1 669,1041 670,1037.4 671,1033.2 672,1028.4 673,1023 674,1016.8 675,1009.9 676,1002.2 677,993.7 678,984.3 679,974.2 680,963.3 681,951.5 682,939.1 683,926.1 684,912.5 685,898.5 686,884.2 687,869.8 688,855.4 689,841.2 690,827.4 691,814.2 692,801.8 693,790.4 694,780.1 695,771.2 696,763.7 697,757.8 698,753.7 699,751.2 700,750.6 701,751.3 702,753.4 703,756.7 704,761.3 705,767 706,773.9 707,781.7 708,790.4 709,799.9 710,810.1 711,820.8 712,832 713,843.4 714,855.1 715,866.8 716,878.4 717,890 718,901.3 719,912.3 720,922.9 721,933.1 722,942.9 723,952.1 724,960.7 725,968.8 726,976.3 727,983.3 728,989.7 729,995.5 730,1000.8 731,1005.6 732,1009.9 733,1013.8 734,1017.3 735,1020.4 736,1023.1 737,1024.8 738,1024.9 739,1024.3 740,1021.9 741,1018.8 742,1015.1 743,1010.9 744,1006.2 745,1000.8 746,994.7 747,987.9 748,980.4 749,972.2 750,963.2 751,953.4 752,943 753,931.9 754,920.2 755,907.9 756,895.3 757,882.3 758,869.1 759,855.9 760,842.8 761,829.9 762,817.5 763,805.8 764,794.9 765,784.9 766,776.1 767,768.5 768,762.4 769,757.8 770,754.8 771,753.4 772,753.8 773,755.7 774,759.1 775,763.9 776,770.2 777,777.8 778,786.5 779,796.4 780,807.1 781,818.7 782,830.9 783,843.6 784,856.6 785,869.8 786,883 787,896.1 788,908.9 789,921.5 790,933.6 791,945.2 792,956.2 793,966.6 794,976.4 795,985.4 796,993.7 797,1001.4 798,1008.3 799,1014.6 800,1020.2 801,1025.2 802,1029.6 803,1033.5 804,1036.9 805,1039.8 806,1042.3 807,1044.5 808,1046.3 809,1046.3 810,1046.2 811,1046.1 812,1045.9 813,1043.7 814,1041 815,1037.7 816,1033.9 817,1029.4 818,1024.2 819,1018.2 820,1011.3 821,1003.6 822,994.9 823,985.3 824,974.7 825,963.2 826,950.8 827,937.7 828,923.8 829,909.4 830,894.6 831,879.7 832,864.7 833,850 834,835.7 835,822.3 836,809.8 837,798.6 838,788.8 839,780.7 840,774.5 841,770.2 842,768 843,767.7 844,768.8 845,771.1 846,774.7 847,779.5 848,785.4 849,792.3 850,800.1 851,808.8 852,818.2 853,828.2 854,838.6 855,849.5 856,860.6 857,871.8 858,883 859,894.2 860,905.1 861,915.8 862,926.2 863,936.2 864,945.7 865,954.7 866,963.2 867,971.2 868,978.6 869,985.4 870,991.7 871,997.4 872,1002.6 873,1007.3 874,1011.5 875,1015.3 876,1018.7 877,1021.6 878,1024.3 879,1026.6 880,1028.5 881,1030.3 882,1030.8 883,1029 884,1026.6 885,1023.7 886,1020.3 887,1016.4 888,1011.8 889,1006.5 890,1000.4 891,993.6 892,985.9 893,977.4 894,968 895,957.7 896,946.7 897,934.8 898,922.2 899,909 900,895.3 901,881.3 902,867.2 903,853 904,839.1 905,825.7 906,812.9 907,801 908,790.3 909,780.8 910,772.9 911,766.6 912,762.2 913,759.6 914,758.9 915,760 916,762.7 917,766.9 918,772.6 919,779.6 920,787.9 921,797.3 922,807.7 923,818.9 924,830.9 925,843.3 926,856.1 927,869.1 928,882.1 929,895.1 930,907.8 931,920.2 932,932.1 933,943.6 934,954.4 935,964.6 936,974.2 937,983 938,991.2 939,998.6 940,1005.4 941,1011.5 942,1017 943,1021.9 944,1026.3 945,1030.1 946,1033.5 947,1036.5" fill="none" stroke="#2ea55f" stroke-width="2.5" stroke-linejoin="round" /><polyline points="88,1056.5 89,1056.5 90,1056.2 91,1055.9 92,1056.8 93,1057.4 94,1055.3 95,1054.1 96,1055.7 97,1055.2 98,1054.3 99,1055.3 100,1056.1 101,1055.6 102,1053.7 103,1052.3 104,1051.8 105,1050.6 106,1048.8 107,1048.7 108,1047.7 109,1045.5 110,1044.5 111,1043.1 112,1041.2 113,1039.8 114,1039.4 115,1038.4 116,1035.2 117,1034.2 118,1034.9 119,1032.6 120,1029.1 121,1026.5 122,1024.8 123,1022 124,1019.6 125,1019.3 126,1018.5 127,1018.1 128,1018.1 129,1018.9 130,1020.8 131,1022.3 132,1024 133,1025.8 134,1029 135,1033.1 136,1034.4 137,1036.5 138,1038.8 139,1039.6 140,1041.1 141,1042.6 142,1042.8 143,1045.3 144,1046.8 145,1045.3 146,1047.3 147,1050.3 148,1051.6 149,1051.9 150,1054 151,1055.3 152,1054.8 153,1054.5 154,1054.3 155,1054.7 156,1056.5 157,1058.7 158,1060.7 159,1062.2 160,1062 161,1061.4 162,1061.3 163,1059.5 164,1057.9 165,1058.5 166,1056.8 167,1055.3 168,1054.4 169,1052.6 170,1051.3 171,1049.7 172,1048.9 173,1047.8 174,1045.3 175,1045.7 176,1046.1 177,1043.7 178,1043.6 179,1043.8 180,1041.1 181,1039.6 182,1038.5 183,1036.8 184,1036.6 185,1035.2 186,1033.4 187,1031.3 188,1029.6 189,1028.4 190,1026.5 191,1023.7 192,1020.8 193,1018.6 194,1015.3 195,1010.1 196,1006 197,1002.9 198,1000.7 199,999.7 200,999.3 201,999.6 202,1001.3 203,1002.5 204,1004.6 205,1006 206,1007.8 207,1012.6 208,1017.3 209,1023.2 210,1026.9 211,1028.7 212,1030.3 213,1034 214,1036.7 215,1038.5 216,1041.3 217,1044.4 218,1046 219,1045.7 220,1046.3 221,1046.8 222,1048.6 223,1048.7 224,1048.3 225,1049.2 226,1049.7 227,1050.1 228,1051.3 229,1053.2 230,1054.4 231,1053.3 232,1052.4 233,1053.3 234,1053.9 235,1053.5 236,1052.5 237,1051.9 238,1051.4 239,1049.1 240,1047.7 241,1048.4 242,1048.3 243,1047.4 244,1045.2 245,1043.3 246,1042.8 247,1042.3 248,1041.3 249,1041 250,1038.9 251,1036.8 252,1034.7 253,1033.4 254,1032.5 255,1028.7 256,1025.7 257,1023.9 258,1021.4 259,1017.9 260,1014.8 261,1012.7 262,1010.2 263,1007.4 264,1005.6 265,1003.7 266,1001 267,997.6 268,994.5 269,993.9 270,994.3 271,995.1 272,997 273,998.3 274,998.1 275,999 276,1000.9 277,1003.9 278,1007.4 279,1009.8 280,1012.6 281,1016.3 282,1019.1 283,1020.4 284,1022.6 285,1024 286,1024.6 287,1027.2 288,1029.4 289,1032.4 290,1037 291,1040.1 292,1042.9 293,1044.3 294,1044.9 295,1045.1 296,1045.6 297,1046.9 298,1047.9 299,1049.6 300,1050 301,1050.2 302,1050.1 303,1050 304,1049.9 305,1049.6 306,1050 307,1049.8 308,1049.4 309,1048.1 310,1046.5 311,1046.1 312,1045.2 313,1042 314,1040.9 315,1041 316,1039.7 317,1038.6 318,1035.7 319,1032.9 320,1031.5 321,1028.2 322,1024.6 323,1023.7 324,1022 325,1018.6 326,1016.6 327,1014.4 328,1012.6 329,1010.2 330,1008 331,1006.6 332,1003.7 333,1000.2 334,996.9 335,992.9 336,987.4 337,981.7 338,974.8 339,966.3 340,957.3 341,949.8 342,944.8 343,943.4 344,946.5 345,950.2 346,953 347,957.6 348,963.7 349,969.5 350,976.7 351,985.5 352,992.5 353,999 354,1005.4 355,1011.5 356,1016.9 357,1020.8 358,1022.7 359,1023.8 360,1025.4 361,1028.9 362,1032.5 363,1034.8 364,1037.8 365,1039.3 366,1040.2 367,1041.5 368,1041.5 369,1040.2 370,1039.5 371,1040.8 372,1041.4 373,1042.1 374,1042.8 375,1043.2 376,1045.1 377,1045.5 378,1046.3 379,1047.3 380,1047.2 381,1045.4 382,1043.1 383,1041.6 384,1040 385,1037.2 386,1034.8 387,1033 388,1028.8 389,1024.1 390,1021.2 391,1019.8 392,1017.6 393,1013.9 394,1011.5 395,1009 396,1007.6 397,1005.4 398,1001.5 399,996.3 400,989.7 401,982.8 402,975.3 403,967.6 404,957.4 405,944.9 406,929.4 407,910.1 408,890.6 409,875 410,861 411,847.5 412,832.7 413,820 414,816.9 415,825.4 416,839 417,853.3 418,865.7 419,878.4 420,891.9 421,906.5 422,924.1 423,942.3 424,962.6 425,979.8 426,988.9 427,994.2 428,998.5 429,1002.4 430,1005.3 431,1007.9 432,1013 433,1017.4 434,1019.4 435,1021.7 436,1023.2 437,1024.2 438,1024.2 439,1024.8 440,1025.8 441,1025.7 442,1025.8 443,1026.2 444,1026.3 445,1027.4 446,1029.3 447,1030.6 448,1032.1 449,1032.6 450,1031.6 451,1029 452,1026.2 453,1024 454,1020.5 455,1016.8 456,1015 457,1011 458,1006.5 459,1004.1 460,1000.4 461,997.5 462,995.8 463,992 464,989.8 465,988.8 466,985.4 467,984 468,982.9 469,979.7 470,972.5 471,964.1 472,954.8 473,942.9 474,929.6 475,916.2 476,902 477,887.7 478,874.2 479,860.5 480,847.3 481,834.2 482,821.8 483,812.5 484,805.2 485,797.4 486,791.8 487,788.5 488,788.8 489,791.5 490,795.9 491,804.6 492,814.2 493,827.4 494,843 495,858.2 496,872.5 497,886.1 498,899.2 499,912.9 500,926.3 501,939.8 502,952.8 503,964.3 504,975.9 505,986.6 506,994.5 507,1001.3 508,1006.9 509,1010 510,1011.3 511,1011.5 512,1011.4 513,1012.9 514,1014.2 515,1015.5 516,1016.9 517,1019.2 518,1022.2 519,1023.2 520,1022 521,1020.7 522,1019.2 523,1015.6 524,1013.2 525,1009.7 526,1005.4 527,1002.2 528,998.8 529,995.7 530,993.4 531,991.1 532,989.5 533,987.4 534,986.9 535,987.3 536,987 537,985.7 538,979 539,971.1 540,963.4 541,952.1 542,938.2 543,922.4 544,909.6 545,896.7 546,881 547,868.5 548,856.3 549,842.5 550,829.3 551,820.2 552,813.2 553,804.3 554,796.5 555,793.2 556,791.8 557,787.8 558,784.5 559,783.7 560,784.6 561,788.9 562,794.2 563,799.2 564,808.1 565,823.6 566,839.4 567,850.8 568,864.8 569,881.5 570,896.5 571,912 572,929 573,945 574,958.7 575,971.3 576,982.3 577,991.7 578,999.6 579,1006.3 580,1010.3 581,1011.5 582,1012.7 583,1012.8 584,1012.6 585,1012.4 586,1012.6 587,1012.7 588,1013.4 589,1015.8 590,1018.2 591,1019.4 592,1020.5 593,1022.4 594,1024.3 595,1025 596,1022.4 597,1018.4 598,1014.9 599,1012.4 600,1008.5 601,1004.4 602,1000.9 603,996 604,992 605,987.5 606,982.9 607,977.4 608,971.4 609,964.6 610,957 611,949.6 612,941.9 613,934.8 614,926.5 615,917.5 616,908 617,897.6 618,888.1 619,877.5 620,865.5 621,853 622,839.1 623,824.7 624,813.1 625,803.7 626,794.5 627,784.4 628,774.3 629,768 630,762.3 631,757.1 632,757.9 633,762.5 634,769.3 635,777.2 636,786.8 637,797 638,807.2 639,821.4 640,837.1 641,851 642,865.4 643,878.6 644,891 645,904.9 646,918.3 647,930.4 648,943.1 649,957.8 650,973.7 651,987.9 652,997.1 653,1000.1 654,1002.6 655,1004.9 656,1006.8 657,1006.7 658,1006.4 659,1007.6 660,1009.7 661,1013 662,1016.4 663,1017.7 664,1017.4 665,1014.1 666,1009.4 667,1005.7 668,1002.7 669,1000.2 670,996.8 671,993.7 672,991.4 673,989.6 674,988 675,985.9 676,984.8 677,984.6 678,983.3 679,981.1 680,980.4 681,979.9 682,979.5 683,975.1 684,962.9 685,949 686,934.8 687,921.1 688,907.9 689,894.1 690,881.1 691,868.4 692,855.1 693,841.2 694,827.3 695,812.8 696,797.4 697,782.7 698,768.6 699,756 700,741.7 701,729.3 702,719.8 703,712.3 704,713.6 705,720.7 706,728.5 707,736.9 708,748.2 709,767.1 710,789.7 711,811.6 712,829.9 713,849.7 714,872 715,893.3 716,913.1 717,930.6 718,947.2 719,962.2 720,974.8 721,984.9 722,993.2 723,999.7 724,1002.2 725,1002.9 726,1002.8 727,1003 728,1004.5 729,1006.5 730,1008.3 731,1012 732,1015.5 733,1018.2 734,1019.6 735,1022.1 736,1023.2 737,1021 738,1017.5 739,1011.5 740,1006.8 741,1002.9 742,999.7 743,995.2 744,990.7 745,988.1 746,987.1 747,987.2 748,986.2 749,987.1 750,988.2 751,987 752,986.1 753,983.7 754,980.6 755,978.3 756,976.1 757,972.9 758,969.2 759,965.1 760,960.2 761,955.7 762,950.7 763,945.3 764,941.9 765,937.4 766,933.2 767,932.9 768,934.1 769,937.5 770,941.1 771,945.4 772,954.8 773,967.7 774,979.4 775,989.1 776,1000.1 777,1008.8 778,1013.2 779,1014.5 780,1011 781,1005 782,1001.2 783,996.2 784,991.3 785,987.8 786,984.1 787,982.2 788,978.7 789,975.3 790,973.9 791,974.2 792,976.7 793,980 794,983 795,985.1 796,986.9 797,988 798,990.2 799,991.7 800,994 801,998.3 802,1003.6 803,1009.7 804,1014.1 805,1018.5 806,1022.2 807,1023.9 808,1022.4 809,1019.7 810,1019.4 811,1017.5 812,1013.8 813,1011.1 814,1008.9 815,1006.7 816,1003.7 817,998.7 818,991.5 819,981.7 820,969.7 821,954.5 822,941 823,927.1 824,911.3 825,896.9 826,884.5 827,877.5 828,873.1 829,870.1 830,867.6 831,863.5 832,859.5 833,857.1 834,854.1 835,850.3 836,839.2 837,822.2 838,808.1 839,798.2 840,789.7 841,785.7 842,789.7 843,798.6 844,809.3 845,824.8 846,845.5 847,866.6 848,885.2 849,904.2 850,918.9 851,931.5 852,942.6 853,951.9 854,960.8 855,965.2 856,965.3 857,966.8 858,968.6 859,976.5 860,989.1 861,998.5 862,1004.9 863,1010.1 864,1016.6 865,1022.4 866,1024.2 867,1026.7 868,1027.5 869,1024.8 870,1023.4 871,1023.7 872,1023.5 873,1024.8 874,1027 875,1029.1 876,1028.9 877,1027.9 878,1027.4 879,1025.8 880,1025.6 881,1023.3 882,1020.5 883,1019.8 884,1020 885,1019.6 886,1018.1 887,1016.9 888,1016.1 889,1014.4 890,1012.3 891,1011.2 892,1010.5 893,1008.5 894,1005.9 895,1003.4 896,996.5 897,986.1 898,976 899,965.6 900,954.3 901,941.6 902,927.9 903,913.9 904,900 905,885.2 906,869.7 907,854.2 908,839.8 909,824.2 910,810.1 911,795.5 912,780.8 913,770.5 914,768.1 915,774.3 916,784.9 917,797.9 918,810.4 919,828.6 920,851.4 921,875.2 922,902.6 923,925.7 924,947.8 925,969.6 926,982.5 927,991.4 928,996.8 929,999.5 930,999.7 931,999.5 932,1001.1 933,1003.3 934,1010.3 935,1015.3 936,1016.4 937,1015.1 938,1012.8 939,1012.6 940,1014.3 941,1016.3 942,1018.6 943,1020.7 944,1022.2 945,1024.3 946,1027.2 947,1029" fill="none" stroke="#ea4335" stroke-width="2.4" stroke-linejoin="round" /></g>
<path d="M86.8 615.4V1094 M85.8 1079.4H949.5 M948.5 615.4V1094 M72.4 615.4H949.5" stroke="#000" stroke-width="2.2" fill="none"/>
<line x1="158.6" y1="1079.4" x2="158.6" y2="1094" stroke="#000" stroke-width="2.2"/>
<line x1="230.4" y1="1079.4" x2="230.4" y2="1094" stroke="#000" stroke-width="2.2"/>
<line x1="302.2" y1="1079.4" x2="302.2" y2="1094" stroke="#000" stroke-width="2.2"/>
<line x1="374.0" y1="1079.4" x2="374.0" y2="1094" stroke="#000" stroke-width="2.2"/>
<line x1="445.8" y1="1079.4" x2="445.8" y2="1094" stroke="#000" stroke-width="2.2"/>
<line x1="517.6" y1="1079.4" x2="517.6" y2="1094" stroke="#000" stroke-width="2.2"/>
<line x1="589.5" y1="1079.4" x2="589.5" y2="1094" stroke="#000" stroke-width="2.2"/>
<line x1="661.3" y1="1079.4" x2="661.3" y2="1094" stroke="#000" stroke-width="2.2"/>
<line x1="733.1" y1="1079.4" x2="733.1" y2="1094" stroke="#000" stroke-width="2.2"/>
<line x1="804.9" y1="1079.4" x2="804.9" y2="1094" stroke="#000" stroke-width="2.2"/>
<line x1="876.7" y1="1079.4" x2="876.7" y2="1094" stroke="#000" stroke-width="2.2"/>
<line x1="73" y1="1075.4" x2="86.8" y2="1075.4" stroke="#000" stroke-width="2.6"/>
<text transform="translate(61.7 1083.9) scale(0.846 1)" font-family="'Liberation Sans'" font-size="28.5" text-anchor="end" fill="#000">0.0</text>
<line x1="73" y1="983.4" x2="86.8" y2="983.4" stroke="#000" stroke-width="2.6"/>
<text transform="translate(61.7 991.9) scale(0.846 1)" font-family="'Liberation Sans'" font-size="28.5" text-anchor="end" fill="#000">0.2</text>
<line x1="73" y1="891.4" x2="86.8" y2="891.4" stroke="#000" stroke-width="2.6"/>
<text transform="translate(61.7 899.9) scale(0.846 1)" font-family="'Liberation Sans'" font-size="28.5" text-anchor="end" fill="#000">0.4</text>
<line x1="73" y1="799.4" x2="86.8" y2="799.4" stroke="#000" stroke-width="2.6"/>
<text transform="translate(61.7 807.9) scale(0.846 1)" font-family="'Liberation Sans'" font-size="28.5" text-anchor="end" fill="#000">0.6</text>
<line x1="73" y1="707.4" x2="86.8" y2="707.4" stroke="#000" stroke-width="2.6"/>
<text transform="translate(61.7 715.9) scale(0.846 1)" font-family="'Liberation Sans'" font-size="28.5" text-anchor="end" fill="#000">0.8</text>
<text transform="translate(61.7 623.9) scale(0.846 1)" font-family="'Liberation Sans'" font-size="28.5" text-anchor="end" fill="#000">1.0</text>
<text transform="translate(90.8 1118.3) rotate(-14) scale(0.86 1)" font-family="'Liberation Sans'" font-size="19.8" text-anchor="middle" fill="#000">2011/1/1</text>
<text transform="translate(162.6 1118.3) rotate(-14) scale(0.86 1)" font-family="'Liberation Sans'" font-size="19.8" text-anchor="middle" fill="#000">2012/1/1</text>
<text transform="translate(234.4 1118.3) rotate(-14) scale(0.86 1)" font-family="'Liberation Sans'" font-size="19.8" text-anchor="middle" fill="#000">2013/1/1</text>
<text transform="translate(306.2 1118.3) rotate(-14) scale(0.86 1)" font-family="'Liberation Sans'" font-size="19.8" text-anchor="middle" fill="#000">2014/1/1</text>
<text transform="translate(378.0 1118.3) rotate(-14) scale(0.86 1)" font-family="'Liberation Sans'" font-size="19.8" text-anchor="middle" fill="#000">2015/1/1</text>
<text transform="translate(449.8 1118.3) rotate(-14) scale(0.86 1)" font-family="'Liberation Sans'" font-size="19.8" text-anchor="middle" fill="#000">2016/1/1</text>
<text transform="translate(521.6 1118.3) rotate(-14) scale(0.86 1)" font-family="'Liberation Sans'" font-size="19.8" text-anchor="middle" fill="#000">2017/1/1</text>
<text transform="translate(593.5 1118.3) rotate(-14) scale(0.86 1)" font-family="'Liberation Sans'" font-size="19.8" text-anchor="middle" fill="#000">2018/1/1</text>
<text transform="translate(665.3 1118.3) rotate(-14) scale(0.86 1)" font-family="'Liberation Sans'" font-size="19.8" text-anchor="middle" fill="#000">2019/1/1</text>
<text transform="translate(737.1 1118.3) rotate(-14) scale(0.86 1)" font-family="'Liberation Sans'" font-size="19.8" text-anchor="middle" fill="#000">2020/1/1</text>
<text transform="translate(808.9 1118.3) rotate(-14) scale(0.86 1)" font-family="'Liberation Sans'" font-size="19.8" text-anchor="middle" fill="#000">2021/1/1</text>
<text transform="translate(880.7 1118.3) rotate(-14) scale(0.86 1)" font-family="'Liberation Sans'" font-size="19.8" text-anchor="middle" fill="#000">2022/1/1</text>
<text transform="translate(952.5 1118.3) rotate(-14) scale(0.86 1)" font-family="'Liberation Sans'" font-size="19.8" text-anchor="middle" fill="#000">2022/12/31</text>
<rect x="103" y="632" width="128" height="13.6" fill="#d8eee0"/>
<text x="104.3" y="661.0" textLength="126.2" lengthAdjust="spacingAndGlyphs" font-family="'Liberation Sans'" font-weight="bold" font-size="15" fill="#332b2b">NDVI_ error band</text>
<line x1="261" y1="638.8" x2="390" y2="638.8" stroke="#13b08a" stroke-width="3.7" stroke-linecap="round"/>
<text x="245.5" y="661.0" textLength="160.1" lengthAdjust="spacingAndGlyphs" font-family="'Liberation Sans'" font-weight="bold" font-size="15" fill="#332b2b">NDVI<tspan font-style="italic">mean</tspan>_grassland</text>
<line x1="104" y1="684" x2="232" y2="684" stroke="#d42a2a" stroke-width="3.9" stroke-linecap="round"/>
<text x="104.0" y="706.0" textLength="129.0" lengthAdjust="spacingAndGlyphs" font-family="'Liberation Sans'" font-weight="bold" font-size="15" fill="#332b2b">SPTNs_smoothed</text>
<line x1="261" y1="684" x2="390" y2="684" stroke="#fdd0d0" stroke-width="3.7" stroke-linecap="round"/>
<text x="259.0" y="706.0" textLength="136.4" lengthAdjust="spacingAndGlyphs" font-family="'Liberation Sans'" font-weight="bold" font-size="15" fill="#332b2b">SPTNs_Narat Shan</text>
<text transform="translate(-3.3 640.0)" font-family="'Liberation Sans'" font-size="49" fill="#302828" stroke="#302828" stroke-width="1.0">b</text>
</svg>
</body></html>
